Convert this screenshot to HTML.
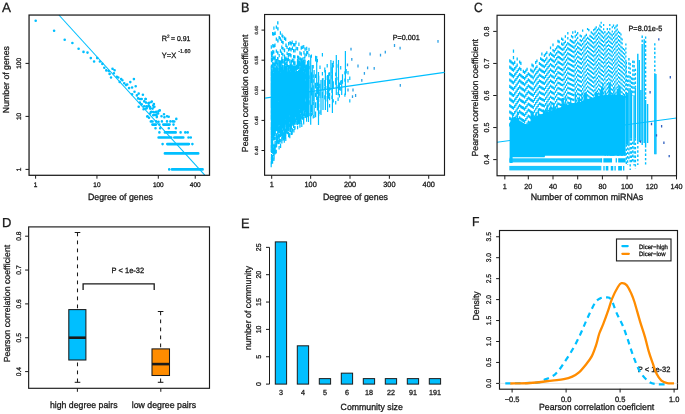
<!DOCTYPE html>
<html><head><meta charset="utf-8"><style>
html,body{margin:0;padding:0;background:#fff;width:685px;height:414px;overflow:hidden}
svg{display:block;will-change:transform}
</style></head><body>
<svg width="685" height="414" viewBox="0 0 685 414" font-family='"Liberation Sans", sans-serif'><line x1="497" y1="142.2" x2="676.5" y2="118" stroke="#00bfff" stroke-width="1.1"/><style>text{stroke:#111;stroke-width:0.28px;paint-order:stroke;text-rendering:geometricPrecision}</style><path d="M308.5 60.0V122.0M310.7 55.2V124.8M312.3 65.0V115.0M314.1 70.0V118.0M316.7 56.0V100.0M318.5 72.0V125.0M321.0 80.0V115.0M323.0 78.0V110.0M325.4 70.0V110.0M327.6 75.0V112.0M328.8 72.6V98.7M330.9 60.0V90.0M332.4 63.0V113.0M336.3 55.0V95.0M338.5 60.0V95.0M341.7 80.0V95.0M345.4 51.0V95.0" stroke="#00bfff" stroke-width="1.2" fill="none"/>
<path d="M271.4 79.1v3.4M271.4 100.9v3.4M271.3 96.7v3.4M271.5 87.9v3.4M271.4 57.3v3.4M271.2 115.9v3.4M271.3 111.8v3.4M271.4 100.4v3.4M271.5 113.6v3.4M271.5 80.9v3.4M271.6 85.7v3.4M271.3 89.6v3.4M271.5 113.6v3.4M271.6 110.5v3.4M271.2 83.3v3.4M271.6 122.6v3.4M271.2 85.8v3.4M271.2 97.4v3.4M271.6 83.7v3.4M271.2 110.2v3.4M271.5 108.8v3.4M271.3 80.9v3.4M271.3 88.3v3.4M271.3 117.2v3.4M271.6 114.7v3.4M271.3 84.7v3.4M271.5 153.9v3.4M271.3 148.1v3.4M271.2 88.2v3.4M271.4 115.9v3.4M271.4 83.7v3.4M271.4 86.1v3.4M271.3 106.2v3.4M271.5 87.4v3.4M271.6 111.8v3.4M271.6 140.3v3.4M271.2 83.0v3.4M271.6 85.4v3.4M271.5 90.4v3.4M271.3 84.1v3.4M271.3 92.2v3.4M271.5 88.6v3.4M271.3 88.0v3.4M271.3 161.1v3.4M271.3 111.0v3.4M271.3 100.2v3.4M271.5 160.5v3.4M271.4 71.7v3.4M271.6 98.8v3.4M271.6 94.3v3.4M271.5 84.0v3.4M271.6 82.6v3.4M271.6 74.2v3.4M271.5 87.4v3.4M271.5 117.9v3.4M271.5 87.3v3.4M271.4 108.6v3.4M271.4 69.8v3.4M271.5 89.2v3.4M271.5 69.3v3.4M271.5 89.9v3.4M271.2 71.7v3.4M271.2 114.7v3.4M271.5 84.4v3.4M271.4 95.7v3.4M271.3 93.0v3.4M271.3 97.7v3.4M271.4 130.9v3.4M271.3 83.2v3.4M271.5 103.5v3.4M271.6 124.3v3.4M271.3 84.0v3.4M271.5 87.8v3.4M271.3 85.9v3.4M271.4 64.5v3.4M271.5 100.2v3.4M271.3 124.3v3.4M271.2 126.9v3.4M271.5 91.5v3.4M271.3 89.0v3.4M271.2 77.9v3.4M271.5 90.4v3.4M271.3 95.0v3.4M271.5 84.0v3.4M271.5 83.6v3.4M271.4 89.8v3.4M271.2 85.7v3.4M271.3 91.3v3.4M271.5 85.7v3.4M271.4 77.9v3.4M271.6 79.7v3.4M271.3 138.3v3.4M271.5 85.1v3.4M271.6 81.9v3.4M271.6 121.2v3.4M271.5 88.3v3.4M271.5 86.4v3.4M271.6 108.2v3.4M271.5 51.3v3.4M271.6 157.9v3.4M271.4 90.1v3.4M271.5 103.5v3.4M271.2 148.6v3.4M271.3 103.1v3.4M271.3 97.1v3.4M271.5 86.6v3.4M271.4 82.3v3.4M271.2 66.1v3.4M271.5 83.2v3.4M271.4 91.4v3.4M271.4 83.4v3.4M271.6 89.2v3.4M271.4 141.3v3.4M271.3 67.6v3.4M271.2 76.7v3.4M271.4 51.3v3.4M271.4 92.7v3.4M271.4 91.4v3.4M271.6 88.9v3.4M271.3 91.4v3.4M271.5 127.9v3.4M271.3 82.7v3.4M271.6 97.0v3.4M271.3 94.2v3.4M271.5 90.5v3.4M271.2 82.8v3.4M271.2 127.1v3.4M271.4 93.0v3.4M271.4 113.6v3.4M271.3 86.1v3.4M271.5 91.7v3.4M271.5 118.4v3.4M271.5 79.7v3.4M271.3 115.2v3.4M271.3 87.0v3.4M271.3 69.3v3.4M271.2 91.7v3.4M271.4 83.8v3.4M271.5 115.2v3.4M271.3 115.5v3.4M271.2 162.3v3.4M271.5 76.4v3.4M271.2 90.0v3.4M271.2 85.9v3.4M271.3 77.5v3.4M271.3 91.6v3.4M271.2 163.9v3.4M271.6 91.4v3.4M271.4 95.6v3.4M271.4 82.4v3.4M271.5 141.1v3.4M271.4 97.0v3.4M271.3 86.5v3.4M271.2 104.5v3.4M271.5 108.5v3.4M271.4 75.3v3.4M271.5 58.9v3.4M271.6 92.1v3.4M271.4 103.0v3.4M271.6 71.3v3.4M271.4 98.7v3.4M271.2 72.7v3.4M271.3 91.3v3.4M271.4 93.9v3.4M271.3 136.3v3.4M271.4 87.0v3.4M271.5 53.7v3.4M271.4 99.6v3.4M271.3 92.7v3.4M271.4 112.5v3.4M271.3 99.4v3.4M271.6 79.4v3.4M271.6 88.6v3.4M271.4 97.5v3.4M271.2 88.6v3.4M271.3 111.8v3.4M271.4 122.6v3.4M271.4 123.6v3.4M271.3 88.8v3.4M271.3 84.4v3.4M271.3 80.3v3.4M271.3 93.3v3.4M271.4 102.2v3.4M271.6 93.0v3.4M271.2 89.2v3.4M271.6 80.7v3.4M271.4 108.2v3.4M271.6 90.7v3.4M271.4 79.7v3.4M271.3 83.6v3.4M271.4 83.7v3.4M271.4 76.3v3.4M271.4 109.2v3.4M271.6 99.7v3.4M271.5 78.5v3.4M271.5 142.5v3.4M271.3 136.0v3.4M271.4 86.9v3.4M271.5 78.8v3.4M271.6 93.6v3.4M271.4 115.9v3.4M271.2 102.2v3.4M271.5 104.9v3.4M271.5 98.8v3.4M271.3 84.8v3.4M271.5 95.9v3.4M271.4 134.3v3.4M271.3 131.6v3.4M271.3 91.9v3.4M271.6 149.5v3.4M271.6 74.1v3.4M271.3 87.0v3.4M271.2 101.9v3.4M271.4 89.6v3.4M271.2 86.8v3.4M271.5 144.2v3.4M271.5 86.6v3.4M271.3 140.1v3.4M271.2 91.3v3.4M271.4 81.7v3.4M271.4 156.9v3.4M271.3 83.2v3.4M271.6 70.4v3.4M271.3 135.8v3.4M271.4 85.2v3.4M271.4 116.6v3.4M271.4 70.9v3.4M271.5 87.3v3.4M271.4 92.5v3.4M271.4 99.5v3.4M271.5 57.3v3.4M271.2 72.8v3.4M271.5 86.9v3.4M271.3 131.0v3.4M271.5 115.4v3.4M271.4 102.8v3.4M271.4 145.0v3.4M271.4 138.5v3.4M271.5 89.5v3.4M271.5 120.5v3.4M271.5 86.7v3.4M271.6 125.7v3.4M271.4 71.3v3.4M271.4 103.5v3.4M271.5 81.1v3.4M271.3 45.3v3.4M271.6 84.1v3.4M271.3 104.7v3.4M271.3 80.6v3.4M271.4 76.4v3.4M271.2 100.1v3.4M271.3 91.3v3.4M271.3 89.7v3.4M271.3 77.2v3.4M271.4 94.3v3.4M271.4 82.7v3.4M271.3 145.3v3.4M271.6 75.7v3.4M271.6 94.8v3.4M271.4 102.8v3.4M271.6 83.5v3.4M271.3 92.1v3.4M271.5 81.6v3.4M271.4 98.1v3.4M271.3 108.1v3.4M271.4 115.8v3.4M271.4 117.4v3.4M271.5 92.6v3.4M271.5 119.1v3.4M271.3 72.1v3.4M271.4 122.1v3.4M271.4 113.4v3.4M271.4 86.0v3.4M271.2 144.7v3.4M271.4 103.1v3.4M271.5 130.6v3.4M271.3 91.2v3.4M271.5 104.5v3.4M271.4 90.8v3.4M271.6 87.8v3.4M271.4 92.0v3.4M271.3 91.5v3.4M271.6 91.3v3.4M271.3 94.2v3.4M271.4 90.1v3.4M271.3 122.2v3.4M271.3 88.4v3.4M271.3 85.0v3.4M272.6 98.8v3.4M272.8 88.2v3.4M272.8 105.4v3.4M272.5 119.5v3.4M272.7 101.1v3.4M272.9 105.3v3.4M272.8 75.6v3.4M272.7 91.6v3.4M272.7 91.0v3.4M272.9 95.5v3.4M272.5 84.1v3.4M272.6 79.0v3.4M272.7 115.0v3.4M272.8 110.3v3.4M272.9 119.8v3.4M272.6 134.3v3.4M272.9 121.7v3.4M272.8 128.5v3.4M272.8 115.6v3.4M272.5 158.9v3.4M272.6 76.4v3.4M272.6 84.3v3.4M272.6 148.5v3.4M272.7 147.8v3.4M272.9 84.1v3.4M272.7 62.0v3.4M272.8 89.4v3.4M272.7 110.0v3.4M272.6 87.5v3.4M272.6 99.4v3.4M272.8 68.0v3.4M272.8 96.3v3.4M272.8 81.0v3.4M272.6 119.1v3.4M272.7 110.7v3.4M272.7 115.3v3.4M272.8 83.0v3.4M272.8 88.4v3.4M272.7 130.8v3.4M272.7 88.7v3.4M272.7 95.3v3.4M272.8 68.0v3.4M272.7 72.8v3.4M272.7 122.2v3.4M272.9 84.6v3.4M272.9 136.8v3.4M272.7 108.6v3.4M272.5 87.4v3.4M272.7 129.5v3.4M272.8 89.7v3.4M272.6 98.6v3.4M272.5 85.9v3.4M272.9 105.8v3.4M272.8 113.1v3.4M272.8 83.5v3.4M272.8 103.7v3.4M272.7 89.7v3.4M272.6 114.5v3.4M272.5 92.9v3.4M272.6 104.5v3.4M272.5 81.8v3.4M272.7 112.8v3.4M272.9 86.7v3.4M272.9 99.4v3.4M272.6 116.2v3.4M272.6 84.6v3.4M272.9 118.9v3.4M272.9 87.6v3.4M272.5 87.1v3.4M272.8 82.9v3.4M272.6 150.3v3.4M272.5 122.0v3.4M272.6 87.9v3.4M272.6 98.9v3.4M272.8 110.1v3.4M272.7 79.8v3.4M272.6 71.6v3.4M272.8 88.0v3.4M272.9 84.5v3.4M272.5 78.3v3.4M272.6 90.2v3.4M272.6 96.9v3.4M272.6 88.0v3.4M272.9 85.5v3.4M272.7 32.0v3.4M272.7 90.5v3.4M272.7 85.3v3.4M272.6 92.9v3.4M272.7 100.0v3.4M272.8 78.7v3.4M272.8 110.0v3.4M272.7 90.6v3.4M272.8 73.6v3.4M272.6 111.1v3.4M272.7 99.7v3.4M272.7 130.4v3.4M272.6 71.0v3.4M272.5 82.1v3.4M272.6 81.0v3.4M272.5 105.3v3.4M272.8 79.2v3.4M272.6 86.5v3.4M272.7 117.2v3.4M272.6 99.5v3.4M272.6 138.5v3.4M272.6 121.2v3.4M272.5 117.7v3.4M272.6 74.4v3.4M272.7 101.2v3.4M272.9 92.2v3.4M272.5 73.8v3.4M272.9 106.1v3.4M272.7 84.9v3.4M272.5 108.1v3.4M272.8 62.0v3.4M272.6 92.5v3.4M272.9 129.6v3.4M272.7 75.2v3.4M272.6 90.4v3.4M272.8 89.5v3.4M272.7 117.3v3.4M272.7 84.1v3.4M272.6 98.6v3.4M272.6 119.0v3.4M272.6 100.1v3.4M272.9 124.6v3.4M272.7 105.6v3.4M272.8 86.7v3.4M272.6 92.5v3.4M272.7 98.4v3.4M272.6 90.8v3.4M272.9 83.6v3.4M272.9 97.4v3.4M272.6 73.7v3.4M272.6 144.9v3.4M272.7 122.8v3.4M272.5 85.9v3.4M272.7 106.1v3.4M272.7 88.0v3.4M272.8 121.0v3.4M272.6 90.1v3.4M272.6 75.3v3.4M272.8 83.0v3.4M272.6 108.9v3.4M272.5 94.6v3.4M272.7 101.0v3.4M272.8 117.0v3.4M272.6 91.3v3.4M272.8 77.9v3.4M272.8 67.0v3.4M272.5 82.1v3.4M272.6 105.5v3.4M272.7 91.5v3.4M272.6 109.6v3.4M272.6 93.7v3.4M272.6 105.6v3.4M272.8 88.3v3.4M272.7 78.3v3.4M272.5 120.1v3.4M272.7 104.2v3.4M272.5 88.7v3.4M272.9 112.6v3.4M272.6 91.5v3.4M272.7 135.8v3.4M272.9 82.6v3.4M272.8 121.7v3.4M272.6 82.3v3.4M272.9 108.8v3.4M272.6 99.7v3.4M272.6 91.0v3.4M272.6 109.2v3.4M272.8 91.9v3.4M272.7 129.2v3.4M272.7 93.1v3.4M272.7 76.8v3.4M272.9 87.8v3.4M272.6 78.6v3.4M272.8 142.5v3.4M272.6 145.6v3.4M272.7 87.8v3.4M272.8 86.1v3.4M272.6 110.2v3.4M272.7 89.4v3.4M272.5 109.0v3.4M272.5 129.1v3.4M272.8 120.0v3.4M272.8 123.2v3.4M272.6 142.5v3.4M272.8 101.2v3.4M272.8 81.4v3.4M272.8 82.7v3.4M272.7 135.2v3.4M272.8 88.4v3.4M272.6 76.7v3.4M272.6 88.6v3.4M272.7 85.2v3.4M272.8 108.1v3.4M272.8 91.7v3.4M272.8 78.2v3.4M272.8 115.8v3.4M272.6 32.0v3.4M272.7 99.1v3.4M272.8 85.6v3.4M272.6 110.7v3.4M272.9 77.8v3.4M272.8 79.1v3.4M272.6 97.9v3.4M272.9 86.4v3.4M272.6 86.8v3.4M272.7 93.9v3.4M272.6 86.1v3.4M272.6 86.0v3.4M272.9 102.9v3.4M272.5 96.2v3.4M272.6 52.0v3.4M272.7 103.2v3.4M272.5 103.1v3.4M272.8 81.6v3.4M272.8 88.0v3.4M272.8 50.0v3.4M272.6 160.4v3.4M272.5 100.0v3.4M272.8 105.6v3.4M272.6 91.1v3.4M272.5 92.7v3.4M272.8 111.8v3.4M272.8 73.1v3.4M272.5 102.2v3.4M272.7 58.0v3.4M272.5 92.8v3.4M272.6 156.5v3.4M272.8 80.9v3.4M272.8 123.9v3.4M272.6 88.1v3.4M272.6 154.7v3.4M272.7 104.3v3.4M272.6 139.3v3.4M272.7 109.6v3.4M272.7 113.9v3.4M272.9 86.4v3.4M272.9 125.3v3.4M272.9 93.2v3.4M272.9 87.1v3.4M272.6 77.1v3.4M272.8 117.6v3.4M272.6 89.5v3.4M272.8 32.0v3.4M272.8 109.4v3.4M272.8 74.2v3.4M272.7 76.1v3.4M272.8 134.5v3.4M272.8 129.2v3.4M272.7 86.3v3.4M272.7 106.7v3.4M272.7 83.7v3.4M272.9 83.5v3.4M272.8 55.8v3.4M272.8 110.7v3.4M272.8 44.0v3.4M272.6 126.5v3.4M272.8 92.0v3.4M272.7 117.6v3.4M272.8 32.0v3.4M272.6 74.0v3.4M272.8 78.6v3.4M272.6 103.1v3.4M272.8 125.9v3.4M272.6 109.3v3.4M272.7 123.4v3.4M272.8 76.6v3.4M272.5 89.2v3.4M272.8 102.8v3.4M272.7 106.4v3.4M272.7 105.2v3.4M272.8 130.5v3.4M272.8 91.7v3.4M272.5 85.0v3.4M272.6 86.1v3.4M272.8 130.3v3.4M272.7 123.8v3.4M272.5 125.0v3.4M272.6 84.1v3.4M272.8 56.0v3.4M272.6 85.6v3.4M272.7 117.7v3.4M272.7 125.4v3.4M272.6 64.3v3.4M272.6 91.7v3.4M272.6 87.5v3.4M272.8 150.3v3.4M272.8 119.1v3.4M272.7 88.0v3.4M272.7 84.3v3.4M272.6 104.3v3.4M272.7 88.6v3.4M272.9 84.9v3.4M272.8 83.2v3.4M272.7 105.5v3.4M272.5 143.0v3.4M272.6 129.0v3.4M272.9 87.5v3.4M273.8 83.0v3.4M273.7 75.4v3.4M273.7 97.7v3.4M273.9 84.7v3.4M273.7 100.7v3.4M274.0 56.4v3.4M273.9 76.9v3.4M273.9 90.9v3.4M274.1 93.3v3.4M274.0 91.7v3.4M273.9 76.2v3.4M273.9 65.5v3.4M274.0 84.8v3.4M273.7 111.6v3.4M274.0 62.5v3.4M274.1 80.5v3.4M274.0 111.0v3.4M273.8 101.0v3.4M273.9 93.6v3.4M273.8 50.4v3.4M273.8 129.1v3.4M273.8 104.5v3.4M273.8 79.5v3.4M273.7 134.6v3.4M273.8 88.4v3.4M273.9 127.1v3.4M273.9 121.0v3.4M273.9 66.2v3.4M274.0 95.2v3.4M273.9 90.1v3.4M273.9 110.7v3.4M273.9 117.4v3.4M273.7 68.4v3.4M273.8 90.9v3.4M274.0 129.4v3.4M273.7 86.2v3.4M273.9 84.0v3.4M274.0 84.9v3.4M274.0 108.9v3.4M273.9 73.9v3.4M274.0 144.4v3.4M274.0 88.0v3.4M273.8 89.5v3.4M274.0 56.4v3.4M273.8 93.4v3.4M274.0 88.6v3.4M273.9 104.3v3.4M274.1 86.1v3.4M273.9 89.0v3.4M273.9 101.1v3.4M273.8 92.7v3.4M273.8 99.7v3.4M273.9 124.3v3.4M273.8 92.6v3.4M274.0 89.3v3.4M273.9 76.4v3.4M274.0 81.9v3.4M274.0 95.9v3.4M273.8 128.6v3.4M274.0 113.4v3.4M274.0 68.6v3.4M274.1 112.4v3.4M274.0 113.8v3.4M274.0 76.2v3.4M273.7 134.1v3.4M273.8 128.7v3.4M273.9 104.9v3.4M274.1 110.7v3.4M273.9 88.6v3.4M273.9 79.3v3.4M274.0 70.2v3.4M273.7 85.5v3.4M274.0 85.9v3.4M273.9 83.2v3.4M273.8 72.6v3.4M273.9 103.7v3.4M273.8 75.7v3.4M273.7 95.2v3.4M273.8 99.5v3.4M274.1 84.0v3.4M273.9 104.7v3.4M273.7 118.2v3.4M273.9 79.5v3.4M274.1 80.3v3.4M273.9 109.7v3.4M274.1 119.4v3.4M273.8 89.8v3.4M274.0 68.4v3.4M273.8 112.1v3.4M273.8 137.2v3.4M273.9 104.2v3.4M274.1 71.5v3.4M274.1 88.0v3.4M273.8 105.7v3.4M273.7 92.3v3.4M274.1 103.5v3.4M273.9 75.5v3.4M273.7 125.1v3.4M274.0 116.4v3.4M274.0 131.5v3.4M274.0 73.9v3.4M273.9 113.7v3.4M274.0 87.9v3.4M274.0 108.4v3.4M273.9 123.4v3.4M274.0 108.4v3.4M274.1 156.2v3.4M273.8 93.7v3.4M274.0 134.9v3.4M273.9 144.2v3.4M274.1 152.9v3.4M273.9 73.9v3.4M274.0 90.5v3.4M274.1 88.1v3.4M273.8 104.7v3.4M273.7 101.6v3.4M274.1 102.1v3.4M273.8 89.6v3.4M274.0 112.5v3.4M273.9 120.4v3.4M274.1 76.1v3.4M274.1 79.2v3.4M273.8 115.3v3.4M273.7 133.5v3.4M273.9 81.5v3.4M274.0 74.3v3.4M273.7 78.5v3.4M273.9 111.1v3.4M273.8 90.5v3.4M273.8 72.7v3.4M273.8 129.3v3.4M274.0 81.6v3.4M273.9 91.2v3.4M273.8 99.8v3.4M273.8 121.7v3.4M273.9 80.2v3.4M273.7 82.4v3.4M274.0 122.5v3.4M273.7 105.8v3.4M273.9 127.3v3.4M273.7 115.5v3.4M273.7 118.9v3.4M274.0 123.6v3.4M274.0 44.4v3.4M274.1 111.2v3.4M274.1 92.3v3.4M273.7 152.0v3.4M274.1 88.4v3.4M273.8 98.2v3.4M273.8 101.2v3.4M274.0 102.2v3.4M273.7 104.0v3.4M274.0 90.0v3.4M274.0 84.3v3.4M273.8 88.7v3.4M274.1 65.7v3.4M273.8 89.9v3.4M273.8 87.2v3.4M274.0 104.6v3.4M273.7 80.8v3.4M274.1 153.9v3.4M274.0 99.1v3.4M273.7 130.6v3.4M274.1 89.0v3.4M273.9 68.3v3.4M273.9 74.9v3.4M273.9 100.6v3.4M274.0 119.2v3.4M273.9 26.4v3.4M273.7 56.4v3.4M273.8 100.5v3.4M274.0 117.0v3.4M274.0 90.8v3.4M273.8 92.3v3.4M273.9 85.4v3.4M274.1 84.8v3.4M274.0 87.9v3.4M273.9 123.6v3.4M274.1 81.6v3.4M273.9 114.3v3.4M274.0 88.5v3.4M273.7 81.7v3.4M273.7 79.6v3.4M274.0 105.0v3.4M273.9 76.1v3.4M273.7 112.9v3.4M274.0 79.9v3.4M273.9 96.7v3.4M273.8 97.7v3.4M273.7 82.2v3.4M274.0 86.6v3.4M273.7 90.2v3.4M273.8 100.2v3.4M274.1 85.5v3.4M274.0 80.4v3.4M273.8 87.3v3.4M274.0 131.3v3.4M273.7 85.4v3.4M274.0 146.5v3.4M274.0 117.3v3.4M274.0 64.7v3.4M274.0 69.7v3.4M273.8 32.4v3.4M273.9 130.7v3.4M273.8 76.7v3.4M274.0 79.4v3.4M273.9 86.4v3.4M274.0 81.5v3.4M274.1 91.4v3.4M274.0 124.4v3.4M274.1 116.6v3.4M273.9 83.2v3.4M273.9 109.2v3.4M273.7 116.5v3.4M273.8 94.4v3.4M273.7 87.1v3.4M273.9 83.8v3.4M273.7 87.7v3.4M273.7 102.7v3.4M273.7 92.4v3.4M274.1 82.9v3.4M273.9 91.1v3.4M273.8 76.5v3.4M274.0 150.9v3.4M274.0 105.9v3.4M273.7 152.6v3.4M274.0 80.4v3.4M274.1 96.9v3.4M273.9 127.0v3.4M273.7 87.5v3.4M273.8 130.3v3.4M273.9 62.4v3.4M273.8 91.3v3.4M273.7 101.8v3.4M273.8 68.4v3.4M274.1 95.1v3.4M273.9 123.2v3.4M274.1 93.1v3.4M274.0 97.1v3.4M274.0 83.9v3.4M273.8 122.7v3.4M273.9 110.9v3.4M273.9 91.8v3.4M273.8 73.3v3.4M274.1 148.0v3.4M273.8 90.6v3.4M273.9 114.9v3.4M274.0 76.2v3.4M273.8 104.4v3.4M274.0 95.2v3.4M273.7 85.1v3.4M273.9 100.1v3.4M273.9 91.1v3.4M274.0 75.9v3.4M274.1 112.3v3.4M273.8 66.4v3.4M274.1 79.8v3.4M273.8 82.8v3.4M273.9 88.6v3.4M273.9 89.7v3.4M273.9 106.1v3.4M273.9 83.4v3.4M274.0 83.5v3.4M273.9 157.5v3.4M273.7 101.2v3.4M273.8 56.4v3.4M273.9 131.4v3.4M273.8 87.5v3.4M274.0 81.5v3.4M273.7 104.6v3.4M273.8 79.4v3.4M274.0 80.0v3.4M273.9 147.3v3.4M273.7 132.8v3.4M273.9 89.0v3.4M273.8 90.3v3.4M273.7 94.8v3.4M273.8 85.7v3.4M274.0 90.6v3.4M273.9 80.0v3.4M273.9 85.9v3.4M273.9 76.7v3.4M273.7 76.4v3.4M273.8 90.9v3.4M273.7 90.6v3.4M273.8 87.6v3.4M273.8 84.1v3.4M274.0 115.0v3.4M273.7 68.6v3.4M273.9 97.9v3.4M273.9 83.2v3.4M274.1 85.3v3.4M274.1 128.4v3.4M274.0 107.8v3.4M273.9 126.0v3.4M274.0 95.6v3.4M273.7 82.2v3.4M274.0 81.3v3.4M274.0 72.3v3.4M273.9 116.5v3.4M273.9 96.4v3.4M273.9 76.6v3.4M273.9 124.3v3.4M274.0 107.8v3.4M274.0 96.9v3.4M273.7 113.2v3.4M273.8 95.3v3.4M273.8 84.5v3.4M273.8 114.0v3.4M275.1 125.1v3.4M275.2 79.4v3.4M275.1 82.3v3.4M275.1 105.8v3.4M275.0 105.5v3.4M275.0 67.9v3.4M275.0 102.8v3.4M275.2 76.5v3.4M275.2 85.1v3.4M275.1 75.7v3.4M275.3 150.4v3.4M274.9 67.3v3.4M275.1 124.1v3.4M275.2 89.8v3.4M275.3 102.7v3.4M275.0 92.2v3.4M275.1 88.8v3.4M275.1 88.0v3.4M275.0 79.2v3.4M275.3 83.9v3.4M275.1 98.3v3.4M275.1 119.8v3.4M275.2 110.5v3.4M274.9 94.5v3.4M275.1 77.3v3.4M275.2 148.4v3.4M275.2 108.7v3.4M274.9 74.8v3.4M274.9 103.5v3.4M275.1 105.8v3.4M275.2 88.5v3.4M275.2 110.4v3.4M275.1 99.6v3.4M275.2 91.1v3.4M275.1 90.8v3.4M275.0 31.5v3.4M275.2 85.0v3.4M275.0 99.8v3.4M275.2 109.9v3.4M275.2 55.5v3.4M274.9 89.7v3.4M275.1 78.8v3.4M275.3 98.3v3.4M275.0 94.3v3.4M275.0 70.3v3.4M275.1 77.9v3.4M275.0 84.4v3.4M274.9 89.0v3.4M275.1 108.8v3.4M275.1 96.0v3.4M274.9 95.4v3.4M275.0 73.3v3.4M275.3 98.5v3.4M274.9 93.9v3.4M275.3 112.3v3.4M274.9 79.1v3.4M275.0 97.0v3.4M275.0 104.2v3.4M275.0 81.2v3.4M275.1 89.9v3.4M275.1 89.1v3.4M275.0 93.7v3.4M275.1 118.5v3.4M275.3 82.1v3.4M275.0 78.5v3.4M275.3 119.5v3.4M275.2 90.4v3.4M275.2 113.4v3.4M275.2 102.6v3.4M274.9 116.1v3.4M275.2 61.5v3.4M275.3 68.6v3.4M275.3 73.9v3.4M275.2 61.5v3.4M275.1 31.5v3.4M274.9 122.8v3.4M275.0 125.4v3.4M275.1 86.4v3.4M275.3 87.6v3.4M275.0 80.2v3.4M275.0 122.0v3.4M274.9 92.2v3.4M275.0 93.5v3.4M274.9 129.0v3.4M275.0 91.6v3.4M275.3 88.5v3.4M275.0 69.2v3.4M275.1 84.9v3.4M275.0 131.5v3.4M275.1 109.4v3.4M274.9 90.8v3.4M275.1 109.4v3.4M275.3 130.5v3.4M275.1 98.2v3.4M275.2 96.5v3.4M274.9 107.8v3.4M274.9 83.4v3.4M274.9 107.5v3.4M275.0 95.3v3.4M274.9 103.1v3.4M275.2 82.7v3.4M275.2 77.6v3.4M275.3 87.2v3.4M275.1 98.1v3.4M275.1 75.7v3.4M275.1 81.0v3.4M275.0 84.0v3.4M275.2 77.3v3.4M275.1 59.2v3.4M275.3 101.1v3.4M275.1 81.2v3.4M274.9 62.7v3.4M275.0 89.5v3.4M275.1 86.3v3.4M275.0 83.1v3.4M275.0 99.8v3.4M275.0 114.7v3.4M275.3 83.4v3.4M275.0 127.9v3.4M275.1 107.7v3.4M275.0 113.8v3.4M274.9 88.2v3.4M275.3 84.7v3.4M275.0 81.5v3.4M275.0 81.7v3.4M275.0 84.3v3.4M275.3 144.6v3.4M275.0 118.5v3.4M274.9 130.1v3.4M275.0 80.3v3.4M275.0 141.4v3.4M275.0 85.1v3.4M275.0 91.7v3.4M275.2 72.3v3.4M274.9 86.6v3.4M275.2 95.4v3.4M275.0 85.5v3.4M275.3 83.5v3.4M275.1 120.1v3.4M275.2 121.4v3.4M275.1 141.0v3.4M275.0 70.3v3.4M275.0 81.0v3.4M275.2 120.1v3.4M275.1 82.2v3.4M275.0 71.8v3.4M275.3 129.6v3.4M275.1 119.7v3.4M275.3 115.5v3.4M275.0 121.0v3.4M275.0 100.5v3.4M275.0 144.5v3.4M275.2 83.9v3.4M275.2 102.0v3.4M274.9 88.9v3.4M275.2 107.4v3.4M275.1 120.6v3.4M274.9 95.2v3.4M275.0 73.0v3.4M275.2 147.2v3.4M274.9 125.3v3.4M274.9 125.7v3.4M275.3 86.6v3.4M275.3 100.5v3.4M275.1 94.3v3.4M275.2 75.2v3.4M275.1 80.3v3.4M275.2 90.2v3.4M274.9 104.1v3.4M274.9 70.8v3.4M275.1 113.9v3.4M275.1 89.9v3.4M275.2 96.6v3.4M274.9 81.9v3.4M274.9 136.9v3.4M275.2 121.9v3.4M275.1 86.3v3.4M275.1 81.8v3.4M275.0 89.9v3.4M275.1 87.4v3.4M275.1 93.9v3.4M275.0 124.9v3.4M275.2 63.2v3.4M275.0 95.9v3.4M275.3 105.1v3.4M275.0 86.3v3.4M275.2 94.7v3.4M275.1 97.0v3.4M275.0 79.8v3.4M275.0 85.0v3.4M275.0 75.1v3.4M274.9 83.9v3.4M275.1 108.3v3.4M275.0 95.8v3.4M275.0 90.0v3.4M275.1 73.2v3.4M274.9 80.2v3.4M275.2 94.3v3.4M274.9 83.9v3.4M275.2 84.3v3.4M275.1 132.8v3.4M275.0 71.5v3.4M275.3 100.6v3.4M275.0 151.1v3.4M275.2 31.5v3.4M275.0 85.3v3.4M275.0 113.1v3.4M275.2 77.1v3.4M275.0 112.5v3.4M275.3 99.1v3.4M275.0 96.7v3.4M275.0 88.3v3.4M275.1 100.2v3.4M275.1 95.7v3.4M275.2 91.9v3.4M275.1 97.1v3.4M275.0 92.0v3.4M274.9 100.8v3.4M275.3 90.1v3.4M275.1 93.1v3.4M275.2 104.2v3.4M275.1 94.3v3.4M275.2 92.7v3.4M275.3 78.3v3.4M275.1 86.4v3.4M275.1 80.6v3.4M275.2 97.8v3.4M275.1 89.5v3.4M275.1 120.3v3.4M275.0 101.4v3.4M275.1 119.0v3.4M275.0 126.4v3.4M275.2 110.8v3.4M275.2 93.3v3.4M275.2 127.8v3.4M275.3 112.2v3.4M275.0 121.2v3.4M275.3 98.6v3.4M275.0 112.3v3.4M274.9 112.1v3.4M275.1 81.0v3.4M275.3 108.0v3.4M275.0 132.8v3.4M275.1 80.1v3.4M275.3 83.8v3.4M274.9 85.6v3.4M275.2 103.0v3.4M275.0 132.8v3.4M275.0 105.0v3.4M275.3 67.6v3.4M275.1 55.5v3.4M275.0 95.8v3.4M275.2 78.3v3.4M275.3 88.2v3.4M275.0 87.3v3.4M275.3 67.5v3.4M275.1 120.2v3.4M275.2 74.4v3.4M274.9 96.5v3.4M275.1 89.5v3.4M275.2 120.4v3.4M275.2 91.7v3.4M275.3 89.6v3.4M275.2 89.0v3.4M275.2 100.3v3.4M274.9 119.5v3.4M275.0 85.3v3.4M275.1 104.0v3.4M274.9 125.5v3.4M275.1 83.1v3.4M275.0 84.0v3.4M275.2 85.2v3.4M275.2 81.4v3.4M275.2 68.5v3.4M275.1 122.4v3.4M275.1 58.9v3.4M275.0 115.6v3.4M275.2 80.0v3.4M275.2 126.8v3.4M275.3 91.0v3.4M274.9 113.1v3.4M275.0 85.2v3.4M275.0 43.5v3.4M275.1 110.5v3.4M275.1 105.1v3.4M276.3 86.0v3.4M276.4 77.9v3.4M276.5 88.2v3.4M276.5 82.2v3.4M276.6 71.0v3.4M276.5 121.0v3.4M276.3 25.4v3.4M276.2 87.2v3.4M276.4 107.7v3.4M276.4 97.8v3.4M276.4 87.2v3.4M276.4 100.8v3.4M276.5 91.4v3.4M276.4 104.9v3.4M276.5 100.9v3.4M276.3 49.4v3.4M276.3 86.9v3.4M276.5 67.0v3.4M276.3 74.1v3.4M276.4 90.9v3.4M276.5 124.9v3.4M276.5 127.6v3.4M276.5 83.3v3.4M276.4 98.6v3.4M276.3 37.4v3.4M276.3 87.9v3.4M276.5 69.7v3.4M276.2 88.5v3.4M276.3 83.1v3.4M276.6 101.1v3.4M276.4 98.7v3.4M276.3 124.7v3.4M276.6 81.9v3.4M276.5 96.4v3.4M276.4 94.7v3.4M276.3 68.7v3.4M276.4 85.0v3.4M276.4 82.1v3.4M276.3 119.5v3.4M276.3 119.0v3.4M276.4 74.8v3.4M276.4 105.9v3.4M276.5 103.1v3.4M276.2 110.3v3.4M276.5 125.4v3.4M276.3 150.2v3.4M276.3 109.7v3.4M276.2 90.5v3.4M276.4 104.6v3.4M276.3 72.5v3.4M276.4 82.0v3.4M276.4 86.0v3.4M276.5 25.4v3.4M276.6 96.7v3.4M276.4 79.1v3.4M276.5 133.3v3.4M276.3 86.0v3.4M276.4 59.0v3.4M276.4 110.8v3.4M276.5 92.1v3.4M276.2 66.3v3.4M276.2 123.6v3.4M276.4 65.2v3.4M276.5 80.5v3.4M276.6 110.1v3.4M276.4 104.4v3.4M276.5 87.3v3.4M276.4 100.4v3.4M276.3 118.1v3.4M276.3 100.0v3.4M276.5 61.3v3.4M276.6 87.4v3.4M276.4 122.1v3.4M276.3 78.4v3.4M276.4 61.4v3.4M276.2 87.3v3.4M276.6 70.9v3.4M276.4 91.7v3.4M276.3 84.1v3.4M276.5 75.0v3.4M276.2 100.2v3.4M276.5 98.5v3.4M276.6 122.0v3.4M276.4 84.0v3.4M276.5 89.2v3.4M276.2 101.5v3.4M276.5 97.0v3.4M276.4 114.7v3.4M276.5 87.8v3.4M276.5 98.1v3.4M276.3 88.1v3.4M276.5 49.4v3.4M276.3 105.6v3.4M276.3 91.4v3.4M276.3 70.5v3.4M276.2 136.1v3.4M276.5 99.6v3.4M276.3 92.5v3.4M276.6 101.6v3.4M276.2 111.6v3.4M276.5 140.3v3.4M276.3 84.5v3.4M276.2 88.0v3.4M276.4 84.6v3.4M276.2 87.8v3.4M276.5 84.6v3.4M276.2 127.9v3.4M276.5 78.2v3.4M276.3 88.1v3.4M276.6 123.7v3.4M276.4 70.5v3.4M276.4 126.7v3.4M276.2 83.1v3.4M276.3 71.9v3.4M276.5 76.6v3.4M276.4 83.0v3.4M276.4 77.7v3.4M276.2 91.7v3.4M276.5 89.4v3.4M276.3 111.1v3.4M276.4 67.1v3.4M276.3 94.7v3.4M276.3 81.5v3.4M276.2 91.0v3.4M276.3 93.1v3.4M276.6 68.9v3.4M276.3 111.8v3.4M276.3 77.1v3.4M276.4 88.7v3.4M276.5 91.2v3.4M276.2 85.0v3.4M276.5 85.4v3.4M276.3 84.6v3.4M276.4 88.9v3.4M276.2 109.1v3.4M276.6 143.9v3.4M276.5 85.6v3.4M276.6 107.2v3.4M276.4 124.4v3.4M276.6 93.0v3.4M276.4 84.5v3.4M276.3 117.4v3.4M276.3 79.3v3.4M276.3 93.4v3.4M276.5 75.6v3.4M276.3 99.8v3.4M276.3 84.5v3.4M276.6 75.2v3.4M276.4 126.3v3.4M276.6 91.6v3.4M276.6 86.4v3.4M276.3 98.8v3.4M276.2 100.3v3.4M276.5 114.2v3.4M276.6 135.3v3.4M276.4 88.3v3.4M276.5 37.4v3.4M276.4 70.4v3.4M276.3 99.9v3.4M276.4 125.1v3.4M276.5 99.5v3.4M276.3 84.6v3.4M276.4 100.1v3.4M276.2 124.3v3.4M276.4 104.6v3.4M276.3 149.7v3.4M276.2 96.3v3.4M276.5 84.4v3.4M276.5 94.2v3.4M276.2 67.4v3.4M276.5 144.0v3.4M276.3 102.0v3.4M276.3 112.9v3.4M276.3 80.8v3.4M276.2 79.0v3.4M276.5 105.3v3.4M276.3 98.2v3.4M276.3 126.6v3.4M276.3 90.4v3.4M276.6 74.3v3.4M276.3 75.2v3.4M276.2 116.3v3.4M276.3 102.2v3.4M276.3 85.4v3.4M276.6 77.0v3.4M276.3 100.9v3.4M276.4 89.0v3.4M276.5 77.7v3.4M276.4 76.4v3.4M276.2 80.0v3.4M276.4 69.1v3.4M276.5 80.8v3.4M276.5 82.8v3.4M276.4 88.7v3.4M276.4 79.4v3.4M276.4 88.3v3.4M276.4 90.1v3.4M276.4 93.3v3.4M276.5 94.8v3.4M276.4 82.5v3.4M276.4 80.3v3.4M276.3 85.8v3.4M276.6 135.3v3.4M276.4 117.1v3.4M276.5 110.9v3.4M276.4 101.0v3.4M276.6 104.7v3.4M276.3 88.0v3.4M276.4 87.9v3.4M276.2 92.1v3.4M276.4 117.7v3.4M276.4 82.2v3.4M276.3 97.4v3.4M276.4 111.3v3.4M276.4 105.6v3.4M276.2 76.1v3.4M276.5 25.4v3.4M276.6 88.4v3.4M276.5 86.6v3.4M276.6 70.7v3.4M276.5 72.1v3.4M276.5 82.5v3.4M276.4 127.6v3.4M276.5 125.9v3.4M276.4 90.7v3.4M276.6 121.7v3.4M276.5 105.8v3.4M276.4 108.4v3.4M276.3 37.4v3.4M276.4 83.8v3.4M276.4 84.6v3.4M276.2 86.8v3.4M276.3 74.9v3.4M276.5 112.5v3.4M276.3 85.8v3.4M276.3 71.0v3.4M276.5 133.3v3.4M276.4 91.1v3.4M276.3 102.5v3.4M276.3 98.7v3.4M276.5 93.0v3.4M276.5 106.9v3.4M276.3 117.4v3.4M276.4 142.7v3.4M276.3 82.5v3.4M276.2 110.5v3.4M276.6 83.2v3.4M276.5 106.1v3.4M276.2 91.7v3.4M276.3 88.4v3.4M276.5 110.6v3.4M276.4 119.3v3.4M276.2 87.1v3.4M276.5 111.4v3.4M276.5 108.1v3.4M276.5 77.1v3.4M276.4 80.2v3.4M276.4 80.6v3.4M276.5 79.8v3.4M276.5 119.2v3.4M276.5 77.6v3.4M276.4 95.3v3.4M276.3 88.4v3.4M276.2 82.8v3.4M276.4 127.6v3.4M276.5 88.2v3.4M276.4 103.4v3.4M276.3 84.6v3.4M276.4 138.9v3.4M277.9 126.6v3.4M277.7 88.2v3.4M277.7 108.1v3.4M277.8 79.7v3.4M277.7 120.0v3.4M277.9 21.2v3.4M277.9 73.3v3.4M278.0 82.1v3.4M277.8 82.0v3.4M277.9 72.2v3.4M278.0 91.2v3.4M277.7 63.2v3.4M277.8 75.4v3.4M277.8 77.4v3.4M277.7 119.5v3.4M277.6 90.0v3.4M277.8 85.6v3.4M277.9 134.0v3.4M277.6 104.4v3.4M277.8 81.4v3.4M277.9 140.5v3.4M277.8 70.2v3.4M277.9 128.4v3.4M277.8 98.6v3.4M277.7 117.8v3.4M277.9 107.5v3.4M278.0 98.2v3.4M278.0 114.1v3.4M277.9 112.6v3.4M277.9 91.1v3.4M277.7 102.0v3.4M277.7 127.6v3.4M278.0 99.9v3.4M277.8 76.6v3.4M277.9 85.4v3.4M277.9 91.1v3.4M277.9 133.1v3.4M278.0 69.6v3.4M277.9 63.2v3.4M277.7 97.6v3.4M277.6 106.5v3.4M277.6 114.4v3.4M277.8 74.3v3.4M277.8 83.1v3.4M277.7 116.8v3.4M277.8 39.2v3.4M277.8 93.1v3.4M277.7 120.5v3.4M278.0 77.2v3.4M277.7 119.5v3.4M278.0 57.2v3.4M278.0 87.0v3.4M278.0 90.9v3.4M277.9 101.8v3.4M277.9 121.3v3.4M277.6 127.6v3.4M277.7 113.8v3.4M277.7 79.1v3.4M278.0 80.8v3.4M277.8 82.3v3.4M277.8 113.2v3.4M277.8 114.2v3.4M277.7 69.2v3.4M278.0 68.3v3.4M277.8 140.0v3.4M277.7 76.6v3.4M277.6 78.9v3.4M278.0 133.5v3.4M278.0 140.9v3.4M277.8 69.3v3.4M278.0 87.6v3.4M277.8 84.4v3.4M277.7 106.6v3.4M278.0 103.2v3.4M277.6 137.2v3.4M277.8 81.0v3.4M277.7 90.9v3.4M277.9 78.8v3.4M277.6 90.5v3.4M277.8 104.0v3.4M277.8 79.1v3.4M277.9 83.0v3.4M277.6 87.3v3.4M277.8 99.1v3.4M277.7 84.7v3.4M277.8 88.3v3.4M277.9 119.4v3.4M277.9 94.2v3.4M277.8 81.1v3.4M277.9 85.3v3.4M277.9 87.3v3.4M277.8 114.2v3.4M277.8 71.6v3.4M277.7 124.9v3.4M277.9 98.5v3.4M277.9 91.3v3.4M277.8 87.2v3.4M278.0 86.4v3.4M277.6 81.4v3.4M277.8 80.7v3.4M277.9 105.8v3.4M277.9 63.2v3.4M277.8 107.2v3.4M277.8 114.8v3.4M277.7 87.9v3.4M277.7 88.0v3.4M277.8 86.8v3.4M277.7 80.9v3.4M277.9 103.8v3.4M277.7 125.0v3.4M277.8 93.2v3.4M278.0 118.5v3.4M277.6 91.9v3.4M277.9 122.1v3.4M277.7 123.6v3.4M277.6 70.9v3.4M277.6 98.1v3.4M277.8 90.4v3.4M277.9 92.8v3.4M277.8 81.1v3.4M277.6 98.3v3.4M277.8 96.2v3.4M277.7 114.6v3.4M277.7 73.0v3.4M277.8 92.6v3.4M277.9 79.6v3.4M277.9 88.8v3.4M277.7 82.3v3.4M277.8 66.6v3.4M277.8 75.3v3.4M278.0 97.8v3.4M277.7 76.3v3.4M277.6 82.8v3.4M277.7 78.1v3.4M277.7 78.0v3.4M277.7 94.5v3.4M277.7 103.4v3.4M277.9 83.6v3.4M277.9 110.9v3.4M277.7 89.3v3.4M277.7 82.0v3.4M277.6 109.6v3.4M277.6 122.7v3.4M277.8 109.5v3.4M278.0 101.9v3.4M277.8 87.4v3.4M277.8 135.6v3.4M277.7 21.2v3.4M277.8 83.1v3.4M277.9 110.6v3.4M277.6 102.3v3.4M277.8 120.2v3.4M277.6 85.1v3.4M277.8 60.0v3.4M277.7 67.6v3.4M277.7 120.0v3.4M277.7 73.7v3.4M277.9 90.7v3.4M277.6 78.4v3.4M277.8 107.3v3.4M278.0 80.8v3.4M277.6 57.0v3.4M277.8 140.4v3.4M277.9 109.7v3.4M277.7 93.8v3.4M277.6 78.0v3.4M277.9 84.1v3.4M277.7 114.4v3.4M277.8 120.7v3.4M277.9 74.7v3.4M277.6 96.5v3.4M277.8 95.7v3.4M277.9 114.3v3.4M278.0 77.9v3.4M277.8 94.9v3.4M277.7 92.8v3.4M278.0 99.4v3.4M277.7 95.9v3.4M277.8 90.6v3.4M277.6 90.8v3.4M277.7 86.9v3.4M277.6 109.5v3.4M277.6 83.7v3.4M277.9 51.2v3.4M277.8 129.5v3.4M277.9 90.8v3.4M277.6 106.9v3.4M277.9 134.6v3.4M277.7 57.2v3.4M278.0 119.5v3.4M277.8 84.2v3.4M278.0 128.6v3.4M277.7 125.1v3.4M277.9 92.6v3.4M277.9 99.9v3.4M277.9 75.6v3.4M277.9 132.4v3.4M277.8 88.7v3.4M277.8 51.2v3.4M277.8 80.9v3.4M277.9 128.7v3.4M278.0 97.4v3.4M277.8 83.2v3.4M278.0 74.4v3.4M277.8 95.9v3.4M277.7 76.0v3.4M277.7 83.5v3.4M277.7 105.1v3.4M277.6 91.6v3.4M277.8 90.4v3.4M277.9 133.2v3.4M277.9 81.3v3.4M277.6 101.2v3.4M277.9 97.2v3.4M277.8 98.1v3.4M277.7 106.3v3.4M277.6 57.2v3.4M277.6 103.5v3.4M277.6 88.7v3.4M277.7 89.2v3.4M277.8 99.7v3.4M277.7 81.1v3.4M277.7 129.0v3.4M277.9 88.9v3.4M277.6 79.3v3.4M277.7 67.9v3.4M278.0 91.3v3.4M277.8 93.1v3.4M277.7 130.5v3.4M277.8 91.9v3.4M277.9 69.2v3.4M278.0 74.8v3.4M278.0 27.2v3.4M277.8 82.3v3.4M277.9 96.1v3.4M277.8 112.7v3.4M277.9 104.2v3.4M277.8 100.5v3.4M277.7 91.0v3.4M277.8 89.4v3.4M277.7 88.1v3.4M278.0 81.5v3.4M277.9 77.4v3.4M277.6 71.2v3.4M277.6 139.3v3.4M277.9 121.2v3.4M277.6 87.3v3.4M277.9 85.7v3.4M277.9 105.2v3.4M277.8 67.1v3.4M277.7 51.2v3.4M277.9 94.4v3.4M277.9 105.0v3.4M277.6 71.4v3.4M277.6 118.4v3.4M277.7 106.1v3.4M277.6 93.9v3.4M277.9 76.9v3.4M277.8 75.7v3.4M277.8 27.2v3.4M277.6 117.9v3.4M277.6 77.8v3.4M278.0 82.2v3.4M277.9 108.7v3.4M277.7 96.1v3.4M277.9 70.2v3.4M278.0 116.3v3.4M277.6 101.2v3.4M277.9 97.5v3.4M277.9 87.9v3.4M277.9 87.6v3.4M277.9 111.9v3.4M277.6 80.6v3.4M277.9 70.8v3.4M277.6 98.5v3.4M278.0 39.2v3.4M277.7 91.9v3.4M277.7 83.1v3.4M278.0 115.3v3.4M278.0 91.7v3.4M277.8 90.7v3.4M277.8 90.2v3.4M278.0 78.9v3.4M277.8 75.1v3.4M279.1 87.1v3.4M279.2 63.0v3.4M279.3 106.2v3.4M279.1 80.1v3.4M279.0 94.0v3.4M279.2 89.5v3.4M279.3 102.7v3.4M279.3 85.0v3.4M279.2 115.3v3.4M279.2 103.0v3.4M279.3 80.1v3.4M279.1 108.0v3.4M279.2 87.9v3.4M279.1 59.9v3.4M279.2 62.3v3.4M279.3 91.6v3.4M279.2 104.9v3.4M279.3 118.7v3.4M279.4 85.6v3.4M279.2 104.8v3.4M279.3 59.9v3.4M279.0 107.4v3.4M279.2 107.8v3.4M279.1 120.0v3.4M279.3 89.9v3.4M279.2 80.1v3.4M279.2 106.4v3.4M279.2 82.8v3.4M279.3 92.4v3.4M279.2 59.9v3.4M279.1 120.1v3.4M279.2 116.2v3.4M279.4 110.8v3.4M279.2 80.5v3.4M279.2 76.5v3.4M279.2 84.1v3.4M279.1 91.9v3.4M279.1 76.7v3.4M279.3 66.3v3.4M279.2 85.7v3.4M279.2 90.1v3.4M279.2 105.3v3.4M279.2 59.9v3.4M279.3 69.2v3.4M279.4 116.7v3.4M279.2 79.3v3.4M279.2 121.2v3.4M279.2 134.4v3.4M279.3 79.9v3.4M279.1 114.6v3.4M279.1 107.4v3.4M279.2 91.8v3.4M279.3 110.6v3.4M279.2 93.6v3.4M279.1 80.0v3.4M279.0 133.6v3.4M279.1 80.1v3.4M279.1 83.7v3.4M279.2 84.5v3.4M279.3 75.4v3.4M279.3 90.7v3.4M279.0 75.1v3.4M279.2 98.0v3.4M279.1 97.5v3.4M279.1 105.0v3.4M279.1 90.7v3.4M279.2 126.7v3.4M279.1 129.7v3.4M279.0 119.9v3.4M279.1 113.9v3.4M279.0 70.7v3.4M279.4 108.4v3.4M279.1 109.2v3.4M279.2 96.2v3.4M279.1 78.6v3.4M279.2 96.1v3.4M279.1 91.1v3.4M279.0 78.8v3.4M279.1 81.2v3.4M279.1 103.8v3.4M279.2 87.0v3.4M279.2 87.9v3.4M279.0 125.1v3.4M279.3 69.4v3.4M279.3 117.2v3.4M279.2 87.1v3.4M279.3 106.0v3.4M279.2 80.0v3.4M279.4 86.1v3.4M279.4 91.3v3.4M279.2 93.0v3.4M279.2 88.6v3.4M279.3 79.8v3.4M279.1 88.0v3.4M279.2 93.5v3.4M279.3 112.3v3.4M279.1 35.9v3.4M279.0 124.5v3.4M279.2 93.3v3.4M279.0 111.8v3.4M279.1 91.3v3.4M279.4 91.2v3.4M279.1 80.7v3.4M279.1 71.2v3.4M279.3 87.6v3.4M279.2 84.5v3.4M279.0 88.2v3.4M279.3 88.6v3.4M279.1 108.4v3.4M279.0 98.0v3.4M279.4 88.9v3.4M279.2 79.7v3.4M279.2 91.5v3.4M279.3 67.6v3.4M279.1 102.1v3.4M279.0 124.5v3.4M279.2 89.7v3.4M279.2 86.5v3.4M279.1 140.7v3.4M279.2 77.5v3.4M279.2 87.6v3.4M279.1 83.3v3.4M279.1 111.2v3.4M279.3 90.1v3.4M279.4 96.0v3.4M279.1 89.9v3.4M279.1 120.7v3.4M279.4 99.5v3.4M279.1 94.0v3.4M279.1 82.8v3.4M279.3 113.0v3.4M279.2 91.3v3.4M279.2 121.8v3.4M279.2 112.9v3.4M279.2 53.9v3.4M279.2 86.3v3.4M279.2 86.8v3.4M279.3 84.1v3.4M279.3 89.1v3.4M279.1 60.0v3.4M279.3 128.7v3.4M279.1 121.4v3.4M279.2 90.2v3.4M279.3 89.5v3.4M279.0 114.9v3.4M279.4 93.8v3.4M279.1 146.1v3.4M279.3 92.7v3.4M279.3 104.8v3.4M279.2 103.4v3.4M279.3 86.1v3.4M279.3 99.1v3.4M279.1 112.4v3.4M279.2 72.2v3.4M279.2 109.9v3.4M279.4 86.2v3.4M279.1 59.9v3.4M279.1 78.6v3.4M279.3 97.0v3.4M279.2 91.5v3.4M279.1 72.3v3.4M279.1 72.9v3.4M279.0 108.9v3.4M279.2 92.9v3.4M279.4 96.1v3.4M279.3 102.2v3.4M279.1 91.4v3.4M279.1 90.6v3.4M279.3 95.2v3.4M279.3 35.9v3.4M279.2 82.3v3.4M279.1 91.0v3.4M279.3 113.1v3.4M279.1 84.8v3.4M279.4 85.2v3.4M279.3 82.3v3.4M279.3 88.5v3.4M279.3 78.8v3.4M279.3 75.4v3.4M279.3 112.5v3.4M279.3 112.3v3.4M279.2 111.1v3.4M279.1 137.6v3.4M279.3 95.7v3.4M279.2 90.3v3.4M279.4 104.9v3.4M279.4 85.9v3.4M279.1 74.7v3.4M279.2 119.7v3.4M279.2 95.4v3.4M279.2 115.8v3.4M279.2 102.2v3.4M279.1 77.6v3.4M279.1 125.4v3.4M279.1 107.9v3.4M279.4 83.0v3.4M279.3 135.2v3.4M279.4 85.0v3.4M279.0 91.2v3.4M279.1 80.7v3.4M279.2 106.3v3.4M279.1 122.9v3.4M279.4 98.1v3.4M279.1 71.6v3.4M279.3 88.4v3.4M279.2 106.1v3.4M279.2 88.1v3.4M279.3 109.5v3.4M279.1 109.5v3.4M279.3 91.3v3.4M279.1 72.7v3.4M279.3 91.1v3.4M279.2 65.9v3.4M279.2 85.3v3.4M279.2 86.0v3.4M279.3 117.2v3.4M279.2 106.9v3.4M279.0 124.6v3.4M279.2 128.7v3.4M279.1 90.6v3.4M279.1 111.0v3.4M279.0 103.5v3.4M279.1 119.8v3.4M279.1 87.3v3.4M279.4 108.7v3.4M279.4 126.0v3.4M279.3 77.7v3.4M280.3 88.4v3.4M280.5 112.4v3.4M280.5 119.0v3.4M280.4 112.9v3.4M280.4 91.7v3.4M280.4 31.3v3.4M280.4 85.5v3.4M280.4 124.5v3.4M280.5 109.0v3.4M280.7 117.1v3.4M280.4 81.0v3.4M280.6 109.2v3.4M280.6 83.0v3.4M280.5 83.4v3.4M280.4 96.0v3.4M280.5 104.4v3.4M280.6 88.5v3.4M280.3 106.2v3.4M280.4 82.1v3.4M280.5 86.9v3.4M280.4 97.9v3.4M280.5 111.8v3.4M280.6 112.1v3.4M280.4 87.0v3.4M280.5 75.3v3.4M280.5 94.7v3.4M280.4 97.9v3.4M280.6 92.7v3.4M280.5 108.8v3.4M280.6 67.3v3.4M280.4 84.4v3.4M280.5 104.5v3.4M280.4 82.5v3.4M280.3 139.1v3.4M280.6 128.2v3.4M280.7 119.3v3.4M280.3 98.8v3.4M280.5 128.9v3.4M280.3 72.8v3.4M280.6 82.7v3.4M280.4 90.3v3.4M280.4 119.4v3.4M280.6 84.8v3.4M280.4 88.7v3.4M280.6 95.5v3.4M280.3 133.2v3.4M280.6 120.4v3.4M280.4 128.3v3.4M280.5 89.8v3.4M280.6 67.3v3.4M280.3 77.2v3.4M280.6 97.1v3.4M280.6 124.1v3.4M280.5 82.1v3.4M280.3 83.6v3.4M280.7 131.7v3.4M280.7 84.5v3.4M280.5 108.8v3.4M280.4 89.0v3.4M280.3 93.9v3.4M280.6 125.7v3.4M280.6 95.3v3.4M280.6 67.3v3.4M280.4 37.3v3.4M280.7 111.9v3.4M280.4 91.6v3.4M280.5 99.0v3.4M280.4 105.1v3.4M280.7 88.2v3.4M280.7 108.4v3.4M280.7 91.1v3.4M280.3 96.0v3.4M280.4 37.3v3.4M280.5 127.3v3.4M280.6 79.2v3.4M280.5 95.5v3.4M280.6 91.2v3.4M280.6 100.5v3.4M280.5 106.0v3.4M280.7 92.2v3.4M280.5 77.9v3.4M280.5 80.2v3.4M280.6 88.4v3.4M280.7 114.6v3.4M280.6 86.3v3.4M280.5 83.5v3.4M280.6 82.7v3.4M280.4 61.3v3.4M280.4 49.3v3.4M280.3 75.9v3.4M280.5 93.0v3.4M280.6 73.0v3.4M280.4 87.7v3.4M280.3 73.3v3.4M280.3 105.1v3.4M280.6 89.9v3.4M280.3 95.6v3.4M280.4 95.0v3.4M280.5 81.9v3.4M280.3 69.7v3.4M280.4 95.0v3.4M280.5 80.7v3.4M280.7 67.6v3.4M280.4 102.8v3.4M280.6 68.7v3.4M280.4 113.8v3.4M280.5 108.3v3.4M280.6 76.0v3.4M280.5 90.1v3.4M280.6 118.3v3.4M280.3 94.7v3.4M280.4 121.8v3.4M280.6 107.8v3.4M280.3 91.7v3.4M280.6 88.6v3.4M280.6 115.2v3.4M280.4 102.2v3.4M280.6 114.2v3.4M280.5 112.2v3.4M280.7 73.6v3.4M280.6 117.4v3.4M280.5 93.2v3.4M280.4 133.5v3.4M280.4 84.1v3.4M280.5 121.0v3.4M280.3 80.7v3.4M280.4 107.0v3.4M280.3 79.6v3.4M280.6 109.4v3.4M280.4 107.2v3.4M280.3 82.9v3.4M280.4 103.6v3.4M280.6 105.4v3.4M280.7 91.4v3.4M280.6 112.1v3.4M280.6 81.7v3.4M280.4 90.0v3.4M280.5 77.8v3.4M280.6 75.1v3.4M280.4 101.6v3.4M280.3 92.2v3.4M280.5 103.5v3.4M280.3 91.8v3.4M280.3 87.2v3.4M280.4 127.3v3.4M280.5 81.4v3.4M280.7 107.4v3.4M280.3 128.6v3.4M280.3 108.6v3.4M280.7 124.1v3.4M280.4 94.6v3.4M280.4 75.6v3.4M280.5 89.7v3.4M280.3 87.3v3.4M280.7 83.8v3.4M280.6 80.7v3.4M280.5 79.9v3.4M280.5 124.9v3.4M280.4 107.7v3.4M280.4 89.6v3.4M280.5 88.2v3.4M280.4 109.6v3.4M280.5 92.7v3.4M280.7 81.9v3.4M280.3 97.6v3.4M280.6 89.2v3.4M280.3 131.9v3.4M280.4 112.8v3.4M280.5 108.6v3.4M280.4 108.9v3.4M280.6 81.0v3.4M280.4 85.6v3.4M280.6 88.4v3.4M280.4 105.2v3.4M280.4 118.7v3.4M280.4 92.3v3.4M280.6 95.2v3.4M280.7 82.3v3.4M280.4 96.7v3.4M280.4 76.7v3.4M280.5 103.7v3.4M280.5 97.9v3.4M280.5 86.6v3.4M280.4 109.9v3.4M280.4 108.3v3.4M280.5 82.5v3.4M280.4 103.5v3.4M280.4 75.0v3.4M280.4 84.0v3.4M280.5 93.8v3.4M280.7 109.5v3.4M280.5 37.3v3.4M280.7 99.1v3.4M280.3 114.3v3.4M280.7 90.7v3.4M280.5 143.4v3.4M280.3 67.3v3.4M280.5 105.8v3.4M280.6 110.0v3.4M280.4 64.5v3.4M280.6 82.4v3.4M280.6 102.0v3.4M280.3 115.8v3.4M280.4 65.9v3.4M280.6 72.9v3.4M280.7 86.9v3.4M280.4 63.8v3.4M280.4 113.4v3.4M280.4 100.5v3.4M280.4 114.6v3.4M280.6 118.2v3.4M280.3 94.4v3.4M280.7 100.1v3.4M280.4 107.0v3.4M280.5 75.0v3.4M280.5 117.1v3.4M280.7 108.7v3.4M280.4 87.4v3.4M280.7 68.2v3.4M280.5 95.5v3.4M280.7 90.4v3.4M280.6 84.6v3.4M280.6 111.8v3.4M280.4 99.8v3.4M280.3 83.2v3.4M280.6 80.9v3.4M280.4 116.8v3.4M280.4 100.6v3.4M280.6 87.8v3.4M280.3 84.5v3.4M280.4 106.4v3.4M280.5 82.5v3.4M280.6 90.9v3.4M280.4 118.5v3.4M280.6 122.1v3.4M280.6 99.5v3.4M280.4 90.4v3.4M280.3 109.2v3.4M280.5 108.3v3.4M280.4 90.2v3.4M280.3 107.7v3.4M280.6 98.8v3.4M280.7 94.2v3.4M280.5 105.2v3.4M280.5 84.4v3.4M280.4 78.3v3.4M280.4 101.6v3.4M280.6 49.3v3.4M280.3 85.6v3.4M280.6 78.2v3.4M280.6 91.4v3.4M280.4 100.1v3.4M280.7 60.2v3.4M280.3 130.1v3.4M280.5 99.8v3.4M280.6 84.1v3.4M280.6 75.0v3.4M280.5 85.7v3.4M280.4 81.9v3.4M280.4 80.1v3.4M280.4 104.4v3.4M280.3 78.0v3.4M280.6 98.6v3.4M280.7 92.9v3.4M280.6 144.6v3.4M280.6 78.9v3.4M280.6 120.5v3.4M280.5 98.1v3.4M280.4 88.7v3.4M280.7 118.6v3.4M280.4 67.3v3.4M280.5 86.8v3.4M280.7 67.7v3.4M280.4 99.2v3.4M280.6 80.4v3.4M280.5 81.3v3.4M280.6 69.0v3.4M280.4 78.6v3.4M280.6 120.1v3.4M280.6 90.6v3.4M281.8 104.1v3.4M281.9 92.2v3.4M281.9 88.3v3.4M281.8 88.3v3.4M281.9 129.7v3.4M281.9 89.6v3.4M281.8 75.4v3.4M281.9 92.5v3.4M281.9 140.1v3.4M281.8 87.3v3.4M281.7 103.3v3.4M281.9 66.1v3.4M281.8 45.6v3.4M281.9 78.8v3.4M281.7 111.9v3.4M281.8 58.2v3.4M282.0 110.7v3.4M281.8 93.0v3.4M281.6 85.8v3.4M281.8 87.6v3.4M281.7 81.2v3.4M281.8 120.1v3.4M281.9 85.4v3.4M281.7 79.4v3.4M282.0 107.2v3.4M281.7 75.3v3.4M281.6 121.8v3.4M281.9 75.4v3.4M281.9 101.5v3.4M281.8 98.2v3.4M281.6 91.4v3.4M282.0 90.3v3.4M281.7 120.1v3.4M281.9 97.6v3.4M281.7 90.8v3.4M281.6 93.4v3.4M282.0 87.4v3.4M281.7 96.5v3.4M281.6 96.9v3.4M282.0 84.4v3.4M281.6 76.1v3.4M281.9 97.5v3.4M281.8 98.4v3.4M281.8 85.6v3.4M281.6 82.7v3.4M281.9 89.1v3.4M281.7 74.0v3.4M281.8 90.2v3.4M281.8 90.1v3.4M282.0 78.3v3.4M281.8 98.4v3.4M281.8 80.7v3.4M281.7 88.7v3.4M281.7 128.8v3.4M281.7 95.6v3.4M281.9 89.6v3.4M281.8 84.1v3.4M281.8 73.9v3.4M282.0 117.1v3.4M281.9 92.5v3.4M282.0 117.9v3.4M281.7 97.9v3.4M281.9 78.0v3.4M281.8 67.2v3.4M281.7 81.6v3.4M281.8 45.6v3.4M281.7 129.7v3.4M281.6 132.4v3.4M281.9 106.2v3.4M281.8 91.6v3.4M281.9 83.9v3.4M281.6 97.3v3.4M281.9 114.1v3.4M281.7 72.8v3.4M281.7 75.5v3.4M281.7 122.8v3.4M281.8 109.7v3.4M281.7 99.3v3.4M281.7 81.8v3.4M281.6 75.7v3.4M282.0 92.3v3.4M281.8 87.3v3.4M281.7 66.5v3.4M282.0 56.6v3.4M281.9 88.7v3.4M282.0 85.4v3.4M281.8 105.1v3.4M281.9 96.8v3.4M281.7 87.4v3.4M281.7 73.4v3.4M281.9 134.2v3.4M281.9 94.1v3.4M281.9 60.3v3.4M281.6 99.3v3.4M281.8 76.4v3.4M281.8 93.0v3.4M282.0 84.0v3.4M281.7 69.6v3.4M281.6 78.4v3.4M282.0 89.5v3.4M281.8 124.4v3.4M282.0 74.2v3.4M281.7 66.5v3.4M281.7 75.5v3.4M281.8 76.8v3.4M281.8 85.3v3.4M282.0 81.3v3.4M281.8 97.9v3.4M281.8 89.3v3.4M281.8 88.8v3.4M281.6 95.2v3.4M281.9 114.3v3.4M281.7 104.2v3.4M281.8 81.4v3.4M282.0 105.0v3.4M281.8 91.7v3.4M281.9 102.0v3.4M281.7 98.1v3.4M281.9 88.2v3.4M281.7 114.1v3.4M281.7 39.6v3.4M281.8 77.7v3.4M281.7 85.9v3.4M281.7 80.2v3.4M281.8 69.0v3.4M281.7 63.2v3.4M282.0 89.4v3.4M281.8 88.0v3.4M281.8 100.2v3.4M281.8 97.5v3.4M281.8 85.4v3.4M281.9 82.7v3.4M281.9 85.3v3.4M281.9 103.7v3.4M282.0 103.5v3.4M281.6 99.4v3.4M281.7 94.7v3.4M281.7 98.2v3.4M281.9 89.2v3.4M281.9 114.3v3.4M281.9 88.5v3.4M281.8 117.5v3.4M281.7 51.6v3.4M281.8 101.6v3.4M281.7 73.6v3.4M281.9 135.3v3.4M281.9 107.6v3.4M282.0 85.7v3.4M281.8 98.7v3.4M281.8 111.0v3.4M281.9 110.0v3.4M281.7 116.6v3.4M281.7 86.8v3.4M281.9 87.8v3.4M281.7 85.0v3.4M282.0 89.7v3.4M281.7 100.0v3.4M281.8 83.9v3.4M281.7 81.5v3.4M281.9 88.2v3.4M281.7 132.5v3.4M281.9 90.4v3.4M281.8 84.7v3.4M281.6 79.2v3.4M281.7 94.8v3.4M281.7 88.8v3.4M282.0 113.5v3.4M281.7 57.3v3.4M282.0 105.7v3.4M281.7 104.5v3.4M281.6 84.9v3.4M281.7 89.4v3.4M281.8 86.4v3.4M282.0 102.7v3.4M281.7 80.9v3.4M282.0 109.2v3.4M281.9 88.8v3.4M281.7 77.7v3.4M281.8 45.6v3.4M281.7 110.8v3.4M281.7 89.3v3.4M281.8 70.9v3.4M281.9 76.3v3.4M281.7 96.3v3.4M282.0 83.5v3.4M281.8 90.6v3.4M281.7 90.6v3.4M281.7 100.1v3.4M281.8 101.8v3.4M281.7 106.7v3.4M281.7 71.6v3.4M281.7 57.6v3.4M281.7 90.9v3.4M281.9 77.0v3.4M281.6 96.2v3.4M282.0 79.2v3.4M281.7 118.1v3.4M281.6 87.0v3.4M281.8 115.6v3.4M282.0 108.8v3.4M281.7 137.5v3.4M282.0 84.9v3.4M281.7 109.0v3.4M281.9 83.3v3.4M281.7 84.6v3.4M282.0 100.5v3.4M281.9 123.9v3.4M281.7 76.3v3.4M282.0 130.9v3.4M281.9 107.0v3.4M281.9 83.0v3.4M281.7 87.6v3.4M281.9 71.7v3.4M281.6 103.4v3.4M281.7 57.6v3.4M281.7 116.0v3.4M282.0 101.3v3.4M281.8 68.5v3.4M282.0 94.8v3.4M281.7 63.6v3.4M281.7 96.1v3.4M281.6 104.2v3.4M281.9 64.7v3.4M281.9 103.5v3.4M281.7 107.5v3.4M281.7 99.6v3.4M281.6 106.3v3.4M281.7 88.1v3.4M281.6 101.6v3.4M281.6 125.4v3.4M281.7 101.3v3.4M281.6 124.6v3.4M281.7 88.5v3.4M281.9 123.1v3.4M281.8 109.8v3.4M281.8 81.2v3.4M281.8 116.6v3.4M281.8 83.8v3.4M282.0 86.0v3.4M281.8 81.2v3.4M281.9 104.8v3.4M281.6 89.8v3.4M282.0 33.6v3.4M282.0 109.9v3.4M281.8 79.1v3.4M281.7 87.7v3.4M282.0 107.6v3.4M281.7 59.8v3.4M281.9 113.8v3.4M281.7 127.8v3.4M281.9 87.1v3.4M281.6 94.9v3.4M281.8 95.1v3.4M281.7 105.1v3.4M281.8 117.5v3.4M282.0 84.7v3.4M281.9 129.9v3.4M281.9 97.7v3.4M281.9 104.8v3.4M281.8 139.4v3.4M281.7 94.3v3.4M281.8 121.6v3.4M281.7 95.8v3.4M282.0 90.0v3.4M281.9 105.5v3.4M281.8 111.4v3.4M281.7 93.5v3.4M281.7 99.0v3.4M281.9 91.1v3.4M281.9 94.9v3.4M282.0 119.4v3.4M281.7 82.4v3.4M281.8 99.8v3.4M281.7 120.8v3.4M281.7 75.3v3.4M281.8 81.2v3.4M282.0 70.1v3.4M281.8 84.8v3.4M281.7 78.2v3.4M281.7 85.9v3.4M281.6 90.4v3.4M281.8 105.1v3.4M282.0 87.2v3.4M281.9 64.3v3.4M281.6 101.7v3.4M282.0 97.4v3.4M281.6 92.8v3.4M281.7 93.2v3.4M281.9 83.6v3.4M281.6 108.9v3.4M281.9 86.8v3.4M281.6 71.0v3.4M281.8 67.9v3.4M281.8 82.2v3.4M281.9 115.5v3.4M281.7 89.0v3.4M282.0 111.6v3.4M281.8 101.7v3.4M281.9 77.7v3.4M282.0 117.2v3.4M282.0 88.0v3.4M281.9 120.8v3.4M281.7 121.9v3.4M281.9 95.8v3.4M281.7 99.1v3.4M281.9 110.9v3.4M281.8 72.9v3.4M282.0 85.7v3.4M281.7 76.1v3.4M281.6 92.4v3.4M281.7 98.0v3.4M281.7 82.9v3.4M281.8 91.9v3.4M281.9 108.2v3.4M281.9 96.0v3.4M281.7 96.9v3.4M283.2 70.9v3.4M283.2 107.5v3.4M283.2 109.4v3.4M283.1 99.6v3.4M282.9 89.0v3.4M283.0 80.1v3.4M283.0 82.0v3.4M283.0 79.5v3.4M283.1 125.8v3.4M283.2 106.9v3.4M283.0 86.1v3.4M283.2 89.2v3.4M283.1 78.1v3.4M283.3 88.3v3.4M282.9 88.8v3.4M283.0 73.3v3.4M283.0 92.9v3.4M283.0 72.5v3.4M283.0 91.8v3.4M282.9 82.6v3.4M283.0 81.9v3.4M282.9 76.8v3.4M283.1 99.5v3.4M283.2 80.2v3.4M283.1 98.5v3.4M283.1 103.2v3.4M283.3 71.4v3.4M283.1 106.6v3.4M283.2 105.7v3.4M283.0 110.3v3.4M283.1 106.2v3.4M283.2 107.8v3.4M283.0 80.9v3.4M283.1 112.1v3.4M282.9 115.1v3.4M283.3 86.4v3.4M283.3 81.2v3.4M283.2 91.5v3.4M283.2 79.4v3.4M283.1 78.2v3.4M283.3 98.6v3.4M283.0 106.3v3.4M283.1 83.2v3.4M283.3 113.3v3.4M283.2 78.2v3.4M283.2 94.1v3.4M283.1 126.1v3.4M282.9 112.8v3.4M283.2 112.1v3.4M283.2 77.8v3.4M283.0 82.2v3.4M283.1 119.2v3.4M282.9 117.6v3.4M283.0 94.1v3.4M283.3 99.6v3.4M283.0 83.7v3.4M282.9 124.4v3.4M283.3 97.3v3.4M283.2 85.0v3.4M283.0 106.1v3.4M283.3 104.7v3.4M283.2 71.6v3.4M283.1 84.4v3.4M283.1 85.8v3.4M283.0 58.9v3.4M283.1 137.2v3.4M282.9 84.4v3.4M283.1 69.5v3.4M283.3 102.7v3.4M283.3 102.4v3.4M283.3 74.6v3.4M282.9 97.1v3.4M283.0 100.2v3.4M283.3 82.6v3.4M283.2 87.4v3.4M283.0 134.4v3.4M283.2 73.3v3.4M283.2 89.0v3.4M283.1 102.9v3.4M283.2 86.9v3.4M283.2 111.8v3.4M283.0 71.9v3.4M283.0 70.7v3.4M283.2 96.9v3.4M283.1 127.7v3.4M283.3 84.0v3.4M283.1 103.4v3.4M282.9 52.9v3.4M283.2 125.2v3.4M283.2 112.0v3.4M283.1 89.9v3.4M283.1 111.4v3.4M283.1 64.9v3.4M283.1 108.9v3.4M283.1 99.7v3.4M282.9 100.8v3.4M283.0 100.9v3.4M282.9 78.6v3.4M282.9 123.1v3.4M283.1 90.7v3.4M283.1 94.6v3.4M283.1 123.9v3.4M283.0 124.2v3.4M283.1 75.0v3.4M283.3 100.6v3.4M282.9 84.5v3.4M283.1 96.2v3.4M282.9 111.5v3.4M283.2 87.0v3.4M283.0 115.5v3.4M283.3 103.0v3.4M283.2 106.1v3.4M283.1 85.4v3.4M283.0 112.2v3.4M283.2 91.0v3.4M283.0 134.6v3.4M283.1 88.6v3.4M283.1 74.3v3.4M283.1 103.0v3.4M283.3 97.0v3.4M283.2 132.4v3.4M283.1 85.5v3.4M283.0 105.6v3.4M283.1 89.4v3.4M282.9 118.9v3.4M282.9 81.0v3.4M283.2 86.9v3.4M283.1 115.9v3.4M283.0 94.3v3.4M283.0 67.5v3.4M282.9 83.9v3.4M283.2 100.5v3.4M283.1 40.9v3.4M282.9 77.1v3.4M282.9 76.7v3.4M283.1 104.9v3.4M283.2 125.1v3.4M283.0 114.2v3.4M283.3 109.4v3.4M282.9 111.0v3.4M283.0 101.1v3.4M283.0 109.0v3.4M282.9 72.5v3.4M283.1 104.1v3.4M283.0 100.2v3.4M283.1 111.9v3.4M283.2 119.5v3.4M283.1 80.5v3.4M283.2 89.7v3.4M283.1 106.1v3.4M283.0 72.9v3.4M283.0 125.7v3.4M283.2 134.9v3.4M282.9 104.1v3.4M283.3 132.2v3.4M283.3 92.2v3.4M283.0 77.5v3.4M283.1 103.2v3.4M283.2 110.2v3.4M283.0 90.6v3.4M283.1 88.5v3.4M283.0 103.7v3.4M283.2 85.3v3.4M283.1 110.3v3.4M283.2 76.5v3.4M283.2 84.5v3.4M283.1 84.2v3.4M283.0 105.3v3.4M283.1 85.8v3.4M283.2 126.8v3.4M282.9 88.2v3.4M283.3 117.2v3.4M283.1 83.2v3.4M283.2 73.1v3.4M283.1 82.2v3.4M282.9 110.7v3.4M283.0 88.7v3.4M283.3 87.2v3.4M283.1 84.8v3.4M283.2 107.8v3.4M283.0 46.9v3.4M283.3 86.6v3.4M283.1 80.9v3.4M283.1 103.8v3.4M283.2 85.2v3.4M283.0 84.7v3.4M283.3 107.9v3.4M283.3 80.8v3.4M283.0 100.4v3.4M283.1 87.1v3.4M282.9 114.9v3.4M283.0 130.2v3.4M283.0 91.2v3.4M283.1 89.3v3.4M283.1 67.9v3.4M283.0 96.4v3.4M283.0 113.9v3.4M283.0 116.9v3.4M283.2 100.5v3.4M282.9 40.9v3.4M283.2 103.4v3.4M283.2 100.4v3.4M283.3 78.4v3.4M283.0 77.9v3.4M283.2 114.6v3.4M283.1 80.8v3.4M283.2 90.3v3.4M283.3 85.2v3.4M283.3 88.0v3.4M283.2 99.1v3.4M283.1 73.2v3.4M283.1 81.6v3.4M283.0 87.6v3.4M283.1 76.0v3.4M283.1 120.9v3.4M283.1 96.3v3.4M283.1 98.0v3.4M282.9 79.3v3.4M282.9 58.9v3.4M283.1 105.6v3.4M283.0 92.6v3.4M283.1 92.6v3.4M283.0 92.0v3.4M283.1 95.1v3.4M283.0 90.9v3.4M283.1 107.9v3.4M283.3 108.1v3.4M283.1 85.5v3.4M283.0 109.0v3.4M283.0 121.6v3.4M283.1 80.1v3.4M283.1 93.8v3.4M282.9 67.6v3.4M282.9 87.8v3.4M283.0 85.9v3.4M283.1 108.4v3.4M283.2 92.0v3.4M283.3 108.1v3.4M283.3 86.1v3.4M283.2 106.2v3.4M283.3 69.7v3.4M282.9 84.0v3.4M282.9 92.4v3.4M283.1 83.2v3.4M283.2 127.9v3.4M282.9 97.6v3.4M283.2 83.8v3.4M282.9 34.9v3.4M283.2 99.3v3.4M283.0 130.0v3.4M283.0 88.3v3.4M283.2 98.5v3.4M283.0 72.2v3.4M283.3 134.0v3.4M283.0 122.6v3.4M283.0 99.8v3.4M283.0 87.4v3.4M283.0 83.7v3.4M283.2 92.0v3.4M283.1 75.8v3.4M283.0 60.2v3.4M283.0 93.9v3.4M283.1 107.3v3.4M283.3 86.9v3.4M283.2 86.1v3.4M283.0 80.7v3.4M283.2 95.5v3.4M283.1 80.8v3.4M283.2 106.0v3.4M282.9 69.8v3.4M284.5 82.2v3.4M284.4 48.5v3.4M284.7 91.0v3.4M284.7 91.9v3.4M284.6 88.2v3.4M284.6 93.3v3.4M284.6 84.6v3.4M284.4 97.3v3.4M284.7 79.5v3.4M284.7 68.2v3.4M284.5 88.7v3.4M284.6 80.0v3.4M284.4 103.5v3.4M284.5 88.3v3.4M284.6 90.1v3.4M284.7 87.6v3.4M284.6 85.6v3.4M284.5 82.8v3.4M284.4 113.8v3.4M284.6 94.3v3.4M284.3 108.5v3.4M284.6 95.5v3.4M284.7 101.3v3.4M284.6 87.7v3.4M284.5 65.6v3.4M284.4 118.5v3.4M284.4 124.4v3.4M284.5 89.3v3.4M284.5 82.9v3.4M284.5 72.5v3.4M284.4 80.2v3.4M284.5 75.1v3.4M284.3 60.5v3.4M284.4 115.9v3.4M284.5 89.9v3.4M284.6 79.0v3.4M284.6 89.2v3.4M284.3 98.9v3.4M284.5 90.7v3.4M284.6 84.4v3.4M284.4 89.8v3.4M284.3 110.3v3.4M284.4 83.4v3.4M284.6 72.5v3.4M284.4 85.7v3.4M284.7 90.8v3.4M284.6 89.8v3.4M284.6 88.2v3.4M284.5 84.7v3.4M284.5 48.8v3.4M284.7 89.4v3.4M284.6 58.7v3.4M284.5 97.4v3.4M284.6 87.2v3.4M284.5 82.8v3.4M284.4 109.5v3.4M284.7 100.8v3.4M284.6 75.9v3.4M284.6 133.7v3.4M284.4 98.5v3.4M284.7 81.9v3.4M284.7 66.5v3.4M284.4 96.0v3.4M284.5 88.5v3.4M284.3 95.2v3.4M284.5 95.0v3.4M284.6 129.1v3.4M284.4 126.8v3.4M284.6 74.2v3.4M284.6 81.7v3.4M284.6 122.8v3.4M284.4 60.9v3.4M284.6 91.1v3.4M284.4 118.3v3.4M284.5 97.1v3.4M284.5 87.6v3.4M284.5 87.7v3.4M284.6 93.8v3.4M284.6 87.6v3.4M284.5 136.2v3.4M284.6 82.9v3.4M284.6 92.5v3.4M284.5 76.3v3.4M284.5 91.6v3.4M284.7 95.3v3.4M284.3 105.0v3.4M284.7 90.8v3.4M284.6 74.0v3.4M284.6 93.4v3.4M284.5 90.6v3.4M284.6 101.1v3.4M284.3 94.8v3.4M284.4 81.4v3.4M284.5 54.5v3.4M284.5 86.4v3.4M284.4 111.9v3.4M284.6 100.7v3.4M284.6 89.5v3.4M284.5 124.6v3.4M284.4 97.2v3.4M284.5 83.1v3.4M284.4 85.0v3.4M284.5 93.0v3.4M284.5 80.5v3.4M284.6 95.9v3.4M284.6 81.7v3.4M284.6 90.4v3.4M284.7 99.9v3.4M284.5 101.7v3.4M284.3 87.2v3.4M284.3 115.8v3.4M284.7 75.1v3.4M284.7 86.4v3.4M284.5 83.4v3.4M284.4 95.0v3.4M284.6 88.1v3.4M284.4 92.1v3.4M284.5 80.6v3.4M284.5 109.9v3.4M284.5 56.4v3.4M284.6 105.4v3.4M284.6 77.4v3.4M284.7 79.6v3.4M284.6 115.8v3.4M284.5 103.2v3.4M284.4 103.7v3.4M284.5 81.8v3.4M284.4 98.0v3.4M284.5 112.5v3.4M284.6 95.3v3.4M284.5 84.4v3.4M284.5 95.2v3.4M284.3 85.9v3.4M284.4 99.5v3.4M284.6 88.0v3.4M284.5 76.7v3.4M284.7 91.3v3.4M284.4 85.8v3.4M284.3 91.0v3.4M284.6 106.8v3.4M284.6 48.5v3.4M284.5 97.5v3.4M284.3 85.3v3.4M284.5 88.2v3.4M284.5 99.1v3.4M284.6 96.7v3.4M284.5 82.7v3.4M284.7 131.0v3.4M284.4 91.1v3.4M284.4 89.0v3.4M284.6 108.8v3.4M284.5 81.8v3.4M284.7 88.2v3.4M284.5 101.5v3.4M284.5 81.5v3.4M284.3 87.1v3.4M284.3 107.7v3.4M284.3 139.4v3.4M284.6 71.1v3.4M284.6 119.5v3.4M284.6 89.8v3.4M284.6 102.3v3.4M284.4 86.3v3.4M284.4 72.6v3.4M284.4 105.0v3.4M284.5 105.0v3.4M284.6 108.7v3.4M284.6 111.6v3.4M284.3 111.8v3.4M284.5 74.4v3.4M284.6 113.0v3.4M284.7 79.2v3.4M284.5 119.6v3.4M284.4 92.3v3.4M284.7 85.2v3.4M284.4 87.8v3.4M284.5 105.6v3.4M284.4 96.4v3.4M284.4 103.7v3.4M284.5 86.7v3.4M284.5 80.4v3.4M284.4 99.7v3.4M284.4 77.8v3.4M284.4 97.4v3.4M284.5 129.9v3.4M284.5 111.8v3.4M284.6 81.7v3.4M284.3 107.0v3.4M284.3 137.0v3.4M284.3 121.9v3.4M284.6 83.7v3.4M284.6 104.1v3.4M284.5 120.9v3.4M284.5 90.4v3.4M284.4 77.7v3.4M284.5 132.3v3.4M284.4 104.8v3.4M284.5 98.9v3.4M284.6 89.0v3.4M284.4 102.6v3.4M284.4 97.1v3.4M284.5 48.5v3.4M284.5 102.6v3.4M284.6 83.2v3.4M284.5 113.2v3.4M284.4 95.6v3.4M284.7 95.8v3.4M284.5 77.5v3.4M284.7 83.3v3.4M284.3 97.2v3.4M284.5 117.4v3.4M284.5 120.1v3.4M284.4 106.1v3.4M284.5 110.9v3.4M284.5 93.2v3.4M284.5 96.6v3.4M284.4 106.9v3.4M284.4 108.9v3.4M284.4 77.5v3.4M284.3 117.5v3.4M284.5 79.9v3.4M284.7 97.1v3.4M284.5 118.4v3.4M284.7 112.8v3.4M284.5 128.5v3.4M284.5 134.7v3.4M284.5 86.3v3.4M284.7 87.3v3.4M284.3 87.3v3.4M284.5 101.3v3.4M284.3 93.4v3.4M284.3 72.6v3.4M284.6 62.9v3.4M284.4 89.3v3.4M284.6 89.2v3.4M284.4 118.5v3.4M284.3 99.6v3.4M284.6 84.3v3.4M284.4 86.7v3.4M284.6 107.1v3.4M284.4 83.5v3.4M284.3 94.7v3.4M284.5 97.4v3.4M284.7 115.5v3.4M284.6 75.8v3.4M284.4 90.5v3.4M284.4 67.7v3.4M284.4 87.1v3.4M284.6 108.4v3.4M284.6 100.0v3.4M284.6 112.3v3.4M284.6 83.2v3.4M284.4 91.1v3.4M284.5 80.4v3.4M284.5 102.4v3.4M284.4 116.6v3.4M284.4 66.7v3.4M284.6 83.7v3.4M284.4 88.0v3.4M284.5 90.4v3.4M284.4 96.6v3.4M284.4 93.2v3.4M284.5 101.3v3.4M284.6 123.7v3.4M284.7 85.2v3.4M284.4 76.7v3.4M284.6 84.8v3.4M284.4 79.1v3.4M284.6 93.9v3.4M284.6 70.7v3.4M284.3 92.8v3.4M284.4 83.2v3.4M284.6 112.0v3.4M284.3 83.5v3.4M284.6 70.6v3.4M284.7 72.9v3.4M284.6 87.7v3.4M284.5 93.5v3.4M284.5 108.3v3.4M284.7 108.9v3.4M284.4 70.6v3.4M284.5 108.0v3.4M284.3 87.6v3.4M284.6 108.1v3.4M284.4 126.5v3.4M284.6 81.2v3.4M284.5 83.7v3.4M284.5 36.5v3.4M284.6 93.4v3.4M284.4 134.5v3.4M284.4 72.5v3.4M284.5 79.4v3.4M285.8 93.6v3.4M285.8 107.1v3.4M286.1 95.6v3.4M286.0 85.3v3.4M286.1 43.5v3.4M285.9 78.1v3.4M286.0 88.1v3.4M285.9 82.6v3.4M285.9 68.0v3.4M285.8 83.7v3.4M285.8 85.1v3.4M286.0 82.1v3.4M285.8 77.3v3.4M286.0 103.7v3.4M285.8 106.7v3.4M285.8 99.4v3.4M286.0 111.5v3.4M285.7 66.0v3.4M286.0 92.5v3.4M285.8 79.0v3.4M285.8 97.9v3.4M285.8 82.8v3.4M286.1 113.2v3.4M285.7 102.4v3.4M285.8 79.4v3.4M285.9 90.9v3.4M285.7 85.7v3.4M286.0 114.6v3.4M285.9 111.5v3.4M285.8 65.2v3.4M285.7 72.7v3.4M285.8 111.0v3.4M285.8 98.3v3.4M286.1 69.3v3.4M285.8 87.2v3.4M286.0 121.2v3.4M286.1 118.7v3.4M286.0 76.9v3.4M285.8 81.6v3.4M285.8 77.9v3.4M286.0 76.9v3.4M286.1 67.5v3.4M285.7 86.3v3.4M285.7 97.6v3.4M285.8 84.8v3.4M285.8 84.1v3.4M285.9 105.7v3.4M286.1 113.5v3.4M285.7 96.0v3.4M286.0 95.0v3.4M286.1 101.9v3.4M285.8 109.2v3.4M286.1 92.9v3.4M285.9 97.1v3.4M286.1 90.7v3.4M286.1 105.0v3.4M285.9 103.5v3.4M285.7 68.2v3.4M286.1 98.1v3.4M285.9 86.4v3.4M285.9 110.5v3.4M286.0 103.4v3.4M285.7 88.8v3.4M285.7 72.2v3.4M285.7 114.0v3.4M285.9 96.9v3.4M286.0 101.4v3.4M286.0 85.6v3.4M286.0 103.8v3.4M285.7 95.2v3.4M286.0 116.0v3.4M285.8 106.9v3.4M285.9 102.5v3.4M285.8 98.4v3.4M285.9 94.0v3.4M285.9 107.2v3.4M286.0 112.1v3.4M285.9 101.6v3.4M285.9 129.7v3.4M285.9 82.1v3.4M285.7 130.3v3.4M285.9 121.7v3.4M285.7 67.5v3.4M285.8 72.0v3.4M285.8 82.6v3.4M285.9 67.5v3.4M286.0 93.1v3.4M285.8 106.6v3.4M285.8 69.9v3.4M285.8 118.7v3.4M285.8 77.3v3.4M285.8 132.6v3.4M286.1 75.3v3.4M285.7 99.0v3.4M285.8 72.0v3.4M285.7 86.3v3.4M285.9 104.1v3.4M285.8 137.6v3.4M285.9 91.6v3.4M286.1 104.9v3.4M286.0 97.8v3.4M285.9 92.9v3.4M285.9 88.8v3.4M286.1 103.1v3.4M285.9 90.6v3.4M285.9 80.7v3.4M285.8 68.9v3.4M286.0 82.3v3.4M285.9 81.3v3.4M285.8 87.8v3.4M286.1 61.5v3.4M286.1 70.4v3.4M286.1 89.5v3.4M285.7 83.2v3.4M285.9 104.9v3.4M285.7 102.6v3.4M285.8 128.0v3.4M285.7 90.6v3.4M285.7 98.1v3.4M286.1 85.1v3.4M286.0 114.7v3.4M285.9 98.9v3.4M285.9 83.5v3.4M285.9 124.5v3.4M286.0 88.9v3.4M285.7 135.7v3.4M285.7 86.1v3.4M285.9 88.0v3.4M285.9 104.9v3.4M285.7 57.6v3.4M285.8 85.4v3.4M285.9 127.0v3.4M285.7 37.5v3.4M286.0 85.8v3.4M285.9 77.3v3.4M286.0 127.2v3.4M285.8 81.0v3.4M286.1 86.8v3.4M286.0 67.5v3.4M285.9 56.5v3.4M285.9 96.0v3.4M285.9 83.0v3.4M285.9 79.5v3.4M285.8 107.0v3.4M285.7 88.1v3.4M286.1 88.3v3.4M286.0 91.4v3.4M285.9 43.5v3.4M286.0 67.5v3.4M285.7 94.2v3.4M285.7 89.6v3.4M285.8 109.4v3.4M285.8 89.4v3.4M286.0 84.2v3.4M286.1 101.9v3.4M286.1 101.4v3.4M285.8 95.1v3.4M285.9 117.8v3.4M286.0 95.6v3.4M285.8 68.2v3.4M285.9 73.1v3.4M286.1 106.8v3.4M285.8 121.3v3.4M285.9 97.3v3.4M285.9 85.3v3.4M286.1 66.0v3.4M286.1 77.4v3.4M286.0 85.2v3.4M286.1 110.3v3.4M286.0 78.1v3.4M285.9 92.7v3.4M285.9 81.1v3.4M285.8 96.2v3.4M286.0 76.0v3.4M286.0 110.9v3.4M286.1 84.4v3.4M285.7 81.7v3.4M285.9 100.4v3.4M285.9 92.9v3.4M285.9 94.5v3.4M285.9 94.6v3.4M285.8 106.0v3.4M285.9 81.0v3.4M285.8 97.9v3.4M285.8 88.8v3.4M286.1 78.1v3.4M286.0 116.3v3.4M286.1 116.2v3.4M285.9 100.6v3.4M286.0 98.9v3.4M285.7 70.1v3.4M285.7 101.5v3.4M286.1 82.6v3.4M286.0 81.6v3.4M286.0 87.3v3.4M285.8 100.0v3.4M286.0 116.9v3.4M286.0 126.7v3.4M285.8 74.5v3.4M286.0 115.0v3.4M286.1 92.4v3.4M285.8 108.2v3.4M285.9 89.3v3.4M286.0 76.3v3.4M286.0 79.9v3.4M286.0 85.8v3.4M285.7 81.2v3.4M286.0 96.6v3.4M285.8 83.5v3.4M285.8 61.5v3.4M285.9 88.0v3.4M286.0 81.6v3.4M286.0 67.6v3.4M286.1 116.4v3.4M285.7 87.2v3.4M285.9 90.5v3.4M285.9 97.2v3.4M286.0 101.4v3.4M285.7 94.9v3.4M286.0 110.1v3.4M286.1 85.1v3.4M286.0 84.8v3.4M285.7 100.9v3.4M285.9 94.8v3.4M285.7 81.9v3.4M285.9 80.1v3.4M285.7 70.3v3.4M285.9 75.1v3.4M285.9 90.8v3.4M285.8 101.1v3.4M285.9 93.1v3.4M285.9 89.0v3.4M285.8 88.5v3.4M285.8 79.2v3.4M285.8 94.7v3.4M285.7 79.6v3.4M286.0 103.4v3.4M285.9 92.1v3.4M285.8 102.5v3.4M285.9 101.7v3.4M285.7 89.1v3.4M286.1 97.0v3.4M285.9 79.6v3.4M285.8 83.1v3.4M285.8 93.9v3.4M285.8 109.6v3.4M285.8 80.2v3.4M285.8 112.8v3.4M285.8 89.6v3.4M285.8 107.9v3.4M285.9 78.3v3.4M285.8 108.0v3.4M286.0 100.7v3.4M287.2 114.0v3.4M287.2 85.2v3.4M287.3 75.3v3.4M287.2 63.3v3.4M286.9 73.4v3.4M287.1 90.4v3.4M287.0 78.2v3.4M287.2 103.8v3.4M287.0 113.9v3.4M287.1 79.3v3.4M287.0 103.9v3.4M287.1 99.3v3.4M287.2 97.1v3.4M287.2 109.2v3.4M286.9 110.8v3.4M287.3 106.4v3.4M287.0 81.2v3.4M287.1 69.7v3.4M286.9 126.0v3.4M287.3 97.6v3.4M287.1 75.4v3.4M287.1 82.2v3.4M286.9 71.9v3.4M287.0 79.9v3.4M287.0 92.2v3.4M287.0 84.2v3.4M287.2 87.4v3.4M287.1 77.2v3.4M287.1 84.2v3.4M287.2 82.5v3.4M287.0 94.9v3.4M287.3 72.0v3.4M287.2 83.6v3.4M287.0 117.4v3.4M287.1 102.6v3.4M287.0 105.3v3.4M287.0 70.7v3.4M287.3 79.9v3.4M287.0 75.8v3.4M287.1 91.4v3.4M287.0 86.6v3.4M287.2 101.2v3.4M287.2 84.4v3.4M287.1 72.3v3.4M287.2 83.1v3.4M287.1 98.3v3.4M286.9 95.7v3.4M287.1 95.7v3.4M287.3 111.4v3.4M287.1 78.0v3.4M287.2 89.5v3.4M287.2 71.3v3.4M287.0 63.7v3.4M286.9 73.7v3.4M287.2 89.8v3.4M286.9 106.2v3.4M287.1 105.9v3.4M287.2 106.3v3.4M286.9 87.9v3.4M287.1 71.1v3.4M287.3 76.2v3.4M287.1 85.4v3.4M287.2 120.2v3.4M287.1 90.4v3.4M287.0 94.4v3.4M287.3 63.7v3.4M287.2 111.4v3.4M287.0 106.8v3.4M287.0 106.7v3.4M287.0 110.7v3.4M287.1 112.0v3.4M287.1 51.7v3.4M286.9 65.6v3.4M287.0 80.6v3.4M287.2 121.7v3.4M287.0 108.9v3.4M287.1 95.8v3.4M287.1 92.6v3.4M287.0 124.0v3.4M287.2 79.7v3.4M287.0 79.2v3.4M287.2 84.6v3.4M286.9 94.5v3.4M287.0 121.2v3.4M287.3 119.8v3.4M287.3 83.3v3.4M287.1 85.0v3.4M287.1 99.8v3.4M287.1 127.0v3.4M287.2 100.5v3.4M286.9 82.5v3.4M287.0 92.1v3.4M287.2 126.7v3.4M287.2 84.6v3.4M287.2 90.6v3.4M287.0 93.3v3.4M287.0 74.8v3.4M287.3 81.0v3.4M287.3 114.8v3.4M287.0 45.7v3.4M287.0 93.7v3.4M287.3 102.2v3.4M287.0 113.3v3.4M287.1 57.7v3.4M287.3 99.1v3.4M287.2 87.4v3.4M287.3 125.8v3.4M287.0 121.4v3.4M287.1 111.0v3.4M287.2 94.7v3.4M286.9 112.8v3.4M287.0 112.8v3.4M287.2 86.6v3.4M287.0 92.3v3.4M287.2 89.2v3.4M286.9 82.6v3.4M287.1 78.6v3.4M287.0 99.4v3.4M287.0 117.3v3.4M287.1 74.3v3.4M287.3 115.3v3.4M287.1 81.2v3.4M286.9 79.6v3.4M287.1 90.1v3.4M286.9 64.9v3.4M287.0 96.7v3.4M287.0 101.2v3.4M287.0 95.5v3.4M287.0 92.6v3.4M287.2 78.9v3.4M287.0 64.6v3.4M287.3 96.0v3.4M287.1 99.7v3.4M286.9 92.1v3.4M287.0 109.8v3.4M286.9 89.3v3.4M286.9 70.1v3.4M287.2 85.6v3.4M287.3 104.9v3.4M287.2 81.4v3.4M287.2 70.1v3.4M287.2 87.9v3.4M287.3 79.0v3.4M287.0 85.8v3.4M286.9 77.8v3.4M287.0 121.6v3.4M287.1 92.2v3.4M287.1 91.9v3.4M287.0 108.1v3.4M286.9 90.3v3.4M287.0 113.5v3.4M287.3 75.7v3.4M286.9 85.6v3.4M287.2 75.5v3.4M287.1 97.6v3.4M287.1 109.0v3.4M287.2 80.8v3.4M287.2 70.9v3.4M287.0 84.9v3.4M287.0 73.6v3.4M287.1 125.4v3.4M287.3 72.6v3.4M287.2 98.8v3.4M287.2 124.6v3.4M286.9 63.6v3.4M287.1 76.3v3.4M287.2 86.3v3.4M287.3 107.4v3.4M287.1 79.4v3.4M286.9 105.2v3.4M287.3 110.5v3.4M287.1 103.5v3.4M287.3 84.9v3.4M287.2 118.3v3.4M287.3 117.2v3.4M287.0 113.3v3.4M287.0 87.4v3.4M287.2 59.3v3.4M287.1 104.4v3.4M287.2 79.2v3.4M287.1 59.5v3.4M286.9 89.3v3.4M287.1 81.0v3.4M287.3 83.2v3.4M287.1 97.7v3.4M287.1 89.1v3.4M287.2 130.5v3.4M287.3 110.7v3.4M287.1 91.7v3.4M287.1 129.8v3.4M287.0 78.8v3.4M287.2 75.1v3.4M287.0 111.2v3.4M287.0 119.1v3.4M287.3 109.8v3.4M287.0 95.5v3.4M287.2 89.8v3.4M286.9 78.1v3.4M287.2 89.0v3.4M287.0 89.3v3.4M287.1 100.5v3.4M287.1 90.8v3.4M287.2 97.8v3.4M286.9 63.7v3.4M287.0 82.8v3.4M287.0 57.7v3.4M287.2 100.7v3.4M287.0 93.7v3.4M286.9 93.2v3.4M287.1 67.4v3.4M287.2 88.0v3.4M287.3 85.8v3.4M287.1 45.7v3.4M286.9 90.3v3.4M287.2 105.5v3.4M287.0 79.1v3.4M287.0 80.4v3.4M287.2 103.1v3.4M287.1 95.2v3.4M287.0 92.2v3.4M287.0 87.0v3.4M287.0 118.3v3.4M287.2 94.6v3.4M287.0 82.3v3.4M287.0 85.8v3.4M286.9 72.1v3.4M287.1 102.8v3.4M287.2 86.8v3.4M287.3 78.5v3.4M286.9 110.8v3.4M287.1 116.8v3.4M288.5 84.7v3.4M288.7 84.1v3.4M288.5 85.1v3.4M288.6 88.7v3.4M288.7 101.5v3.4M288.7 97.7v3.4M288.6 90.9v3.4M288.7 115.2v3.4M288.4 71.6v3.4M288.6 115.4v3.4M288.7 92.4v3.4M288.4 74.2v3.4M288.4 87.6v3.4M288.3 90.6v3.4M288.6 73.0v3.4M288.6 85.9v3.4M288.4 77.3v3.4M288.4 131.5v3.4M288.7 84.3v3.4M288.6 86.4v3.4M288.7 92.3v3.4M288.6 42.0v3.4M288.3 76.5v3.4M288.4 97.4v3.4M288.4 96.8v3.4M288.5 73.9v3.4M288.3 100.5v3.4M288.3 105.1v3.4M288.5 89.3v3.4M288.6 105.7v3.4M288.4 127.7v3.4M288.4 87.1v3.4M288.6 66.2v3.4M288.4 94.8v3.4M288.7 118.4v3.4M288.3 87.6v3.4M288.5 84.0v3.4M288.4 81.0v3.4M288.6 133.9v3.4M288.6 100.8v3.4M288.6 112.4v3.4M288.3 87.3v3.4M288.4 100.8v3.4M288.5 77.3v3.4M288.4 112.0v3.4M288.4 97.9v3.4M288.7 111.2v3.4M288.5 88.6v3.4M288.4 87.0v3.4M288.3 108.3v3.4M288.6 79.3v3.4M288.3 75.7v3.4M288.7 66.0v3.4M288.7 90.3v3.4M288.5 80.6v3.4M288.4 57.8v3.4M288.6 99.7v3.4M288.4 125.2v3.4M288.7 101.8v3.4M288.6 86.4v3.4M288.6 99.9v3.4M288.6 87.0v3.4M288.4 97.1v3.4M288.6 75.8v3.4M288.6 88.7v3.4M288.6 102.5v3.4M288.6 101.5v3.4M288.5 96.8v3.4M288.4 74.0v3.4M288.7 42.0v3.4M288.5 88.3v3.4M288.5 123.4v3.4M288.5 83.3v3.4M288.3 104.3v3.4M288.4 108.8v3.4M288.3 86.2v3.4M288.4 112.1v3.4M288.4 64.9v3.4M288.6 79.3v3.4M288.3 100.8v3.4M288.6 120.2v3.4M288.7 82.7v3.4M288.6 83.5v3.4M288.7 86.0v3.4M288.7 80.0v3.4M288.4 74.5v3.4M288.4 98.3v3.4M288.6 66.0v3.4M288.4 125.9v3.4M288.6 112.5v3.4M288.6 72.2v3.4M288.6 108.7v3.4M288.4 87.7v3.4M288.4 113.5v3.4M288.5 80.4v3.4M288.6 65.7v3.4M288.6 100.6v3.4M288.6 107.0v3.4M288.4 96.5v3.4M288.4 97.9v3.4M288.5 96.3v3.4M288.6 92.2v3.4M288.5 48.0v3.4M288.4 71.6v3.4M288.4 84.0v3.4M288.6 48.0v3.4M288.4 97.6v3.4M288.5 93.2v3.4M288.5 90.0v3.4M288.4 74.6v3.4M288.4 88.3v3.4M288.6 98.5v3.4M288.4 89.8v3.4M288.4 100.8v3.4M288.4 74.5v3.4M288.4 109.2v3.4M288.4 87.4v3.4M288.3 89.5v3.4M288.5 95.6v3.4M288.7 98.7v3.4M288.6 42.0v3.4M288.5 120.3v3.4M288.4 116.7v3.4M288.4 113.3v3.4M288.4 110.8v3.4M288.5 106.7v3.4M288.4 99.1v3.4M288.5 105.8v3.4M288.7 89.5v3.4M288.4 85.0v3.4M288.5 76.7v3.4M288.5 90.0v3.4M288.6 70.2v3.4M288.5 94.7v3.4M288.6 79.6v3.4M288.3 118.2v3.4M288.6 75.7v3.4M288.5 70.8v3.4M288.7 96.3v3.4M288.5 68.3v3.4M288.6 78.1v3.4M288.5 48.0v3.4M288.5 111.6v3.4M288.6 86.5v3.4M288.3 79.0v3.4M288.4 122.9v3.4M288.6 74.5v3.4M288.6 122.0v3.4M288.5 120.5v3.4M288.4 66.7v3.4M288.7 74.5v3.4M288.6 87.5v3.4M288.3 80.4v3.4M288.6 87.3v3.4M288.4 89.3v3.4M288.7 112.5v3.4M288.3 123.2v3.4M288.6 104.9v3.4M288.4 101.2v3.4M288.5 67.5v3.4M288.4 79.2v3.4M288.5 75.5v3.4M288.6 85.1v3.4M288.5 79.0v3.4M288.5 105.3v3.4M288.4 53.1v3.4M288.6 92.9v3.4M288.6 114.6v3.4M288.6 92.3v3.4M288.5 122.7v3.4M288.5 68.2v3.4M288.5 96.6v3.4M288.6 127.2v3.4M288.5 105.2v3.4M288.4 80.7v3.4M288.3 74.1v3.4M288.3 54.0v3.4M288.5 79.2v3.4M288.7 78.9v3.4M288.4 94.5v3.4M288.6 94.9v3.4M288.3 93.8v3.4M288.5 110.8v3.4M288.6 104.8v3.4M288.5 100.6v3.4M288.6 98.4v3.4M288.5 95.9v3.4M288.4 93.3v3.4M288.5 66.0v3.4M288.6 107.1v3.4M288.5 114.1v3.4M288.4 78.6v3.4M288.7 77.5v3.4M288.5 74.6v3.4M288.4 95.0v3.4M288.6 70.9v3.4M288.6 88.1v3.4M288.6 89.1v3.4M288.4 88.8v3.4M288.7 80.9v3.4M288.6 97.2v3.4M288.5 90.9v3.4M288.4 81.8v3.4M288.6 91.6v3.4M288.7 81.8v3.4M288.7 97.2v3.4M288.4 92.7v3.4M288.5 81.8v3.4M288.7 84.6v3.4M288.6 77.9v3.4M288.6 96.3v3.4M288.7 88.1v3.4M288.6 104.6v3.4M288.7 91.5v3.4M288.5 104.9v3.4M288.6 42.0v3.4M289.8 80.9v3.4M289.8 134.9v3.4M289.8 84.6v3.4M289.8 102.1v3.4M289.8 83.8v3.4M290.0 120.0v3.4M289.8 77.0v3.4M289.8 83.9v3.4M289.7 133.3v3.4M289.7 70.9v3.4M290.1 97.6v3.4M289.8 83.8v3.4M289.7 78.9v3.4M290.1 71.8v3.4M289.8 80.2v3.4M289.7 123.7v3.4M289.7 116.5v3.4M289.7 80.3v3.4M289.7 87.7v3.4M289.9 94.9v3.4M289.8 93.9v3.4M290.0 88.5v3.4M290.0 113.6v3.4M290.0 80.0v3.4M290.0 97.9v3.4M289.8 69.8v3.4M290.1 124.3v3.4M289.7 65.0v3.4M290.0 105.8v3.4M290.0 98.8v3.4M290.1 85.1v3.4M289.8 82.1v3.4M290.0 114.3v3.4M289.8 70.8v3.4M289.9 53.0v3.4M289.9 128.5v3.4M289.8 71.1v3.4M289.7 110.1v3.4M290.0 116.2v3.4M289.9 84.8v3.4M289.8 78.3v3.4M290.0 100.8v3.4M289.7 53.0v3.4M289.9 97.1v3.4M289.8 84.6v3.4M290.0 85.7v3.4M289.8 82.0v3.4M289.9 94.8v3.4M289.9 106.5v3.4M289.7 96.8v3.4M289.8 87.3v3.4M289.8 88.2v3.4M289.9 89.5v3.4M290.0 95.8v3.4M290.0 91.8v3.4M290.0 74.1v3.4M289.8 105.5v3.4M289.9 117.0v3.4M289.7 105.0v3.4M289.8 85.8v3.4M290.0 108.8v3.4M289.8 95.9v3.4M290.0 87.1v3.4M289.9 81.9v3.4M289.9 74.7v3.4M289.8 89.5v3.4M289.8 100.1v3.4M290.0 80.9v3.4M290.1 94.6v3.4M290.1 53.0v3.4M289.9 79.0v3.4M290.0 90.0v3.4M289.8 85.7v3.4M289.8 109.9v3.4M289.9 76.8v3.4M290.0 86.3v3.4M289.9 86.4v3.4M289.8 93.3v3.4M289.7 102.8v3.4M290.0 99.3v3.4M289.9 95.9v3.4M289.8 59.9v3.4M289.8 81.8v3.4M289.9 90.0v3.4M289.8 80.2v3.4M290.1 77.1v3.4M290.0 65.0v3.4M289.7 76.0v3.4M290.0 107.8v3.4M290.0 100.8v3.4M290.1 41.0v3.4M290.0 109.7v3.4M290.0 125.1v3.4M290.0 87.3v3.4M289.7 93.3v3.4M290.0 91.7v3.4M289.8 85.4v3.4M289.7 97.3v3.4M290.1 124.7v3.4M289.8 90.5v3.4M290.0 78.6v3.4M290.0 73.7v3.4M290.0 91.9v3.4M289.9 79.2v3.4M289.9 93.7v3.4M290.1 41.0v3.4M289.9 87.4v3.4M290.0 97.9v3.4M289.9 92.9v3.4M290.0 125.2v3.4M289.8 104.0v3.4M290.1 71.4v3.4M290.0 83.2v3.4M290.1 97.2v3.4M290.0 118.5v3.4M289.7 47.0v3.4M289.7 65.0v3.4M290.0 81.8v3.4M289.7 112.1v3.4M289.8 88.5v3.4M290.0 95.4v3.4M290.1 109.8v3.4M289.8 72.2v3.4M289.9 120.4v3.4M289.8 101.6v3.4M289.9 125.9v3.4M289.8 117.0v3.4M289.8 83.1v3.4M289.9 104.8v3.4M289.8 92.1v3.4M289.9 100.8v3.4M290.0 74.4v3.4M289.8 103.1v3.4M289.8 94.8v3.4M289.8 106.0v3.4M289.8 78.6v3.4M290.1 63.4v3.4M290.1 117.3v3.4M290.0 117.5v3.4M289.8 79.0v3.4M290.0 89.1v3.4M289.8 97.0v3.4M290.0 95.0v3.4M290.0 86.5v3.4M289.8 132.7v3.4M289.9 96.0v3.4M289.8 108.6v3.4M290.0 87.7v3.4M290.0 93.1v3.4M289.9 81.8v3.4M290.1 94.9v3.4M290.1 85.8v3.4M289.8 59.0v3.4M289.7 96.0v3.4M289.9 93.3v3.4M290.1 87.9v3.4M289.7 82.1v3.4M289.9 74.1v3.4M290.1 83.5v3.4M289.8 83.1v3.4M289.7 88.3v3.4M290.1 83.0v3.4M290.1 81.6v3.4M290.0 78.2v3.4M290.0 87.9v3.4M289.9 78.8v3.4M289.8 85.9v3.4M290.0 107.7v3.4M290.1 91.4v3.4M290.0 94.1v3.4M289.9 76.9v3.4M289.9 86.6v3.4M289.8 99.1v3.4M290.0 95.8v3.4M289.9 92.8v3.4M290.1 81.5v3.4M290.0 67.6v3.4M289.9 93.7v3.4M290.0 90.3v3.4M290.1 79.4v3.4M289.9 82.5v3.4M289.9 82.2v3.4M289.8 96.2v3.4M289.9 84.3v3.4M289.9 107.9v3.4M289.9 88.7v3.4M290.0 94.9v3.4M290.1 86.4v3.4M290.1 85.3v3.4M289.8 92.3v3.4M289.8 83.7v3.4M290.0 102.6v3.4M291.1 84.5v3.4M291.1 85.5v3.4M291.3 94.6v3.4M291.0 66.0v3.4M291.1 82.2v3.4M291.0 87.0v3.4M291.2 102.0v3.4M291.3 85.5v3.4M291.0 122.5v3.4M291.1 80.6v3.4M291.3 97.6v3.4M291.2 67.9v3.4M291.3 100.6v3.4M291.0 82.2v3.4M291.3 82.1v3.4M291.1 84.6v3.4M291.1 110.7v3.4M291.3 93.4v3.4M291.1 120.2v3.4M291.2 89.1v3.4M291.0 83.1v3.4M291.1 110.6v3.4M291.2 81.0v3.4M291.3 87.4v3.4M291.2 74.8v3.4M291.2 124.2v3.4M291.2 87.6v3.4M291.0 118.6v3.4M291.2 94.6v3.4M291.0 97.0v3.4M291.2 85.9v3.4M291.4 131.6v3.4M291.3 110.9v3.4M291.2 105.0v3.4M291.4 113.4v3.4M291.0 79.7v3.4M291.1 96.3v3.4M291.3 97.0v3.4M291.2 96.9v3.4M291.0 117.6v3.4M291.3 118.5v3.4M291.1 97.6v3.4M291.3 99.5v3.4M291.1 81.1v3.4M291.1 66.1v3.4M291.1 48.0v3.4M291.4 73.1v3.4M291.3 75.9v3.4M291.1 119.3v3.4M291.1 89.0v3.4M291.0 73.3v3.4M291.4 91.5v3.4M291.0 92.5v3.4M291.2 97.5v3.4M291.2 60.9v3.4M291.3 79.0v3.4M291.2 89.1v3.4M291.4 101.6v3.4M291.4 82.0v3.4M291.3 109.3v3.4M291.3 118.7v3.4M291.2 82.7v3.4M291.1 120.6v3.4M291.1 80.9v3.4M291.1 97.2v3.4M291.3 64.7v3.4M291.1 90.1v3.4M291.2 90.2v3.4M291.2 110.1v3.4M291.1 101.2v3.4M291.1 80.4v3.4M291.4 104.8v3.4M291.3 80.3v3.4M291.2 125.8v3.4M291.3 109.6v3.4M291.2 103.0v3.4M291.2 82.1v3.4M291.3 92.5v3.4M291.1 66.8v3.4M291.4 125.8v3.4M291.3 104.3v3.4M291.4 86.5v3.4M291.2 90.3v3.4M291.2 102.3v3.4M291.2 89.0v3.4M291.3 88.2v3.4M291.2 42.0v3.4M291.2 116.3v3.4M291.2 63.7v3.4M291.0 109.8v3.4M291.3 105.3v3.4M291.2 123.5v3.4M291.3 69.4v3.4M291.2 63.5v3.4M291.0 54.0v3.4M291.0 42.0v3.4M291.2 116.4v3.4M291.3 114.2v3.4M291.3 87.0v3.4M291.2 77.5v3.4M291.2 124.0v3.4M291.1 105.5v3.4M291.2 72.6v3.4M291.1 109.1v3.4M291.0 83.5v3.4M291.3 116.4v3.4M291.4 100.2v3.4M291.3 113.8v3.4M291.3 91.7v3.4M291.2 78.2v3.4M291.2 73.1v3.4M291.1 83.2v3.4M291.3 83.1v3.4M291.4 79.0v3.4M291.3 84.4v3.4M291.2 75.7v3.4M291.3 78.9v3.4M291.0 109.1v3.4M291.1 70.2v3.4M291.0 75.8v3.4M291.1 99.3v3.4M291.4 70.1v3.4M291.3 64.6v3.4M291.2 87.4v3.4M291.2 71.8v3.4M291.0 42.0v3.4M291.3 60.0v3.4M291.1 64.0v3.4M291.0 108.9v3.4M291.3 78.6v3.4M291.2 117.2v3.4M291.4 82.1v3.4M291.1 96.3v3.4M291.1 84.1v3.4M291.4 68.7v3.4M291.2 95.2v3.4M291.2 111.1v3.4M291.0 87.4v3.4M291.0 100.6v3.4M291.1 83.4v3.4M291.4 84.6v3.4M291.0 112.9v3.4M291.1 87.7v3.4M291.1 91.2v3.4M291.2 93.8v3.4M291.1 88.1v3.4M291.2 78.9v3.4M291.3 85.6v3.4M291.3 86.8v3.4M291.1 86.1v3.4M291.2 87.7v3.4M291.3 119.3v3.4M291.2 88.1v3.4M291.0 103.3v3.4M291.1 87.7v3.4M291.3 89.4v3.4M291.1 84.5v3.4M291.1 99.4v3.4M291.1 74.8v3.4M291.0 103.1v3.4M291.0 102.9v3.4M291.3 95.7v3.4M291.2 93.9v3.4M291.0 83.5v3.4M291.3 90.8v3.4M291.4 78.9v3.4M291.4 74.4v3.4M291.0 48.0v3.4M291.1 109.1v3.4M291.3 106.2v3.4M291.2 81.4v3.4M291.1 87.2v3.4M291.2 99.7v3.4M291.4 117.8v3.4M291.3 72.7v3.4M291.3 79.9v3.4M291.3 80.7v3.4M291.2 100.1v3.4M291.1 86.9v3.4M291.3 105.0v3.4M291.2 81.9v3.4M291.3 70.9v3.4M291.3 82.3v3.4M291.3 91.5v3.4M291.1 93.7v3.4M291.3 89.8v3.4M291.2 84.6v3.4M291.3 85.1v3.4M291.1 103.7v3.4M291.1 100.8v3.4M291.1 100.7v3.4M291.0 93.9v3.4M291.3 120.6v3.4M291.2 84.5v3.4M291.3 105.9v3.4M291.2 95.5v3.4M291.1 101.4v3.4M291.2 109.3v3.4M291.1 124.4v3.4M291.3 89.5v3.4M291.1 79.0v3.4M291.1 93.7v3.4M291.2 86.1v3.4M291.1 97.1v3.4M291.1 103.8v3.4M291.1 89.0v3.4M291.1 117.2v3.4M291.3 83.2v3.4M291.2 98.8v3.4M291.2 110.1v3.4M291.3 81.2v3.4M291.3 86.6v3.4M291.2 89.6v3.4M291.2 81.3v3.4M291.3 83.0v3.4M291.1 128.8v3.4M292.3 68.9v3.4M292.3 80.0v3.4M292.3 101.9v3.4M292.5 110.4v3.4M292.4 79.0v3.4M292.4 85.3v3.4M292.4 83.1v3.4M292.4 107.2v3.4M292.4 58.6v3.4M292.5 75.5v3.4M292.5 80.5v3.4M292.3 112.3v3.4M292.3 69.5v3.4M292.6 109.7v3.4M292.3 67.0v3.4M292.5 89.5v3.4M292.5 105.4v3.4M292.4 76.0v3.4M292.4 88.6v3.4M292.5 70.8v3.4M292.5 83.2v3.4M292.2 104.0v3.4M292.3 85.2v3.4M292.5 99.3v3.4M292.2 40.6v3.4M292.3 96.0v3.4M292.3 89.5v3.4M292.4 90.0v3.4M292.3 91.5v3.4M292.4 59.2v3.4M292.5 95.3v3.4M292.3 110.6v3.4M292.4 84.9v3.4M292.3 89.8v3.4M292.4 85.0v3.4M292.4 87.4v3.4M292.2 76.7v3.4M292.3 87.8v3.4M292.4 93.1v3.4M292.3 91.7v3.4M292.3 95.2v3.4M292.5 86.5v3.4M292.2 89.6v3.4M292.3 104.7v3.4M292.3 104.8v3.4M292.3 65.6v3.4M292.4 108.5v3.4M292.5 93.5v3.4M292.5 88.2v3.4M292.5 94.5v3.4M292.4 96.5v3.4M292.3 92.3v3.4M292.3 80.1v3.4M292.3 69.7v3.4M292.5 88.8v3.4M292.2 103.1v3.4M292.4 92.6v3.4M292.5 83.7v3.4M292.2 80.0v3.4M292.6 116.9v3.4M292.6 80.3v3.4M292.3 88.4v3.4M292.5 71.4v3.4M292.3 72.7v3.4M292.6 69.7v3.4M292.4 100.8v3.4M292.4 120.9v3.4M292.2 107.8v3.4M292.5 128.2v3.4M292.4 81.0v3.4M292.3 92.3v3.4M292.5 87.4v3.4M292.4 75.6v3.4M292.3 107.6v3.4M292.5 102.4v3.4M292.5 70.6v3.4M292.5 95.6v3.4M292.5 81.8v3.4M292.2 103.9v3.4M292.5 77.4v3.4M292.3 81.2v3.4M292.3 71.8v3.4M292.2 93.8v3.4M292.4 88.0v3.4M292.3 75.4v3.4M292.5 87.9v3.4M292.4 94.0v3.4M292.3 97.8v3.4M292.3 64.6v3.4M292.3 75.5v3.4M292.6 93.7v3.4M292.4 121.0v3.4M292.6 103.6v3.4M292.4 46.6v3.4M292.3 83.2v3.4M292.4 111.9v3.4M292.4 81.2v3.4M292.4 97.5v3.4M292.3 70.1v3.4M292.2 76.2v3.4M292.5 114.3v3.4M292.3 100.4v3.4M292.3 79.2v3.4M292.5 108.4v3.4M292.6 74.3v3.4M292.6 86.5v3.4M292.4 119.8v3.4M292.5 95.4v3.4M292.6 75.5v3.4M292.3 90.2v3.4M292.2 90.1v3.4M292.5 90.4v3.4M292.6 76.4v3.4M292.5 100.6v3.4M292.4 94.7v3.4M292.2 107.3v3.4M292.4 87.1v3.4M292.2 58.6v3.4M292.3 88.3v3.4M292.2 79.1v3.4M292.2 90.1v3.4M292.6 104.4v3.4M292.3 83.3v3.4M292.2 108.4v3.4M292.6 101.1v3.4M292.4 84.5v3.4M292.5 71.8v3.4M292.5 96.8v3.4M292.3 113.6v3.4M292.4 74.2v3.4M292.3 78.9v3.4M292.5 103.4v3.4M292.5 104.1v3.4M292.3 107.5v3.4M292.4 90.6v3.4M292.5 85.1v3.4M292.5 86.3v3.4M292.6 114.0v3.4M292.5 69.5v3.4M292.3 83.1v3.4M292.2 114.9v3.4M292.2 94.2v3.4M292.4 107.5v3.4M292.3 104.3v3.4M292.2 131.3v3.4M292.5 110.8v3.4M292.6 91.9v3.4M292.4 87.1v3.4M292.2 122.3v3.4M292.4 89.1v3.4M292.2 88.1v3.4M292.3 89.3v3.4M292.6 81.0v3.4M292.5 90.6v3.4M292.6 86.7v3.4M292.5 87.9v3.4M292.3 106.5v3.4M292.4 78.9v3.4M292.5 91.2v3.4M292.5 83.1v3.4M292.2 103.3v3.4M292.2 83.6v3.4M292.2 115.2v3.4M292.2 85.3v3.4M292.4 89.3v3.4M292.6 72.8v3.4M292.2 74.6v3.4M292.6 82.8v3.4M292.4 97.5v3.4M293.7 122.4v3.4M293.9 92.2v3.4M293.8 114.7v3.4M293.7 88.7v3.4M293.6 99.0v3.4M293.6 61.0v3.4M293.8 96.2v3.4M293.8 84.9v3.4M293.9 91.9v3.4M293.7 107.3v3.4M293.5 89.0v3.4M293.9 102.0v3.4M293.7 80.1v3.4M293.9 87.2v3.4M293.6 117.8v3.4M293.9 81.3v3.4M293.7 82.4v3.4M293.6 89.1v3.4M293.7 68.2v3.4M293.8 84.6v3.4M293.9 84.0v3.4M293.8 109.1v3.4M293.6 106.3v3.4M293.9 76.6v3.4M293.6 88.4v3.4M293.7 87.9v3.4M293.8 77.7v3.4M293.6 55.0v3.4M293.7 80.0v3.4M293.8 106.3v3.4M293.5 96.2v3.4M293.7 67.6v3.4M293.5 108.0v3.4M293.7 72.0v3.4M293.6 78.5v3.4M293.7 84.5v3.4M293.9 104.9v3.4M293.8 110.6v3.4M293.8 103.4v3.4M293.7 97.8v3.4M293.5 90.5v3.4M293.5 89.4v3.4M293.8 78.2v3.4M293.6 106.6v3.4M293.8 94.2v3.4M293.9 84.2v3.4M293.7 111.3v3.4M293.6 85.1v3.4M293.9 85.7v3.4M293.9 108.3v3.4M293.5 90.9v3.4M293.6 80.4v3.4M293.8 87.7v3.4M293.6 94.6v3.4M293.8 93.8v3.4M293.8 83.1v3.4M293.7 82.0v3.4M293.7 120.3v3.4M293.8 67.0v3.4M293.8 104.6v3.4M293.6 93.8v3.4M293.5 111.8v3.4M293.5 66.1v3.4M293.8 85.7v3.4M293.9 65.9v3.4M293.8 93.8v3.4M293.8 55.0v3.4M293.6 104.5v3.4M293.6 121.5v3.4M293.7 89.2v3.4M293.8 88.4v3.4M293.7 86.7v3.4M293.9 86.5v3.4M293.6 97.7v3.4M293.7 82.1v3.4M293.5 101.0v3.4M293.8 120.7v3.4M293.8 93.0v3.4M293.6 95.7v3.4M293.8 82.3v3.4M293.8 91.5v3.4M293.8 122.2v3.4M293.7 94.6v3.4M293.7 96.6v3.4M293.8 91.3v3.4M293.8 78.8v3.4M293.9 106.5v3.4M293.6 82.5v3.4M293.9 83.7v3.4M293.7 93.7v3.4M293.9 76.4v3.4M293.6 69.4v3.4M293.6 78.8v3.4M293.7 92.2v3.4M293.6 80.4v3.4M293.6 106.4v3.4M293.8 108.1v3.4M293.7 92.3v3.4M293.6 105.9v3.4M293.8 109.3v3.4M293.6 103.8v3.4M293.8 107.2v3.4M293.8 86.2v3.4M293.7 87.6v3.4M293.7 77.8v3.4M293.8 67.0v3.4M293.5 108.7v3.4M293.7 94.7v3.4M293.6 85.0v3.4M293.7 78.8v3.4M293.6 79.4v3.4M293.7 84.3v3.4M293.5 71.8v3.4M293.7 74.9v3.4M293.6 67.4v3.4M293.9 110.3v3.4M293.7 78.3v3.4M293.9 82.8v3.4M293.6 93.3v3.4M293.6 55.0v3.4M293.6 107.3v3.4M293.9 89.3v3.4M293.6 79.7v3.4M293.5 115.2v3.4M293.6 91.4v3.4M293.7 100.9v3.4M293.7 106.6v3.4M293.7 61.0v3.4M293.5 74.0v3.4M293.5 90.0v3.4M293.7 94.7v3.4M293.6 87.1v3.4M293.9 106.4v3.4M293.6 82.4v3.4M293.8 83.0v3.4M293.6 79.8v3.4M293.8 88.4v3.4M293.6 75.9v3.4M293.7 82.7v3.4M293.6 124.5v3.4M293.8 84.3v3.4M293.5 123.7v3.4M293.6 104.9v3.4M293.7 94.2v3.4M293.5 93.9v3.4M293.9 97.7v3.4M293.7 88.0v3.4M293.8 70.4v3.4M293.6 84.7v3.4M293.7 90.2v3.4M293.6 98.7v3.4M293.6 87.1v3.4M293.7 103.2v3.4M293.7 78.7v3.4M293.9 129.0v3.4M293.8 87.8v3.4M293.6 90.3v3.4M293.7 99.8v3.4M293.5 91.6v3.4M293.8 86.3v3.4M293.8 58.9v3.4M293.6 100.1v3.4M293.7 98.0v3.4M293.9 74.2v3.4M293.7 104.0v3.4M293.6 92.2v3.4M293.6 61.0v3.4M293.6 80.8v3.4M293.9 63.9v3.4M293.9 78.2v3.4M293.8 117.6v3.4M293.8 78.9v3.4M293.5 91.1v3.4M293.5 97.6v3.4M293.6 61.0v3.4M293.5 79.8v3.4M293.8 117.4v3.4M293.6 88.7v3.4M293.9 75.5v3.4M293.9 92.1v3.4M293.8 89.3v3.4M293.6 96.3v3.4M293.6 101.6v3.4M293.7 70.3v3.4M293.7 98.1v3.4M293.7 94.9v3.4M293.9 84.4v3.4M293.8 103.3v3.4M293.8 98.0v3.4M293.6 83.1v3.4M293.5 101.7v3.4M293.8 113.7v3.4M293.8 95.0v3.4M293.8 85.8v3.4M293.6 85.4v3.4M293.7 104.6v3.4M293.8 87.6v3.4M293.6 72.4v3.4M293.8 101.4v3.4M293.8 100.1v3.4M293.7 79.7v3.4M293.9 72.7v3.4M293.5 43.0v3.4M293.6 49.0v3.4M293.6 77.7v3.4M293.7 90.3v3.4M293.5 89.6v3.4M293.8 83.3v3.4M293.7 105.1v3.4M293.6 43.0v3.4M293.7 113.6v3.4M293.5 97.9v3.4M293.6 54.9v3.4M293.6 43.0v3.4M293.7 80.4v3.4M293.5 68.1v3.4M293.9 78.7v3.4M293.8 43.0v3.4M293.8 106.1v3.4M293.8 82.9v3.4M293.7 103.6v3.4M293.8 84.1v3.4M294.7 95.7v3.4M294.8 96.2v3.4M294.9 76.1v3.4M295.0 94.6v3.4M294.8 73.0v3.4M294.8 81.4v3.4M294.8 75.1v3.4M295.0 97.9v3.4M294.9 96.3v3.4M294.7 82.8v3.4M294.9 88.6v3.4M295.0 82.8v3.4M294.7 97.3v3.4M294.9 84.0v3.4M295.0 65.5v3.4M294.8 91.7v3.4M295.1 103.7v3.4M294.9 66.3v3.4M294.9 88.5v3.4M294.7 87.0v3.4M294.7 112.7v3.4M294.7 82.0v3.4M295.1 91.5v3.4M294.9 82.4v3.4M295.0 95.2v3.4M294.9 84.5v3.4M295.0 91.9v3.4M295.0 85.3v3.4M294.9 89.5v3.4M294.9 106.5v3.4M295.0 88.1v3.4M295.1 89.4v3.4M294.8 76.7v3.4M295.0 95.4v3.4M294.8 67.0v3.4M294.7 117.9v3.4M294.9 75.6v3.4M294.7 69.5v3.4M295.0 89.7v3.4M294.8 78.6v3.4M294.8 90.0v3.4M295.1 100.4v3.4M294.8 91.8v3.4M295.0 87.9v3.4M294.9 110.6v3.4M294.9 101.3v3.4M294.8 89.7v3.4M294.8 55.2v3.4M294.7 84.4v3.4M295.0 98.8v3.4M294.8 107.9v3.4M294.8 108.5v3.4M294.7 95.6v3.4M295.1 99.7v3.4M295.1 81.2v3.4M295.1 81.0v3.4M295.0 79.3v3.4M294.7 84.3v3.4M295.0 102.4v3.4M295.0 93.6v3.4M295.0 103.3v3.4M294.7 88.7v3.4M294.9 61.5v3.4M295.1 84.1v3.4M295.0 43.2v3.4M294.8 77.0v3.4M294.8 87.9v3.4M294.8 101.8v3.4M294.8 94.6v3.4M294.9 87.6v3.4M294.8 98.9v3.4M294.8 85.9v3.4M294.8 106.7v3.4M295.0 90.9v3.4M294.9 77.8v3.4M294.8 104.1v3.4M295.0 106.5v3.4M295.1 67.2v3.4M295.0 74.9v3.4M294.7 106.6v3.4M294.9 72.7v3.4M294.7 99.6v3.4M295.0 85.6v3.4M294.8 89.7v3.4M294.8 98.5v3.4M294.8 88.5v3.4M294.9 82.3v3.4M294.9 72.8v3.4M294.9 83.4v3.4M294.8 115.4v3.4M294.8 55.2v3.4M294.9 67.2v3.4M295.1 99.9v3.4M295.1 76.3v3.4M294.8 97.1v3.4M295.1 89.9v3.4M294.8 81.9v3.4M294.8 55.2v3.4M294.8 72.6v3.4M294.8 95.6v3.4M294.8 102.1v3.4M294.8 119.2v3.4M294.9 83.1v3.4M294.9 71.7v3.4M294.8 90.8v3.4M294.7 93.6v3.4M294.8 107.3v3.4M294.7 89.0v3.4M294.8 72.5v3.4M294.8 86.1v3.4M294.8 70.9v3.4M295.0 98.4v3.4M294.7 121.3v3.4M295.0 125.9v3.4M294.7 89.2v3.4M295.0 113.6v3.4M294.9 67.1v3.4M295.1 97.3v3.4M294.9 77.4v3.4M295.1 91.8v3.4M295.0 103.7v3.4M295.0 61.2v3.4M295.0 119.1v3.4M294.9 103.8v3.4M295.1 90.4v3.4M294.9 55.2v3.4M294.8 92.1v3.4M294.8 95.7v3.4M295.1 75.0v3.4M295.1 88.7v3.4M294.7 102.7v3.4M294.9 101.4v3.4M294.8 126.4v3.4M294.9 79.8v3.4M294.8 95.8v3.4M294.8 90.9v3.4M294.7 85.9v3.4M294.9 81.6v3.4M295.0 88.7v3.4M294.8 104.4v3.4M294.9 66.9v3.4M294.7 84.5v3.4M295.1 94.4v3.4M294.8 87.3v3.4M294.9 103.4v3.4M294.8 106.6v3.4M294.9 92.9v3.4M294.8 75.9v3.4M294.9 91.8v3.4M294.8 66.6v3.4M295.0 104.8v3.4M295.1 77.7v3.4M294.7 115.7v3.4M295.0 81.7v3.4M294.9 94.7v3.4M294.9 97.9v3.4M294.8 79.4v3.4M295.0 97.3v3.4M294.8 98.3v3.4M294.8 93.1v3.4M294.9 66.9v3.4M294.7 96.5v3.4M295.0 111.9v3.4M294.9 82.2v3.4M295.1 110.3v3.4M295.1 82.1v3.4M295.0 83.2v3.4M294.7 95.3v3.4M295.0 110.1v3.4M295.1 74.7v3.4M294.9 81.9v3.4M294.8 98.5v3.4M295.0 110.1v3.4M294.7 91.5v3.4M295.1 83.8v3.4M294.8 78.6v3.4M294.8 72.3v3.4M295.1 97.3v3.4M294.7 100.4v3.4M295.0 99.2v3.4M295.0 98.8v3.4M294.9 92.3v3.4M295.1 82.4v3.4M294.7 110.0v3.4M295.1 101.1v3.4M294.7 97.9v3.4M295.0 81.5v3.4M294.8 103.7v3.4M294.7 84.7v3.4M295.0 81.1v3.4M294.7 78.4v3.4M294.9 83.7v3.4M295.0 88.4v3.4M294.9 97.1v3.4M295.0 87.4v3.4M294.7 105.0v3.4M295.0 49.2v3.4M295.1 81.9v3.4M295.0 118.6v3.4M294.7 95.3v3.4M294.8 85.4v3.4M294.7 77.6v3.4M294.8 86.8v3.4M295.0 61.2v3.4M295.1 101.6v3.4M295.0 88.2v3.4M295.0 79.6v3.4M294.7 76.3v3.4M296.2 94.0v3.4M296.3 121.0v3.4M296.1 100.4v3.4M296.1 95.3v3.4M296.3 77.2v3.4M296.4 82.7v3.4M296.1 74.9v3.4M296.3 90.4v3.4M296.3 84.3v3.4M296.1 87.3v3.4M296.4 102.5v3.4M296.3 73.9v3.4M296.4 86.2v3.4M296.1 82.4v3.4M296.3 87.6v3.4M296.0 100.6v3.4M296.4 87.5v3.4M296.1 120.9v3.4M296.1 118.3v3.4M296.0 102.6v3.4M296.2 75.3v3.4M296.2 78.6v3.4M296.0 67.4v3.4M296.0 82.0v3.4M296.2 91.3v3.4M296.0 86.7v3.4M296.1 85.9v3.4M296.2 86.9v3.4M296.0 75.6v3.4M296.1 73.1v3.4M296.3 104.9v3.4M296.2 98.7v3.4M296.3 108.7v3.4M296.2 87.8v3.4M296.1 78.9v3.4M296.4 86.0v3.4M296.3 107.4v3.4M296.0 76.3v3.4M296.1 100.0v3.4M296.2 78.7v3.4M296.3 74.9v3.4M296.2 107.6v3.4M296.2 105.0v3.4M296.1 92.2v3.4M296.0 40.8v3.4M296.2 90.4v3.4M296.1 121.3v3.4M296.1 119.4v3.4M296.2 68.7v3.4M296.4 104.3v3.4M296.2 46.8v3.4M296.3 88.6v3.4M296.0 84.1v3.4M296.4 87.7v3.4M296.4 104.0v3.4M296.4 75.3v3.4M296.3 70.7v3.4M296.3 76.6v3.4M296.0 94.7v3.4M296.3 69.2v3.4M296.3 104.6v3.4M296.1 92.7v3.4M296.3 79.1v3.4M296.1 92.6v3.4M296.1 87.6v3.4M296.0 108.0v3.4M296.1 78.6v3.4M296.2 94.6v3.4M296.2 81.8v3.4M296.0 92.4v3.4M296.1 112.5v3.4M296.3 107.9v3.4M296.2 93.2v3.4M296.2 96.6v3.4M296.2 84.5v3.4M296.4 93.8v3.4M296.2 85.5v3.4M296.4 109.2v3.4M296.1 84.9v3.4M296.1 90.8v3.4M296.1 94.0v3.4M296.3 72.8v3.4M296.4 81.2v3.4M296.1 82.7v3.4M296.3 90.4v3.4M296.3 111.2v3.4M296.0 92.3v3.4M296.1 89.0v3.4M296.4 102.7v3.4M296.3 115.9v3.4M296.0 78.9v3.4M296.4 85.5v3.4M296.0 71.8v3.4M296.2 107.0v3.4M296.3 84.8v3.4M296.2 76.4v3.4M296.3 91.6v3.4M296.3 109.2v3.4M296.1 86.2v3.4M296.3 79.5v3.4M296.1 89.5v3.4M296.3 69.4v3.4M296.4 91.3v3.4M296.4 110.0v3.4M296.2 89.3v3.4M296.3 109.4v3.4M296.0 98.5v3.4M296.1 81.4v3.4M296.4 84.1v3.4M296.3 90.8v3.4M296.2 81.6v3.4M296.1 108.6v3.4M296.2 89.5v3.4M296.3 75.5v3.4M296.1 106.6v3.4M296.1 114.2v3.4M296.0 86.2v3.4M296.3 75.3v3.4M296.1 105.0v3.4M296.1 68.0v3.4M296.3 83.4v3.4M296.1 78.1v3.4M296.2 89.7v3.4M296.2 86.9v3.4M296.4 93.9v3.4M296.2 92.7v3.4M296.2 80.7v3.4M296.1 75.3v3.4M296.2 92.0v3.4M296.4 79.5v3.4M296.0 89.1v3.4M296.4 104.2v3.4M296.3 86.0v3.4M296.3 104.3v3.4M296.2 109.0v3.4M296.2 64.8v3.4M296.0 84.2v3.4M296.4 115.0v3.4M296.2 85.6v3.4M296.2 78.1v3.4M296.3 69.2v3.4M296.3 67.2v3.4M296.2 73.3v3.4M296.3 94.6v3.4M296.1 94.9v3.4M296.2 83.4v3.4M296.2 79.9v3.4M296.2 116.9v3.4M296.1 77.0v3.4M296.1 72.3v3.4M296.0 95.4v3.4M296.4 89.1v3.4M296.3 64.8v3.4M296.2 87.5v3.4M297.5 93.2v3.4M297.3 86.7v3.4M297.5 85.8v3.4M297.5 95.4v3.4M297.6 121.6v3.4M297.4 106.2v3.4M297.7 88.0v3.4M297.5 77.8v3.4M297.7 101.0v3.4M297.6 98.5v3.4M297.6 75.6v3.4M297.5 98.5v3.4M297.3 96.2v3.4M297.4 66.4v3.4M297.3 103.2v3.4M297.3 105.9v3.4M297.6 47.1v3.4M297.6 86.3v3.4M297.4 84.0v3.4M297.5 82.9v3.4M297.4 73.2v3.4M297.4 98.5v3.4M297.5 96.5v3.4M297.6 89.3v3.4M297.7 97.3v3.4M297.4 77.0v3.4M297.5 88.8v3.4M297.4 80.6v3.4M297.3 85.0v3.4M297.5 62.6v3.4M297.5 81.4v3.4M297.4 111.4v3.4M297.5 82.4v3.4M297.6 104.2v3.4M297.3 85.6v3.4M297.5 72.5v3.4M297.5 82.9v3.4M297.3 74.8v3.4M297.5 117.8v3.4M297.5 70.9v3.4M297.4 90.0v3.4M297.3 105.3v3.4M297.7 105.1v3.4M297.5 99.2v3.4M297.7 91.4v3.4M297.4 99.3v3.4M297.6 113.4v3.4M297.4 105.6v3.4M297.4 88.5v3.4M297.6 125.8v3.4M297.4 86.3v3.4M297.7 99.7v3.4M297.5 93.0v3.4M297.4 86.0v3.4M297.6 55.4v3.4M297.4 111.2v3.4M297.6 93.7v3.4M297.5 85.5v3.4M297.7 97.4v3.4M297.7 89.4v3.4M297.5 82.3v3.4M297.4 91.2v3.4M297.4 87.4v3.4M297.4 87.1v3.4M297.5 83.6v3.4M297.7 65.1v3.4M297.5 89.7v3.4M297.4 98.1v3.4M297.4 114.6v3.4M297.3 107.4v3.4M297.3 83.2v3.4M297.4 97.5v3.4M297.3 95.0v3.4M297.3 101.1v3.4M297.7 96.0v3.4M297.4 85.9v3.4M297.5 112.9v3.4M297.5 82.2v3.4M297.5 112.8v3.4M297.7 102.7v3.4M297.5 78.2v3.4M297.3 106.7v3.4M297.4 113.4v3.4M297.4 65.1v3.4M297.5 92.4v3.4M297.4 101.9v3.4M297.4 85.7v3.4M297.3 109.1v3.4M297.6 88.7v3.4M297.6 94.0v3.4M297.4 101.1v3.4M297.5 91.1v3.4M297.6 90.4v3.4M297.3 78.2v3.4M297.5 102.9v3.4M297.5 93.7v3.4M297.7 88.4v3.4M297.7 71.1v3.4M297.4 97.1v3.4M297.5 104.7v3.4M297.4 63.9v3.4M297.5 105.5v3.4M297.7 89.1v3.4M297.4 105.4v3.4M297.5 101.5v3.4M297.4 116.4v3.4M297.6 77.7v3.4M297.5 80.0v3.4M297.7 118.9v3.4M297.6 103.8v3.4M297.5 116.8v3.4M297.5 96.7v3.4M297.4 61.0v3.4M297.4 95.3v3.4M297.6 100.1v3.4M297.3 84.4v3.4M297.5 88.4v3.4M297.4 86.4v3.4M297.4 84.7v3.4M297.7 119.7v3.4M297.4 93.2v3.4M297.4 114.0v3.4M297.5 75.7v3.4M297.3 92.4v3.4M297.6 82.8v3.4M297.4 81.9v3.4M297.3 113.0v3.4M297.6 94.4v3.4M297.7 101.9v3.4M297.5 97.7v3.4M297.5 104.7v3.4M297.4 82.5v3.4M297.5 59.1v3.4M297.4 81.8v3.4M297.6 64.6v3.4M297.4 90.0v3.4M297.6 93.0v3.4M297.4 106.6v3.4M297.6 100.1v3.4M297.6 84.8v3.4M297.5 110.0v3.4M297.6 98.4v3.4M297.6 65.7v3.4M297.4 105.0v3.4M297.5 65.0v3.4M297.7 101.8v3.4M298.8 91.4v3.4M298.5 92.5v3.4M298.6 101.1v3.4M298.7 88.2v3.4M298.5 85.7v3.4M298.9 84.0v3.4M298.8 83.1v3.4M298.8 83.2v3.4M298.6 80.0v3.4M298.9 84.8v3.4M298.7 113.0v3.4M298.7 92.4v3.4M298.8 74.5v3.4M298.6 115.3v3.4M298.6 107.7v3.4M298.6 94.1v3.4M298.8 81.5v3.4M298.5 88.6v3.4M298.8 118.0v3.4M298.8 112.1v3.4M298.6 92.6v3.4M298.6 83.7v3.4M298.6 84.1v3.4M298.9 70.2v3.4M298.7 95.4v3.4M298.7 86.8v3.4M298.6 77.2v3.4M298.7 76.4v3.4M298.8 110.3v3.4M298.8 84.0v3.4M298.6 73.7v3.4M298.7 85.1v3.4M298.8 96.0v3.4M298.6 102.9v3.4M298.5 100.0v3.4M298.8 87.2v3.4M298.5 87.4v3.4M298.5 85.0v3.4M298.6 76.8v3.4M298.5 85.7v3.4M298.6 111.5v3.4M298.9 78.5v3.4M298.8 91.6v3.4M298.8 83.4v3.4M298.6 78.9v3.4M298.5 79.5v3.4M298.9 90.3v3.4M298.5 80.0v3.4M298.8 95.8v3.4M298.6 104.5v3.4M298.7 103.8v3.4M298.9 87.5v3.4M298.8 98.8v3.4M298.6 117.8v3.4M298.8 96.6v3.4M298.6 70.3v3.4M298.8 74.9v3.4M298.5 76.6v3.4M298.8 63.5v3.4M298.9 76.9v3.4M298.8 118.8v3.4M298.7 81.2v3.4M298.6 83.2v3.4M298.9 80.5v3.4M298.6 60.5v3.4M298.6 104.8v3.4M298.9 57.4v3.4M298.8 85.5v3.4M298.6 75.9v3.4M298.9 42.5v3.4M298.7 84.1v3.4M298.6 96.9v3.4M298.9 74.8v3.4M298.7 98.6v3.4M298.7 103.1v3.4M298.5 83.2v3.4M298.9 88.1v3.4M298.6 120.8v3.4M298.6 100.7v3.4M298.9 82.2v3.4M298.7 98.5v3.4M298.5 83.0v3.4M298.9 89.6v3.4M298.7 77.7v3.4M298.6 79.1v3.4M298.9 115.0v3.4M298.8 80.8v3.4M298.6 91.9v3.4M298.7 85.6v3.4M298.9 92.9v3.4M298.9 94.7v3.4M298.7 94.2v3.4M298.7 105.9v3.4M298.8 89.4v3.4M298.6 85.9v3.4M298.7 98.6v3.4M298.7 113.2v3.4M298.7 55.8v3.4M298.7 88.7v3.4M298.6 102.3v3.4M298.7 95.1v3.4M298.9 85.2v3.4M298.7 72.7v3.4M298.7 76.0v3.4M298.9 85.9v3.4M298.5 92.0v3.4M298.5 82.0v3.4M298.6 75.9v3.4M298.6 109.7v3.4M298.9 93.1v3.4M298.8 94.5v3.4M298.6 97.3v3.4M298.7 104.1v3.4M298.9 84.7v3.4M298.6 65.7v3.4M298.6 94.6v3.4M298.7 88.5v3.4M298.7 100.2v3.4M298.7 105.4v3.4M298.7 112.7v3.4M298.6 88.1v3.4M298.8 89.6v3.4M298.8 69.4v3.4M298.8 91.1v3.4M298.6 81.7v3.4M298.8 89.7v3.4M298.7 104.8v3.4M298.9 89.5v3.4M298.8 75.9v3.4M298.9 120.7v3.4M298.8 79.8v3.4M298.7 87.8v3.4M298.8 74.5v3.4M298.9 76.1v3.4M298.8 74.8v3.4M298.7 97.8v3.4M298.7 61.4v3.4M298.9 113.3v3.4M298.8 86.7v3.4M298.8 72.3v3.4M300.1 75.8v3.4M300.0 87.2v3.4M299.9 51.3v3.4M300.2 106.3v3.4M300.0 89.9v3.4M300.1 83.0v3.4M300.0 70.6v3.4M300.0 91.6v3.4M299.9 92.5v3.4M300.0 80.8v3.4M300.1 104.0v3.4M300.2 90.3v3.4M300.2 95.2v3.4M300.0 77.3v3.4M300.1 79.1v3.4M300.0 83.5v3.4M299.9 93.0v3.4M300.1 88.5v3.4M299.9 84.5v3.4M300.1 108.6v3.4M299.9 76.9v3.4M299.9 86.2v3.4M299.9 108.7v3.4M300.0 83.4v3.4M300.2 96.9v3.4M300.1 95.2v3.4M299.9 69.5v3.4M300.1 82.8v3.4M300.1 102.6v3.4M300.2 68.0v3.4M300.1 93.1v3.4M299.9 76.2v3.4M300.2 63.3v3.4M299.9 87.4v3.4M300.2 77.7v3.4M300.1 104.3v3.4M300.1 94.7v3.4M300.0 98.7v3.4M300.1 93.6v3.4M300.2 87.2v3.4M299.8 61.1v3.4M300.2 57.3v3.4M300.0 84.2v3.4M300.2 81.9v3.4M300.1 94.9v3.4M300.2 92.6v3.4M300.0 62.8v3.4M300.1 82.3v3.4M300.1 107.2v3.4M299.8 76.9v3.4M300.2 86.6v3.4M300.1 99.4v3.4M300.1 87.1v3.4M300.2 93.1v3.4M299.8 101.7v3.4M300.2 78.6v3.4M299.9 76.8v3.4M300.0 74.9v3.4M300.0 97.6v3.4M299.8 74.7v3.4M299.9 84.5v3.4M299.9 86.2v3.4M299.8 97.5v3.4M299.9 80.9v3.4M299.8 104.2v3.4M300.0 102.0v3.4M300.0 62.6v3.4M299.9 67.1v3.4M300.1 97.0v3.4M299.9 110.1v3.4M300.1 74.8v3.4M299.8 87.9v3.4M300.1 102.8v3.4M299.9 86.8v3.4M300.0 83.2v3.4M300.1 86.8v3.4M299.9 81.3v3.4M299.9 85.2v3.4M300.2 76.7v3.4M299.9 100.8v3.4M299.9 78.6v3.4M300.0 118.7v3.4M300.1 86.6v3.4M300.2 72.2v3.4M299.9 96.9v3.4M300.0 79.7v3.4M299.9 92.6v3.4M300.1 79.5v3.4M300.1 82.0v3.4M300.1 81.5v3.4M299.9 95.6v3.4M299.9 73.7v3.4M299.9 85.5v3.4M300.0 69.0v3.4M299.9 92.4v3.4M300.0 100.2v3.4M300.0 75.6v3.4M299.9 85.8v3.4M299.9 91.6v3.4M299.9 121.8v3.4M300.2 80.2v3.4M300.1 84.6v3.4M300.0 73.3v3.4M300.1 83.9v3.4M299.9 88.0v3.4M300.0 82.0v3.4M299.9 63.0v3.4M300.0 116.4v3.4M300.0 72.7v3.4M300.0 101.4v3.4M299.9 63.3v3.4M300.1 94.0v3.4M300.0 92.7v3.4M299.9 83.6v3.4M299.9 96.4v3.4M300.2 93.1v3.4M299.9 106.6v3.4M300.0 108.5v3.4M300.1 74.4v3.4M300.2 90.3v3.4M300.1 85.6v3.4M300.0 104.0v3.4M300.0 82.7v3.4M299.9 95.5v3.4M300.2 87.5v3.4M299.8 96.5v3.4M299.8 77.0v3.4M299.9 93.6v3.4M299.8 81.0v3.4M299.9 95.0v3.4M300.2 114.2v3.4M300.0 95.3v3.4M299.8 90.1v3.4M299.9 101.9v3.4M299.9 71.2v3.4M299.8 87.6v3.4M300.0 94.0v3.4M299.9 81.4v3.4M300.1 101.6v3.4M300.1 86.9v3.4M299.9 85.8v3.4M299.9 83.9v3.4M300.2 89.7v3.4M299.9 73.5v3.4M300.0 113.8v3.4M300.1 101.6v3.4M300.2 80.6v3.4M300.1 91.3v3.4M300.2 69.3v3.4M300.1 91.3v3.4M299.9 77.4v3.4M299.8 82.3v3.4M299.9 85.0v3.4M300.2 72.6v3.4M299.9 86.8v3.4M299.9 98.0v3.4M299.9 124.3v3.4M300.0 90.0v3.4M299.9 107.1v3.4M301.0 84.9v3.4M301.2 82.0v3.4M301.1 92.8v3.4M301.0 82.7v3.4M301.1 94.0v3.4M301.1 100.7v3.4M301.4 89.8v3.4M301.3 96.2v3.4M301.1 68.8v3.4M301.0 96.5v3.4M301.3 115.3v3.4M301.3 87.5v3.4M301.4 76.9v3.4M301.2 92.5v3.4M301.1 103.6v3.4M301.0 76.2v3.4M301.3 76.1v3.4M301.0 86.2v3.4M301.3 66.0v3.4M301.2 97.1v3.4M301.0 84.1v3.4M301.1 93.8v3.4M301.3 83.7v3.4M301.3 64.4v3.4M301.2 95.6v3.4M301.2 76.1v3.4M301.3 97.6v3.4M301.3 108.9v3.4M301.0 117.5v3.4M301.3 88.1v3.4M301.4 92.1v3.4M301.4 107.2v3.4M301.3 120.7v3.4M301.2 94.4v3.4M301.1 83.7v3.4M301.3 76.1v3.4M301.1 72.4v3.4M301.3 72.0v3.4M301.2 90.9v3.4M301.2 86.0v3.4M301.2 80.3v3.4M301.2 91.0v3.4M301.1 109.7v3.4M301.1 64.0v3.4M301.1 79.8v3.4M301.3 94.5v3.4M301.2 63.5v3.4M301.3 58.3v3.4M301.4 110.7v3.4M301.2 78.9v3.4M301.4 85.0v3.4M301.1 84.5v3.4M301.1 61.2v3.4M301.3 83.7v3.4M301.4 79.6v3.4M301.1 91.8v3.4M301.2 82.5v3.4M301.2 89.7v3.4M301.1 94.0v3.4M301.3 97.8v3.4M301.3 90.1v3.4M301.2 90.8v3.4M301.0 83.9v3.4M301.3 92.4v3.4M301.2 87.2v3.4M301.2 46.3v3.4M301.1 114.0v3.4M301.3 80.1v3.4M301.2 58.3v3.4M301.3 86.6v3.4M301.2 80.5v3.4M301.3 86.8v3.4M301.3 58.3v3.4M301.1 95.3v3.4M301.3 102.9v3.4M301.2 75.4v3.4M301.3 52.3v3.4M301.3 103.7v3.4M301.2 46.3v3.4M301.3 78.6v3.4M301.0 114.0v3.4M301.1 68.5v3.4M301.3 98.6v3.4M301.4 79.2v3.4M301.3 95.5v3.4M301.2 77.3v3.4M301.0 96.0v3.4M301.3 77.4v3.4M301.1 99.5v3.4M301.3 86.0v3.4M301.1 73.6v3.4M301.2 76.5v3.4M301.2 104.3v3.4M301.3 94.4v3.4M301.1 95.4v3.4M301.1 96.3v3.4M301.0 64.3v3.4M301.2 103.5v3.4M301.0 81.4v3.4M301.2 86.5v3.4M301.3 102.6v3.4M301.3 102.7v3.4M301.3 94.6v3.4M301.2 52.3v3.4M301.4 69.4v3.4M301.3 107.1v3.4M301.3 106.6v3.4M301.3 69.8v3.4M301.4 83.1v3.4M301.2 105.3v3.4M301.2 99.3v3.4M301.2 104.6v3.4M302.3 104.4v3.4M302.3 45.5v3.4M302.7 90.5v3.4M302.6 96.4v3.4M302.4 98.0v3.4M302.4 88.3v3.4M302.4 104.9v3.4M302.6 89.6v3.4M302.7 86.4v3.4M302.5 90.1v3.4M302.7 96.4v3.4M302.3 70.6v3.4M302.5 72.8v3.4M302.3 100.9v3.4M302.3 85.7v3.4M302.4 75.4v3.4M302.7 93.5v3.4M302.4 86.6v3.4M302.5 86.9v3.4M302.7 61.1v3.4M302.3 89.3v3.4M302.6 95.9v3.4M302.4 92.1v3.4M302.6 87.1v3.4M302.7 90.4v3.4M302.5 116.4v3.4M302.6 95.4v3.4M302.5 88.7v3.4M302.6 97.8v3.4M302.5 66.7v3.4M302.4 89.7v3.4M302.5 69.5v3.4M302.6 113.9v3.4M302.5 112.7v3.4M302.6 98.8v3.4M302.6 87.3v3.4M302.4 97.9v3.4M302.4 63.5v3.4M302.4 102.7v3.4M302.3 73.1v3.4M302.4 89.4v3.4M302.6 107.2v3.4M302.5 107.9v3.4M302.6 91.2v3.4M302.6 100.2v3.4M302.4 82.2v3.4M302.6 78.9v3.4M302.3 71.7v3.4M302.5 81.1v3.4M302.7 114.8v3.4M302.5 93.5v3.4M302.6 84.9v3.4M302.6 89.7v3.4M302.5 93.1v3.4M302.7 72.7v3.4M302.7 82.7v3.4M302.4 76.9v3.4M302.3 82.2v3.4M302.4 91.9v3.4M302.6 84.2v3.4M302.6 76.6v3.4M302.3 81.5v3.4M302.5 85.9v3.4M302.4 82.7v3.4M302.6 92.0v3.4M302.4 111.1v3.4M302.7 97.0v3.4M302.6 115.9v3.4M302.4 73.8v3.4M302.5 64.1v3.4M302.4 76.0v3.4M302.6 81.3v3.4M302.4 102.7v3.4M302.7 63.5v3.4M302.6 84.0v3.4M302.3 100.1v3.4M302.6 98.0v3.4M302.5 74.3v3.4M302.6 96.6v3.4M302.7 84.3v3.4M302.5 105.5v3.4M302.5 91.4v3.4M302.6 103.4v3.4M302.6 77.1v3.4M302.6 94.2v3.4M302.5 76.4v3.4M302.7 86.4v3.4M302.6 71.1v3.4M302.6 77.9v3.4M302.5 105.3v3.4M302.5 88.0v3.4M302.7 78.3v3.4M302.4 88.9v3.4M302.4 81.5v3.4M302.6 74.5v3.4M302.4 82.5v3.4M302.6 84.2v3.4M302.6 72.1v3.4M302.5 86.5v3.4M302.4 78.2v3.4M302.5 91.3v3.4M302.3 72.9v3.4M302.7 77.3v3.4M302.3 102.1v3.4M302.6 101.7v3.4M302.6 69.5v3.4M302.6 99.1v3.4M302.6 104.1v3.4M302.6 89.1v3.4M302.7 79.2v3.4M302.5 96.6v3.4M302.6 92.9v3.4M302.4 74.0v3.4M302.6 94.8v3.4M302.4 82.9v3.4M302.5 87.0v3.4M302.7 103.4v3.4M302.5 76.5v3.4M302.5 91.9v3.4M302.6 100.7v3.4M302.5 79.3v3.4M302.4 92.0v3.4M302.7 101.0v3.4M302.5 106.3v3.4M302.3 77.0v3.4M302.3 57.5v3.4M302.4 92.4v3.4M302.3 94.1v3.4M302.4 61.3v3.4M302.5 93.2v3.4M302.3 75.6v3.4M302.4 89.7v3.4M302.5 79.8v3.4M302.7 89.3v3.4M302.5 90.5v3.4M302.6 85.1v3.4M302.3 92.3v3.4M302.6 74.6v3.4M303.7 82.6v3.4M303.8 96.3v3.4M303.9 95.7v3.4M303.9 57.1v3.4M303.9 112.4v3.4M303.7 101.5v3.4M303.9 76.1v3.4M303.9 98.7v3.4M303.8 91.4v3.4M303.6 67.7v3.4M303.8 98.3v3.4M303.7 83.8v3.4M303.8 86.8v3.4M303.7 95.2v3.4M303.7 121.1v3.4M304.0 86.4v3.4M303.8 91.0v3.4M303.8 116.3v3.4M303.9 76.1v3.4M303.7 71.9v3.4M303.7 106.5v3.4M303.7 92.1v3.4M303.6 62.6v3.4M304.0 78.1v3.4M303.6 119.5v3.4M303.7 117.9v3.4M303.8 110.4v3.4M303.9 63.2v3.4M303.8 82.5v3.4M304.0 88.2v3.4M303.9 78.8v3.4M303.7 99.6v3.4M303.9 98.2v3.4M303.7 107.1v3.4M303.7 75.6v3.4M303.7 91.8v3.4M303.7 83.2v3.4M303.6 65.6v3.4M304.0 78.8v3.4M303.7 76.0v3.4M303.8 90.2v3.4M303.9 92.1v3.4M303.9 73.0v3.4M303.9 89.0v3.4M303.7 79.4v3.4M303.8 94.9v3.4M304.0 83.3v3.4M303.8 63.1v3.4M303.8 82.8v3.4M303.9 93.7v3.4M303.6 72.9v3.4M303.9 95.7v3.4M303.8 67.5v3.4M303.7 88.3v3.4M303.7 84.3v3.4M303.7 87.1v3.4M303.9 67.4v3.4M303.9 83.3v3.4M303.8 99.4v3.4M303.7 81.3v3.4M303.8 109.3v3.4M303.7 97.9v3.4M303.8 86.5v3.4M303.9 96.7v3.4M303.9 88.0v3.4M303.9 51.1v3.4M304.0 51.1v3.4M303.8 81.1v3.4M303.9 99.3v3.4M303.6 98.7v3.4M303.8 97.7v3.4M303.7 84.5v3.4M303.6 60.0v3.4M303.6 87.7v3.4M303.8 90.6v3.4M303.8 83.6v3.4M303.7 77.4v3.4M304.0 70.8v3.4M303.8 111.0v3.4M303.7 95.1v3.4M303.9 89.4v3.4M303.9 51.1v3.4M303.8 94.6v3.4M303.7 75.9v3.4M303.7 100.1v3.4M303.6 74.8v3.4M303.6 84.2v3.4M303.9 69.1v3.4M303.7 78.4v3.4M303.8 74.1v3.4M303.7 90.8v3.4M303.9 102.8v3.4M303.6 79.7v3.4M304.0 78.0v3.4M303.7 92.2v3.4M303.9 87.2v3.4M303.7 89.6v3.4M303.9 112.7v3.4M303.7 89.7v3.4M303.7 81.5v3.4M303.8 102.5v3.4M303.7 83.0v3.4M303.8 67.9v3.4M303.7 45.1v3.4M303.9 87.2v3.4M303.8 98.6v3.4M303.8 111.9v3.4M303.9 99.1v3.4M303.7 75.1v3.4M303.9 71.6v3.4M303.8 82.6v3.4M303.9 103.8v3.4M303.8 78.0v3.4M303.9 57.1v3.4M303.8 92.9v3.4M303.9 88.8v3.4M303.9 89.8v3.4M303.8 82.7v3.4M303.6 88.8v3.4M305.2 114.6v3.4M304.9 82.4v3.4M305.1 59.4v3.4M305.1 85.9v3.4M305.2 69.1v3.4M305.2 108.7v3.4M305.2 107.8v3.4M304.9 88.5v3.4M305.0 82.2v3.4M305.0 96.3v3.4M305.2 82.8v3.4M304.9 94.9v3.4M305.1 82.0v3.4M305.0 93.1v3.4M305.0 82.6v3.4M304.9 83.3v3.4M305.2 98.5v3.4M305.1 87.9v3.4M305.0 113.0v3.4M305.1 87.0v3.4M305.0 84.6v3.4M305.1 112.9v3.4M305.1 90.6v3.4M304.9 80.2v3.4M305.2 94.2v3.4M305.2 66.1v3.4M305.1 53.4v3.4M305.1 92.4v3.4M305.2 82.2v3.4M304.9 55.2v3.4M305.2 106.1v3.4M305.1 86.5v3.4M305.0 85.0v3.4M305.2 85.8v3.4M305.1 80.6v3.4M305.1 103.4v3.4M304.9 76.3v3.4M305.2 79.0v3.4M305.2 104.9v3.4M305.2 76.2v3.4M304.9 94.7v3.4M305.0 63.7v3.4M305.0 96.8v3.4M305.2 47.4v3.4M305.1 100.8v3.4M305.2 96.4v3.4M305.0 110.7v3.4M305.2 84.7v3.4M305.3 104.6v3.4M305.1 90.0v3.4M305.1 81.5v3.4M305.1 82.2v3.4M305.1 82.5v3.4M305.3 88.3v3.4M305.2 91.8v3.4M304.9 88.2v3.4M305.0 64.7v3.4M305.3 88.2v3.4M305.2 99.7v3.4M305.0 93.1v3.4M305.1 90.4v3.4M305.1 104.0v3.4M305.1 101.7v3.4M305.2 90.3v3.4M305.0 99.6v3.4M305.2 65.4v3.4M305.1 90.9v3.4M305.1 102.9v3.4M304.9 100.3v3.4M305.2 80.5v3.4M305.2 85.1v3.4M305.0 101.1v3.4M304.9 60.5v3.4M305.0 70.8v3.4M305.3 102.0v3.4M305.3 86.7v3.4M305.1 97.9v3.4M305.3 89.3v3.4M305.1 53.4v3.4M305.1 95.7v3.4M305.0 47.4v3.4M305.2 81.4v3.4M305.0 85.5v3.4M305.2 99.7v3.4M305.1 98.8v3.4M305.1 85.1v3.4M305.0 47.4v3.4M304.9 84.7v3.4M305.2 85.0v3.4M305.0 104.4v3.4M305.2 80.5v3.4M305.1 85.0v3.4M305.0 94.3v3.4M305.3 81.1v3.4M304.9 101.3v3.4M304.9 78.3v3.4M305.1 88.5v3.4M305.1 73.2v3.4M304.9 82.4v3.4M304.9 91.4v3.4M305.3 88.5v3.4M305.0 91.4v3.4M306.6 79.0v3.4M306.6 96.9v3.4M306.7 85.3v3.4M306.5 94.3v3.4M306.5 83.6v3.4M306.6 81.2v3.4M306.4 68.2v3.4M306.3 110.1v3.4M306.4 93.6v3.4M306.6 82.1v3.4M306.4 89.2v3.4M306.6 77.8v3.4M306.5 93.6v3.4M306.5 102.2v3.4M306.6 89.4v3.4M306.6 65.9v3.4M306.7 96.5v3.4M306.5 78.8v3.4M306.7 77.4v3.4M306.6 94.5v3.4M306.5 91.7v3.4M306.6 68.3v3.4M306.7 64.5v3.4M306.3 107.9v3.4M306.6 85.6v3.4M306.6 87.2v3.4M306.6 90.1v3.4M306.4 95.1v3.4M306.5 70.3v3.4M306.6 115.6v3.4M306.7 89.0v3.4M306.4 81.5v3.4M306.3 93.1v3.4M306.3 82.4v3.4M306.6 88.9v3.4M306.4 81.2v3.4M306.4 86.1v3.4M306.5 114.5v3.4M306.6 97.1v3.4M306.4 84.9v3.4M306.4 83.0v3.4M306.5 85.6v3.4M306.5 96.3v3.4M306.4 81.9v3.4M306.4 91.9v3.4M306.6 106.2v3.4M306.6 97.9v3.4M306.4 71.7v3.4M306.3 80.7v3.4M306.5 94.1v3.4M306.3 87.1v3.4M306.3 72.3v3.4M306.6 93.1v3.4M306.4 70.2v3.4M306.5 95.6v3.4M306.5 79.9v3.4M306.5 92.9v3.4M306.5 92.2v3.4M306.7 46.8v3.4M306.4 71.7v3.4M306.4 113.3v3.4M306.5 70.1v3.4M306.5 104.4v3.4M306.5 79.0v3.4M306.7 92.6v3.4M306.3 104.0v3.4M306.4 75.8v3.4M306.7 81.0v3.4M306.6 104.8v3.4M306.7 85.8v3.4M306.5 101.1v3.4M306.4 81.9v3.4M306.4 103.8v3.4M306.5 113.2v3.4M306.3 64.8v3.4M306.3 87.9v3.4M306.5 89.8v3.4M306.6 88.5v3.4M306.5 52.8v3.4M306.3 90.8v3.4M306.6 83.7v3.4M306.5 80.7v3.4M306.4 94.0v3.4M306.7 101.5v3.4M306.5 84.1v3.4M306.7 95.8v3.4M306.7 87.5v3.4M306.6 68.2v3.4M306.5 76.9v3.4M306.4 83.1v3.4M306.3 75.8v3.4M306.6 79.9v3.4M306.7 50.8v3.4M306.6 85.9v3.4M307.5 61.1v3.4M307.5 77.9v3.4M307.7 87.5v3.4M307.6 96.1v3.4M307.9 91.2v3.4M307.8 100.3v3.4M307.6 81.7v3.4M307.8 98.8v3.4M307.6 113.8v3.4M307.9 76.1v3.4M307.8 50.9v3.4M307.7 62.9v3.4M307.7 64.2v3.4M307.5 109.2v3.4M307.7 81.6v3.4M307.6 79.2v3.4M307.9 91.4v3.4M307.5 76.3v3.4M307.6 68.9v3.4M307.8 74.8v3.4M307.7 98.1v3.4M307.8 76.2v3.4M307.7 97.5v3.4M307.9 92.4v3.4M307.9 97.0v3.4M307.6 87.6v3.4M307.8 87.1v3.4M307.9 86.4v3.4M307.8 106.2v3.4M307.6 101.4v3.4M307.7 101.1v3.4M307.5 81.9v3.4M307.7 65.6v3.4M307.8 96.2v3.4M307.8 69.3v3.4M307.6 97.1v3.4M307.7 101.4v3.4M307.6 104.6v3.4M307.6 105.8v3.4M307.7 85.6v3.4M307.7 76.5v3.4M307.5 74.4v3.4M307.6 73.1v3.4M307.6 89.0v3.4M307.7 96.0v3.4M307.8 71.6v3.4M307.7 97.9v3.4M307.8 73.2v3.4M307.6 111.5v3.4M307.6 72.6v3.4M307.9 66.9v3.4M307.7 86.2v3.4M307.8 109.2v3.4M307.7 79.6v3.4M307.7 91.6v3.4M307.7 99.4v3.4M307.6 80.4v3.4M307.7 50.9v3.4M307.6 79.9v3.4M307.9 95.4v3.4M307.5 111.6v3.4M307.7 82.9v3.4M307.5 69.8v3.4M307.5 99.5v3.4M307.7 65.6v3.4M307.5 95.1v3.4M307.5 97.2v3.4M307.7 67.8v3.4M307.8 70.9v3.4M307.9 81.2v3.4M307.8 61.1v3.4M307.8 94.6v3.4M307.8 81.4v3.4M307.8 98.6v3.4M307.6 95.4v3.4M309.2 101.5v3.4M309.2 91.5v3.4M309.0 60.5v3.4M309.0 84.3v3.4M309.2 112.9v3.4M309.2 82.0v3.4M309.0 53.8v3.4M308.9 89.8v3.4M309.3 65.9v3.4M309.2 94.0v3.4M309.2 81.4v3.4M309.0 72.8v3.4M309.0 83.0v3.4M309.0 97.6v3.4M309.1 87.8v3.4M308.9 89.7v3.4M309.1 100.1v3.4M309.1 81.1v3.4M309.2 75.0v3.4M309.1 82.5v3.4M308.9 91.4v3.4M309.1 65.7v3.4M309.1 72.9v3.4M309.1 65.7v3.4M309.1 82.6v3.4M309.2 100.6v3.4M309.0 99.8v3.4M309.1 71.3v3.4M309.1 87.8v3.4M309.3 100.4v3.4M309.1 72.0v3.4M309.0 47.7v3.4M309.1 90.5v3.4M308.9 84.1v3.4M309.1 86.9v3.4M309.2 91.4v3.4M309.2 93.9v3.4M309.2 94.9v3.4M309.2 85.1v3.4M309.1 65.7v3.4M309.2 85.1v3.4M309.2 79.2v3.4M309.0 94.0v3.4M309.0 110.5v3.4M309.3 75.7v3.4M300.0 89.7v3.4M300.0 101.8v3.4M300.0 100.1v3.4M300.0 72.9v3.4M300.0 89.0v3.4M300.0 87.0v3.4M300.0 103.0v3.4M300.0 106.1v3.4M300.0 83.5v3.4M300.0 86.7v3.4M300.0 83.9v3.4M300.0 94.6v3.4M300.0 90.7v3.4M300.0 89.1v3.4M300.0 99.2v3.4M300.0 112.2v3.4M300.0 107.8v3.4M300.0 116.1v3.4M300.0 80.1v3.4M300.0 99.5v3.4M300.0 100.9v3.4M300.0 86.5v3.4M300.0 123.7v3.4M300.0 63.3v3.4M301.8 111.7v3.4M301.8 80.9v3.4M301.8 87.3v3.4M301.8 102.1v3.4M301.8 89.3v3.4M301.8 82.6v3.4M301.8 75.9v3.4M301.8 123.6v3.4M301.8 58.4v3.4M301.8 88.5v3.4M301.8 90.6v3.4M301.8 84.6v3.4M301.8 99.1v3.4M301.8 62.0v3.4M301.8 87.9v3.4M301.8 74.3v3.4M301.8 91.5v3.4M301.8 86.6v3.4M301.8 95.5v3.4M301.8 66.0v3.4M301.8 90.8v3.4M301.8 88.7v3.4M304.2 85.9v3.4M304.2 96.9v3.4M304.2 99.2v3.4M304.2 110.7v3.4M304.2 69.2v3.4M304.2 80.6v3.4M304.2 78.3v3.4M304.2 84.0v3.4M304.2 97.0v3.4M304.2 103.9v3.4M304.2 71.1v3.4M304.2 96.5v3.4M304.2 85.6v3.4M304.2 107.0v3.4M304.2 104.1v3.4M304.2 81.0v3.4M304.2 86.7v3.4M304.2 61.9v3.4M304.2 94.2v3.4M304.2 64.9v3.4M304.2 77.8v3.4M306.6 102.5v3.4M306.6 76.7v3.4M306.6 70.0v3.4M306.6 86.9v3.4M306.6 99.8v3.4M306.6 69.3v3.4M306.6 90.5v3.4M306.6 79.3v3.4M306.6 109.5v3.4M306.6 86.5v3.4M306.6 76.5v3.4M306.6 66.7v3.4M306.6 75.0v3.4M306.6 93.4v3.4M306.6 89.1v3.4M306.6 118.3v3.4M306.6 81.6v3.4M306.6 78.7v3.4M306.6 81.9v3.4M309.0 88.8v3.4M309.0 105.0v3.4M309.0 107.0v3.4M309.0 67.6v3.4M309.0 84.9v3.4M309.0 89.2v3.4M309.0 78.3v3.4M309.0 70.2v3.4M309.0 90.1v3.4M309.0 63.2v3.4M309.0 80.0v3.4M309.0 83.6v3.4M309.0 87.6v3.4M309.0 100.0v3.4M309.0 87.0v3.4M309.0 100.5v3.4M309.0 102.7v3.4M309.0 101.6v3.4M311.4 92.0v3.4M311.4 91.2v3.4M311.4 91.3v3.4M311.4 74.5v3.4M311.4 104.8v3.4M311.4 105.4v3.4M311.4 54.4v3.4M311.4 72.2v3.4M311.4 74.9v3.4M311.4 90.5v3.4M311.4 87.4v3.4M311.4 108.5v3.4M311.4 78.1v3.4M311.4 112.8v3.4M311.4 79.6v3.4M311.4 107.1v3.4M313.2 115.0v3.4M313.2 96.5v3.4M313.2 85.2v3.4M313.2 91.8v3.4M313.2 90.2v3.4M313.2 74.4v3.4M313.2 91.5v3.4M313.2 93.8v3.4M313.2 101.5v3.4M313.2 92.5v3.4M313.2 79.3v3.4M313.2 65.0v3.4M313.2 94.3v3.4M313.2 97.6v3.4M313.2 86.6v3.4M315.6 111.5v3.4M315.6 92.4v3.4M315.6 93.6v3.4M315.6 102.3v3.4M315.6 74.6v3.4M315.6 82.7v3.4M315.6 55.8v3.4M315.6 104.7v3.4M315.6 113.9v3.4M315.6 58.0v3.4M315.6 102.7v3.4M315.6 74.2v3.4M315.6 85.0v3.4M317.4 58.9v3.4M317.4 99.0v3.4M317.4 82.9v3.4M317.4 82.6v3.4M317.4 107.1v3.4M317.4 90.5v3.4M317.4 101.8v3.4M317.4 96.4v3.4M317.4 102.5v3.4M317.4 86.7v3.4M317.4 103.5v3.4M318.7 92.4v3.4M318.7 103.6v3.4M318.7 98.7v3.4M318.7 91.6v3.4M318.7 98.7v3.4M318.7 81.2v3.4M318.7 75.7v3.4M318.7 112.4v3.4M318.7 84.6v3.4M318.7 104.0v3.4M318.7 77.7v3.4M320.0 94.9v3.4M320.0 84.5v3.4M320.0 93.7v3.4M320.0 94.0v3.4M320.0 89.6v3.4M320.0 110.3v3.4M320.0 65.5v3.4M320.0 83.8v3.4M320.0 87.5v3.4M320.0 90.9v3.4M322.4 84.5v3.4M322.4 94.5v3.4M322.4 78.5v3.4M322.4 91.7v3.4M322.4 86.8v3.4M322.4 81.8v3.4M322.4 72.0v3.4M322.4 53.0v3.4M322.4 82.7v3.4M324.8 96.1v3.4M324.8 83.0v3.4M324.8 79.9v3.4M324.8 67.5v3.4M324.8 95.2v3.4M324.8 69.0v3.4M324.8 86.9v3.4M327.2 91.1v3.4M327.2 86.0v3.4M327.2 75.8v3.4M327.2 96.1v3.4M327.2 64.1v3.4M327.2 76.5v3.4M327.2 98.2v3.4M329.6 79.4v3.4M329.6 104.1v3.4M329.6 72.3v3.4M329.6 87.3v3.4M329.6 96.8v3.4M329.6 93.1v3.4M329.6 80.7v3.4M332.0 74.7v3.4M332.0 67.3v3.4M332.0 89.7v3.4M332.0 95.6v3.4M332.0 75.3v3.4M332.0 70.2v3.4M333.3 64.2v3.4M333.3 99.2v3.4M333.3 81.3v3.4M333.3 84.8v3.4M333.3 60.7v3.4M335.7 81.4v3.4M335.7 78.1v3.4M335.7 72.6v3.4M335.7 101.0v3.4M338.1 76.9v3.4M338.1 64.3v3.4M338.1 85.2v3.4M338.1 91.9v3.4M338.1 97.6v3.4M339.4 82.6v3.4M339.4 86.9v3.4M339.4 85.2v3.4M339.4 94.1v3.4M340.7 81.6v3.4M340.7 80.5v3.4M340.7 87.4v3.4M340.7 66.1v3.4M342.5 74.6v3.4M342.5 77.3v3.4M342.5 80.3v3.4M342.5 74.3v3.4M344.9 93.4v3.4M344.9 71.2v3.4M344.9 78.4v3.4M346.2 69.0v3.4M346.2 69.3v3.4M346.2 70.0v3.4M348.0 71.1v3.4M348.0 79.0v3.4M349.8 99.2v3.4M349.8 76.5v3.4" stroke="#00bfff" stroke-width="1.2" fill="none"/>
<path d="M438.0 40.0v2.8M394.5 44.1v2.8M400.1 46.8v2.8M385.3 50.8v2.8M380.5 53.7v2.8M370.1 52.6v2.8M351.0 47.8v2.8M351.8 57.9v2.8M347.5 63.4v2.8M358.0 64.6v2.8M367.6 66.4v2.8M374.2 66.9v2.8M364.4 72.0v2.8M361.8 79.0v2.8M400.3 84.0v2.8M348.0 88.6v2.8M353.0 88.6v2.8M352.5 95.3v2.8M355.6 94.1v2.8" stroke="#2fa2e6" stroke-width="1.3" fill="none"/><path d="M509.6 123.0L510.1 122.0L510.6 120.9L511.1 119.9L511.6 118.8L512.1 117.9L512.6 117.7L513.1 117.4L513.6 117.2L514.1 116.9L514.6 116.7L515.1 116.6L515.6 117.0L516.1 117.5L516.6 117.9L517.1 118.4L517.6 118.8L518.1 119.3L518.6 119.7L519.1 120.2L519.6 120.6L520.1 121.1L520.6 121.3L521.1 121.6L521.6 121.8L522.1 122.1L522.6 122.4L523.1 122.6L523.6 122.9L524.1 123.2L524.6 123.4L525.1 123.7L525.6 124.0L526.1 124.2L526.6 124.5L527.1 124.6L527.6 124.1L528.1 123.6L528.6 123.1L529.1 122.5L529.6 122.0L530.1 121.5L530.6 121.0L531.1 120.5L531.6 120.0L532.1 119.5L532.6 119.0L533.1 118.4L533.6 117.9L534.1 117.4L534.6 116.9L535.1 116.5L535.6 116.3L536.1 116.1L536.6 115.9L537.1 115.7L537.6 115.5L538.1 115.4L538.6 115.2L539.1 115.0L539.6 114.8L540.1 114.6L540.6 114.4L541.1 114.2L541.6 114.1L542.1 113.9L542.6 113.7L543.1 113.5L543.6 113.3L544.1 113.1L544.6 112.9L545.1 112.8L545.6 112.6L546.1 112.4L546.6 112.2L547.1 112.0L547.6 111.9L548.1 111.7L548.6 111.5L549.1 111.3L549.6 111.1L550.1 111.0L550.6 110.8L551.1 110.6L551.6 110.4L552.1 110.2L552.6 110.1L553.1 109.9L553.6 109.7L554.1 109.5L554.6 109.3L555.1 109.2L555.6 109.0L556.1 108.8L556.6 108.6L557.1 108.4L557.6 108.3L558.1 108.1L558.6 107.9L559.1 107.7L559.6 107.5L560.1 107.4L560.6 107.2L561.1 107.0L561.6 106.8L562.1 106.6L562.6 106.4L563.1 106.3L563.6 106.1L564.1 105.9L564.6 105.7L565.1 105.5L565.6 105.3L566.1 105.1L566.6 105.0L567.1 104.8L567.6 104.6L568.1 104.4L568.6 104.2L569.1 104.0L569.6 103.8L570.1 103.7L570.6 103.6L571.1 103.5L571.6 103.4L572.1 103.3L572.6 103.2L573.1 103.1L573.6 103.1L574.1 103.0L574.6 102.9L575.1 102.8L575.6 102.7L576.1 102.6L576.6 102.5L577.1 102.4L577.6 102.3L578.1 102.2L578.6 102.2L579.1 102.1L579.6 102.0L580.1 101.9L580.6 101.7L581.1 101.5L581.6 101.3L582.1 101.1L582.6 100.9L583.1 100.8L583.6 100.6L584.1 100.4L584.6 100.2L585.1 100.0L585.6 99.8L586.1 99.6L586.6 99.5L587.1 99.3L587.6 99.1L588.1 98.9L588.6 98.7L589.1 98.5L589.6 98.3L590.1 98.2L590.6 98.0L591.1 97.9L591.6 97.8L592.1 97.6L592.6 97.5L593.1 97.4L593.6 97.2L594.1 97.1L594.6 97.0L595.1 96.8L595.6 96.7L596.1 96.6L596.6 96.4L597.1 96.3L597.6 96.1L598.1 96.0L598.6 95.9L599.1 95.7L599.6 95.6L600.1 95.5L600.6 95.4L601.1 95.4L601.6 95.4L602.1 95.3L602.6 95.3L603.1 95.2L603.6 95.2L604.1 95.1L604.6 95.1L605.1 95.0L605.6 95.0L606.1 95.0L606.6 94.9L607.1 94.9L607.6 94.8L608.1 94.8L608.6 94.7L609.1 94.7L609.6 94.6L610.1 94.6L610.6 94.6L611.1 94.6L611.6 94.6L612.1 94.6L612.6 94.6L613.1 94.6L613.6 94.6L614.1 94.6L614.6 94.6L615.1 94.6L615.6 94.6L616.1 94.6L616.6 94.6L617.1 94.6L617.6 94.6L618.1 94.6L618.6 94.6L619.1 94.6L619.6 94.6L620.1 94.6L620.6 94.7L621.1 94.9L621.6 95.0L622.1 95.1L622.6 95.2L623.1 95.3L623.6 95.4L624.1 95.6L624.6 95.7L625.1 95.8L625.6 95.9L625.6 155.8L625.1 155.8L624.6 155.8L624.1 155.8L623.6 155.8L623.1 155.8L622.6 155.8L622.1 155.8L621.6 155.8L621.1 155.8L620.6 155.8L620.1 155.8L619.6 155.8L619.1 155.8L618.6 155.8L618.1 155.8L617.6 155.8L617.1 155.8L616.6 155.8L616.1 155.8L615.6 155.8L615.1 155.8L614.6 155.8L614.1 155.8L613.6 155.8L613.1 155.8L612.6 155.8L612.1 155.8L611.6 155.8L611.1 155.8L610.6 155.8L610.1 155.8L609.6 155.8L609.1 155.8L608.6 155.8L608.1 155.8L607.6 155.8L607.1 155.8L606.6 155.8L606.1 155.8L605.6 155.8L605.1 155.8L604.6 155.8L604.1 155.8L603.6 155.8L603.1 155.8L602.6 155.8L602.1 155.8L601.6 155.8L601.1 155.8L600.6 155.8L600.1 155.8L599.6 155.8L599.1 155.8L598.6 155.8L598.1 155.8L597.6 155.8L597.1 155.8L596.6 155.8L596.1 155.8L595.6 155.8L595.1 155.8L594.6 155.8L594.1 155.8L593.6 155.8L593.1 155.8L592.6 155.8L592.1 155.8L591.6 155.8L591.1 155.8L590.6 155.8L590.1 155.8L589.6 155.8L589.1 155.8L588.6 155.8L588.1 155.8L587.6 155.8L587.1 155.8L586.6 155.8L586.1 155.8L585.6 155.8L585.1 155.8L584.6 155.8L584.1 155.8L583.6 155.8L583.1 155.8L582.6 155.8L582.1 155.8L581.6 155.8L581.1 155.8L580.6 155.8L580.1 155.8L579.6 155.8L579.1 155.8L578.6 155.8L578.1 155.8L577.6 155.8L577.1 155.8L576.6 155.8L576.1 155.8L575.6 155.8L575.1 155.8L574.6 155.8L574.1 155.8L573.6 155.8L573.1 155.8L572.6 155.8L572.1 155.8L571.6 155.8L571.1 155.8L570.6 155.8L570.1 155.8L569.6 155.8L569.1 155.8L568.6 155.8L568.1 155.8L567.6 155.8L567.1 155.8L566.6 155.8L566.1 155.8L565.6 155.8L565.1 155.8L564.6 155.8L564.1 155.8L563.6 155.8L563.1 155.8L562.6 155.8L562.1 155.8L561.6 155.8L561.1 155.8L560.6 155.8L560.1 155.8L559.6 155.8L559.1 155.8L558.6 155.8L558.1 155.8L557.6 155.8L557.1 155.8L556.6 155.8L556.1 155.8L555.6 155.8L555.1 155.8L554.6 155.8L554.1 155.8L553.6 155.8L553.1 155.8L552.6 155.8L552.1 155.8L551.6 155.8L551.1 155.8L550.6 155.8L550.1 155.8L549.6 155.8L549.1 155.8L548.6 155.8L548.1 155.8L547.6 155.8L547.1 155.8L546.6 155.8L546.1 155.8L545.6 155.8L545.1 155.8L544.6 157.3L544.1 157.3L543.6 157.3L543.1 157.3L542.6 157.3L542.1 157.3L541.6 157.3L541.1 157.3L540.6 157.3L540.1 157.3L539.6 157.3L539.1 157.3L538.6 157.3L538.1 157.3L537.6 157.3L537.1 157.3L536.6 157.3L536.1 157.3L535.6 157.3L535.1 157.3L534.6 157.3L534.1 157.3L533.6 157.3L533.1 157.3L532.6 157.3L532.1 157.3L531.6 157.3L531.1 157.3L530.6 157.3L530.1 157.3L529.6 157.3L529.1 157.3L528.6 157.3L528.1 157.3L527.6 157.3L527.1 157.3L526.6 157.3L526.1 157.3L525.6 157.3L525.1 157.3L524.6 157.3L524.1 157.3L523.6 157.3L523.1 157.3L522.6 157.3L522.1 157.3L521.6 157.3L521.1 157.3L520.6 157.3L520.1 157.3L519.6 157.3L519.1 157.3L518.6 157.3L518.1 157.3L517.6 157.3L517.1 157.3L516.6 157.3L516.1 157.3L515.6 157.3L515.1 157.3L514.6 157.3L514.1 157.3L513.6 157.3L513.1 157.3L512.6 157.3L512.1 157.3L511.6 157.3L511.1 157.3L510.6 157.3L510.1 157.3L509.6 157.3Z" fill="#00bfff"/>
<rect x="509.3" y="158.3" width="92" height="4.1" fill="#00bfff" opacity="0.9"/>
<rect x="509.3" y="165.9" width="92" height="4.5" fill="#00bfff" opacity="0.9"/>
<rect x="509.6" y="157" width="3" height="6" fill="#00bfff"/>
<path d="M601.5 158.3V162.4M604.0 158.3V162.4M604.0 165.9V170.4M605.2 158.3V162.4M605.2 155.8V152.0M606.4 158.3V162.4M606.4 165.9V170.4M607.7 158.3V162.4M607.7 165.9V170.4M607.7 155.8V152.0M608.9 158.3V162.4M610.1 158.3V162.4M610.1 155.8V152.0M611.4 158.3V162.4M611.4 165.9V170.4M611.4 155.8V152.0M612.6 165.9V170.4M612.6 155.8V152.0M613.9 155.8V152.0M615.1 165.9V170.4M616.3 158.3V162.4M617.6 155.8V152.0M618.8 158.3V162.4M618.8 165.9V170.4M618.8 155.8V152.0M620.0 158.3V162.4M620.0 165.9V170.4M621.3 158.3V162.4M621.3 165.9V170.4M621.3 155.8V152.0M622.5 158.3V162.4M622.5 155.8V152.0M623.7 158.3V162.4M623.7 165.9V170.4M625.0 158.3V162.4M625.0 155.8V152.0" stroke="#00bfff" stroke-width="1.3" fill="none"/>
<path d="M509.78 59.2v3.2M509.78 65.6v3.2M509.78 72.0v3.2M509.78 78.4v3.2M509.78 84.8v3.2M509.78 91.2v3.2M509.78 97.6v3.2M509.78 104.0v3.2M509.78 110.4v3.2M509.78 116.8v3.2M509.78 123.2v3.2M511.01 60.2v3.2M511.01 66.6v3.2M511.01 73.0v3.2M511.01 79.4v3.2M511.01 85.7v3.2M511.01 92.1v3.2M511.01 98.5v3.2M511.01 104.9v3.2M511.01 111.3v3.2M511.01 117.6v3.2M512.25 61.4v3.2M512.25 67.8v3.2M512.25 74.1v3.2M512.25 80.5v3.2M512.25 86.8v3.2M512.25 93.2v3.2M512.25 99.5v3.2M512.25 105.9v3.2M512.25 112.2v3.2M512.25 118.6v3.2M513.48 49.6v3.2M513.48 56.0v3.2M513.48 62.3v3.2M513.48 68.6v3.2M513.48 75.0v3.2M513.48 81.3v3.2M513.48 87.6v3.2M513.48 93.9v3.2M513.48 100.3v3.2M513.48 106.6v3.2M513.48 112.9v3.2M513.48 119.3v3.2M514.72 60.7v3.2M514.72 67.0v3.2M514.72 73.3v3.2M514.72 79.6v3.2M514.72 85.9v3.2M514.72 92.2v3.2M514.72 98.5v3.2M514.72 104.8v3.2M514.72 111.1v3.2M514.72 117.4v3.2M515.95 65.4v3.1M515.95 71.7v3.1M515.95 78.0v3.1M515.95 84.2v3.1M515.95 90.5v3.1M515.95 96.8v3.1M515.95 103.1v3.1M515.95 109.4v3.1M515.95 115.6v3.1M517.19 57.4v3.1M517.19 63.6v3.1M517.19 69.9v3.1M517.19 76.1v3.1M517.19 82.4v3.1M517.19 88.6v3.1M517.19 94.9v3.1M517.19 101.1v3.1M517.19 107.4v3.1M517.19 113.7v3.1M517.19 119.9v3.1M518.42 68.2v3.1M518.42 74.4v3.1M518.42 80.6v3.1M518.42 86.9v3.1M518.42 93.1v3.1M518.42 99.3v3.1M518.42 105.6v3.1M518.42 111.8v3.1M518.42 118.0v3.1M519.65 60.4v3.1M519.65 66.7v3.1M519.65 72.9v3.1M519.65 79.1v3.1M519.65 85.3v3.1M519.65 91.5v3.1M519.65 97.7v3.1M519.65 103.9v3.1M519.65 110.1v3.1M519.65 116.3v3.1M519.65 122.5v3.1M520.89 61.8v3.1M520.89 68.0v3.1M520.89 74.1v3.1M520.89 80.3v3.1M520.89 86.5v3.1M520.89 92.7v3.1M520.89 98.9v3.1M520.89 105.1v3.1M520.89 111.2v3.1M520.89 117.4v3.1M520.89 123.6v3.1M522.12 75.2v3.1M522.12 81.3v3.1M522.12 87.5v3.1M522.12 93.6v3.1M522.12 99.8v3.1M522.12 105.9v3.1M522.12 112.1v3.1M522.12 118.3v3.1M522.12 124.4v3.1M523.36 69.8v3.1M523.36 76.0v3.1M523.36 82.1v3.1M523.36 88.2v3.1M523.36 94.4v3.1M523.36 100.5v3.1M523.36 106.6v3.1M523.36 112.8v3.1M523.36 118.9v3.1M523.36 125.0v3.1M524.60 71.0v3.1M524.60 77.1v3.1M524.60 83.2v3.1M524.60 89.3v3.1M524.60 95.4v3.1M524.60 101.5v3.1M524.60 107.6v3.1M524.60 113.7v3.1M524.60 119.8v3.1M524.60 125.9v3.1M525.83 69.5v3.0M525.83 75.5v3.0M525.83 81.6v3.0M525.83 87.7v3.0M525.83 93.8v3.0M525.83 99.9v3.0M525.83 106.0v3.0M525.83 112.0v3.0M525.83 118.1v3.0M525.83 124.2v3.0M527.07 67.8v3.0M527.07 73.9v3.0M527.07 80.0v3.0M527.07 86.0v3.0M527.07 92.1v3.0M527.07 98.1v3.0M527.07 104.2v3.0M527.07 110.3v3.0M527.07 116.3v3.0M527.07 122.4v3.0M528.30 72.2v3.0M528.30 78.3v3.0M528.30 84.3v3.0M528.30 90.3v3.0M528.30 96.4v3.0M528.30 102.4v3.0M528.30 108.4v3.0M528.30 114.5v3.0M528.30 120.5v3.0M529.54 73.3v3.0M529.54 79.3v3.0M529.54 85.3v3.0M529.54 91.3v3.0M529.54 97.3v3.0M529.54 103.3v3.0M529.54 109.3v3.0M529.54 115.3v3.0M529.54 121.3v3.0M530.77 68.4v3.0M530.77 74.4v3.0M530.77 80.4v3.0M530.77 86.3v3.0M530.77 92.3v3.0M530.77 98.3v3.0M530.77 104.3v3.0M530.77 110.3v3.0M530.77 116.2v3.0M530.77 122.2v3.0M532.00 63.4v3.0M532.00 69.4v3.0M532.00 75.3v3.0M532.00 81.3v3.0M532.00 87.2v3.0M532.00 93.1v3.0M532.00 99.1v3.0M532.00 105.0v3.0M532.00 111.0v3.0M532.00 116.9v3.0M533.24 64.5v3.0M533.24 70.5v3.0M533.24 76.4v3.0M533.24 82.3v3.0M533.24 88.2v3.0M533.24 94.1v3.0M533.24 100.0v3.0M533.24 105.9v3.0M533.24 111.8v3.0M533.24 117.7v3.0M534.48 68.6v2.9M534.48 74.5v2.9M534.48 80.4v2.9M534.48 86.3v2.9M534.48 92.1v2.9M534.48 98.0v2.9M534.48 103.9v2.9M534.48 109.8v2.9M534.48 115.6v2.9M535.71 61.0v2.9M535.71 66.8v2.9M535.71 72.7v2.9M535.71 78.5v2.9M535.71 84.4v2.9M535.71 90.2v2.9M535.71 96.0v2.9M535.71 101.9v2.9M535.71 107.7v2.9M535.71 113.6v2.9M536.95 59.4v2.9M536.95 65.2v2.9M536.95 71.0v2.9M536.95 76.8v2.9M536.95 82.6v2.9M536.95 88.4v2.9M536.95 94.2v2.9M536.95 100.1v2.9M536.95 105.9v2.9M536.95 111.7v2.9M536.95 117.5v2.9M538.18 69.5v2.9M538.18 75.2v2.9M538.18 81.0v2.9M538.18 86.8v2.9M538.18 92.5v2.9M538.18 98.3v2.9M538.18 104.1v2.9M538.18 109.8v2.9M538.18 115.6v2.9M539.42 62.1v2.9M539.42 67.8v2.9M539.42 73.5v2.9M539.42 79.3v2.9M539.42 85.0v2.9M539.42 90.7v2.9M539.42 96.5v2.9M539.42 102.2v2.9M539.42 107.9v2.9M539.42 113.7v2.9M540.65 57.2v2.8M540.65 62.9v2.8M540.65 68.6v2.8M540.65 74.3v2.8M540.65 80.0v2.8M540.65 85.7v2.8M540.65 91.4v2.8M540.65 97.1v2.8M540.65 102.8v2.8M540.65 108.5v2.8M540.65 114.2v2.8M541.88 52.6v2.8M541.88 58.3v2.8M541.88 63.9v2.8M541.88 69.6v2.8M541.88 75.3v2.8M541.88 80.9v2.8M541.88 86.6v2.8M541.88 92.3v2.8M541.88 97.9v2.8M541.88 103.6v2.8M541.88 109.3v2.8M541.88 114.9v2.8M543.12 59.0v2.8M543.12 64.7v2.8M543.12 70.3v2.8M543.12 75.9v2.8M543.12 81.6v2.8M543.12 87.2v2.8M543.12 92.8v2.8M543.12 98.5v2.8M543.12 104.1v2.8M543.12 109.7v2.8M543.12 115.3v2.8M544.36 54.3v2.8M544.36 59.9v2.8M544.36 65.5v2.8M544.36 71.1v2.8M544.36 76.7v2.8M544.36 82.3v2.8M544.36 87.9v2.8M544.36 93.5v2.8M544.36 99.1v2.8M544.36 104.7v2.8M544.36 110.3v2.8M544.36 115.9v2.8M545.59 52.8v2.8M545.59 58.4v2.8M545.59 63.9v2.8M545.59 69.5v2.8M545.59 75.1v2.8M545.59 80.6v2.8M545.59 86.2v2.8M545.59 91.7v2.8M545.59 97.3v2.8M545.59 102.9v2.8M545.59 108.4v2.8M545.59 114.0v2.8M546.83 51.2v2.8M546.83 56.7v2.8M546.83 62.2v2.8M546.83 67.7v2.8M546.83 73.3v2.8M546.83 78.8v2.8M546.83 84.3v2.8M546.83 89.9v2.8M546.83 95.4v2.8M546.83 100.9v2.8M546.83 106.4v2.8M546.83 112.0v2.8M548.06 60.6v2.7M548.06 66.1v2.7M548.06 71.6v2.7M548.06 77.0v2.7M548.06 82.5v2.7M548.06 88.0v2.7M548.06 93.5v2.7M548.06 99.0v2.7M548.06 104.5v2.7M548.06 110.0v2.7M549.30 53.6v2.7M549.30 59.1v2.7M549.30 64.5v2.7M549.30 70.0v2.7M549.30 75.4v2.7M549.30 80.9v2.7M549.30 86.3v2.7M549.30 91.8v2.7M549.30 97.3v2.7M549.30 102.7v2.7M549.30 108.2v2.7M549.30 113.6v2.7M550.53 46.6v2.7M550.53 52.1v2.7M550.53 57.5v2.7M550.53 62.9v2.7M550.53 68.3v2.7M550.53 73.7v2.7M550.53 79.2v2.7M550.53 84.6v2.7M550.53 90.0v2.7M550.53 95.4v2.7M550.53 100.9v2.7M550.53 106.3v2.7M550.53 111.7v2.7M551.76 53.3v2.7M551.76 58.6v2.7M551.76 64.0v2.7M551.76 69.4v2.7M551.76 74.8v2.7M551.76 80.2v2.7M551.76 85.6v2.7M551.76 91.0v2.7M551.76 96.4v2.7M551.76 101.7v2.7M551.76 107.1v2.7M551.76 112.5v2.7M553.00 43.5v2.7M553.00 48.9v2.7M553.00 54.2v2.7M553.00 59.6v2.7M553.00 64.9v2.7M553.00 70.3v2.7M553.00 75.6v2.7M553.00 81.0v2.7M553.00 86.3v2.7M553.00 91.7v2.7M553.00 97.0v2.7M553.00 102.4v2.7M553.00 107.7v2.7M554.24 50.0v2.7M554.24 55.3v2.7M554.24 60.6v2.7M554.24 65.9v2.7M554.24 71.2v2.7M554.24 76.5v2.7M554.24 81.9v2.7M554.24 87.2v2.7M554.24 92.5v2.7M554.24 97.8v2.7M554.24 103.1v2.7M554.24 108.4v2.7M555.47 48.2v2.6M555.47 53.5v2.6M555.47 58.8v2.6M555.47 64.0v2.6M555.47 69.3v2.6M555.47 74.6v2.6M555.47 79.9v2.6M555.47 85.2v2.6M555.47 90.5v2.6M555.47 95.7v2.6M555.47 101.0v2.6M555.47 106.3v2.6M555.47 111.6v2.6M556.71 46.6v2.6M556.71 51.9v2.6M556.71 57.1v2.6M556.71 62.4v2.6M556.71 67.6v2.6M556.71 72.9v2.6M556.71 78.1v2.6M556.71 83.4v2.6M556.71 88.6v2.6M556.71 93.9v2.6M556.71 99.1v2.6M556.71 104.4v2.6M556.71 109.6v2.6M557.94 39.8v2.6M557.94 45.0v2.6M557.94 50.2v2.6M557.94 55.4v2.6M557.94 60.6v2.6M557.94 65.8v2.6M557.94 71.0v2.6M557.94 76.3v2.6M557.94 81.5v2.6M557.94 86.7v2.6M557.94 91.9v2.6M557.94 97.1v2.6M557.94 102.3v2.6M557.94 107.5v2.6M559.18 40.6v2.6M559.18 45.8v2.6M559.18 51.0v2.6M559.18 56.1v2.6M559.18 61.3v2.6M559.18 66.5v2.6M559.18 71.7v2.6M559.18 76.8v2.6M559.18 82.0v2.6M559.18 87.2v2.6M559.18 92.4v2.6M559.18 97.6v2.6M559.18 102.7v2.6M559.18 107.9v2.6M560.41 46.8v2.6M560.41 51.9v2.6M560.41 57.1v2.6M560.41 62.2v2.6M560.41 67.4v2.6M560.41 72.5v2.6M560.41 77.6v2.6M560.41 82.8v2.6M560.41 87.9v2.6M560.41 93.1v2.6M560.41 98.2v2.6M560.41 103.4v2.6M560.41 108.5v2.6M561.64 37.5v2.6M561.64 42.6v2.6M561.64 47.7v2.6M561.64 52.8v2.6M561.64 57.9v2.6M561.64 63.0v2.6M561.64 68.1v2.6M561.64 73.2v2.6M561.64 78.4v2.6M561.64 83.5v2.6M561.64 88.6v2.6M561.64 93.7v2.6M561.64 98.8v2.6M561.64 103.9v2.6M561.64 109.0v2.6M562.88 38.4v2.5M562.88 43.5v2.5M562.88 48.6v2.5M562.88 53.7v2.5M562.88 58.7v2.5M562.88 63.8v2.5M562.88 68.9v2.5M562.88 73.9v2.5M562.88 79.0v2.5M562.88 84.1v2.5M562.88 89.2v2.5M562.88 94.2v2.5M562.88 99.3v2.5M562.88 104.4v2.5M564.12 42.1v2.5M564.12 47.2v2.5M564.12 52.2v2.5M564.12 57.2v2.5M564.12 62.3v2.5M564.12 67.3v2.5M564.12 72.3v2.5M564.12 77.4v2.5M564.12 82.4v2.5M564.12 87.5v2.5M564.12 92.5v2.5M564.12 97.5v2.5M564.12 102.6v2.5M564.12 107.6v2.5M565.35 35.3v2.5M565.35 40.4v2.5M565.35 45.4v2.5M565.35 50.4v2.5M565.35 55.4v2.5M565.35 60.4v2.5M565.35 65.4v2.5M565.35 70.4v2.5M565.35 75.4v2.5M565.35 80.4v2.5M565.35 85.4v2.5M565.35 90.4v2.5M565.35 95.4v2.5M565.35 100.4v2.5M565.35 105.4v2.5M566.59 43.8v2.5M566.59 48.7v2.5M566.59 53.7v2.5M566.59 58.7v2.5M566.59 63.6v2.5M566.59 68.6v2.5M566.59 73.6v2.5M566.59 78.6v2.5M566.59 83.5v2.5M566.59 88.5v2.5M566.59 93.5v2.5M566.59 98.4v2.5M566.59 103.4v2.5M567.82 32.1v2.5M567.82 37.1v2.5M567.82 42.0v2.5M567.82 46.9v2.5M567.82 51.9v2.5M567.82 56.8v2.5M567.82 61.8v2.5M567.82 66.7v2.5M567.82 71.6v2.5M567.82 76.6v2.5M567.82 81.5v2.5M567.82 86.4v2.5M567.82 91.4v2.5M567.82 96.3v2.5M567.82 101.2v2.5M567.82 106.2v2.5M569.06 43.1v2.4M569.06 48.0v2.4M569.06 52.9v2.4M569.06 57.8v2.4M569.06 62.7v2.4M569.06 67.6v2.4M569.06 72.5v2.4M569.06 77.4v2.4M569.06 82.3v2.4M569.06 87.2v2.4M569.06 92.1v2.4M569.06 97.0v2.4M569.06 101.9v2.4M569.06 106.8v2.4M570.29 39.1v2.4M570.29 44.0v2.4M570.29 48.8v2.4M570.29 53.7v2.4M570.29 58.6v2.4M570.29 63.4v2.4M570.29 68.3v2.4M570.29 73.2v2.4M570.29 78.0v2.4M570.29 82.9v2.4M570.29 87.7v2.4M570.29 92.6v2.4M570.29 97.5v2.4M570.29 102.3v2.4M571.53 35.1v2.4M571.53 40.0v2.4M571.53 44.8v2.4M571.53 49.6v2.4M571.53 54.5v2.4M571.53 59.3v2.4M571.53 64.1v2.4M571.53 69.0v2.4M571.53 73.8v2.4M571.53 78.6v2.4M571.53 83.4v2.4M571.53 88.3v2.4M571.53 93.1v2.4M571.53 97.9v2.4M571.53 102.8v2.4M572.76 31.3v2.4M572.76 36.1v2.4M572.76 40.8v2.4M572.76 45.6v2.4M572.76 50.4v2.4M572.76 55.2v2.4M572.76 60.0v2.4M572.76 64.8v2.4M572.76 69.6v2.4M572.76 74.4v2.4M572.76 79.2v2.4M572.76 84.0v2.4M572.76 88.8v2.4M572.76 93.6v2.4M572.76 98.4v2.4M572.76 103.2v2.4M574.00 41.7v2.4M574.00 46.5v2.4M574.00 51.2v2.4M574.00 56.0v2.4M574.00 60.7v2.4M574.00 65.5v2.4M574.00 70.3v2.4M574.00 75.0v2.4M574.00 79.8v2.4M574.00 84.5v2.4M574.00 89.3v2.4M574.00 94.1v2.4M574.00 98.8v2.4M574.00 103.6v2.4M575.23 30.6v2.4M575.23 35.3v2.4M575.23 40.1v2.4M575.23 44.8v2.4M575.23 49.5v2.4M575.23 54.2v2.4M575.23 59.0v2.4M575.23 63.7v2.4M575.23 68.4v2.4M575.23 73.1v2.4M575.23 77.9v2.4M575.23 82.6v2.4M575.23 87.3v2.4M575.23 92.0v2.4M575.23 96.8v2.4M575.23 101.5v2.4M576.47 33.8v2.3M576.47 38.5v2.3M576.47 43.2v2.3M576.47 47.9v2.3M576.47 52.6v2.3M576.47 57.3v2.3M576.47 62.0v2.3M576.47 66.7v2.3M576.47 71.3v2.3M576.47 76.0v2.3M576.47 80.7v2.3M576.47 85.4v2.3M576.47 90.1v2.3M576.47 94.8v2.3M576.47 99.5v2.3M576.47 104.2v2.3M577.70 32.1v2.3M577.70 36.7v2.3M577.70 41.4v2.3M577.70 46.1v2.3M577.70 50.7v2.3M577.70 55.4v2.3M577.70 60.0v2.3M577.70 64.7v2.3M577.70 69.3v2.3M577.70 74.0v2.3M577.70 78.6v2.3M577.70 83.3v2.3M577.70 88.0v2.3M577.70 92.6v2.3M577.70 97.3v2.3M577.70 101.9v2.3M578.94 42.4v2.3M578.94 47.0v2.3M578.94 51.6v2.3M578.94 56.3v2.3M578.94 60.9v2.3M578.94 65.5v2.3M578.94 70.1v2.3M578.94 74.7v2.3M578.94 79.4v2.3M578.94 84.0v2.3M578.94 88.6v2.3M578.94 93.2v2.3M578.94 97.8v2.3M578.94 102.5v2.3M580.17 34.4v2.3M580.17 39.0v2.3M580.17 43.6v2.3M580.17 48.2v2.3M580.17 52.8v2.3M580.17 57.4v2.3M580.17 61.9v2.3M580.17 66.5v2.3M580.17 71.1v2.3M580.17 75.7v2.3M580.17 80.3v2.3M580.17 84.9v2.3M580.17 89.5v2.3M580.17 94.0v2.3M580.17 98.6v2.3M580.17 103.2v2.3M581.40 35.3v2.3M581.40 39.9v2.3M581.40 44.4v2.3M581.40 49.0v2.3M581.40 53.5v2.3M581.40 58.1v2.3M581.40 62.6v2.3M581.40 67.2v2.3M581.40 71.7v2.3M581.40 76.3v2.3M581.40 80.8v2.3M581.40 85.4v2.3M581.40 90.0v2.3M581.40 94.5v2.3M581.40 99.1v2.3M581.40 103.6v2.3M582.64 29.4v2.3M582.64 38.4v2.3M582.64 42.9v2.3M582.64 47.4v2.3M582.64 51.9v2.3M582.64 56.5v2.3M582.64 61.0v2.3M582.64 65.5v2.3M582.64 70.0v2.3M582.64 74.5v2.3M582.64 79.0v2.3M582.64 83.6v2.3M582.64 88.1v2.3M582.64 92.6v2.3M582.64 97.1v2.3M582.64 101.6v2.3M583.88 36.7v2.2M583.88 41.2v2.2M583.88 45.7v2.2M583.88 50.2v2.2M583.88 54.6v2.2M583.88 59.1v2.2M583.88 63.6v2.2M583.88 68.1v2.2M583.88 72.6v2.2M583.88 77.1v2.2M583.88 81.5v2.2M583.88 86.0v2.2M583.88 90.5v2.2M583.88 95.0v2.2M583.88 99.5v2.2M585.11 35.3v2.2M585.11 39.7v2.2M585.11 44.2v2.2M585.11 48.6v2.2M585.11 53.1v2.2M585.11 57.5v2.2M585.11 62.0v2.2M585.11 66.4v2.2M585.11 70.9v2.2M585.11 75.3v2.2M585.11 79.8v2.2M585.11 84.2v2.2M585.11 88.7v2.2M585.11 93.1v2.2M585.11 97.6v2.2M585.11 102.0v2.2M586.35 33.8v2.2M586.35 38.2v2.2M586.35 42.7v2.2M586.35 47.1v2.2M586.35 51.6v2.2M586.35 56.0v2.2M586.35 60.4v2.2M586.35 64.9v2.2M586.35 69.3v2.2M586.35 73.7v2.2M586.35 78.2v2.2M586.35 82.6v2.2M586.35 87.1v2.2M586.35 91.5v2.2M586.35 95.9v2.2M586.35 100.4v2.2M587.58 27.9v2.2M587.58 36.7v2.2M587.58 41.2v2.2M587.58 45.6v2.2M587.58 50.0v2.2M587.58 54.4v2.2M587.58 58.9v2.2M587.58 63.3v2.2M587.58 67.7v2.2M587.58 72.1v2.2M587.58 76.6v2.2M587.58 81.0v2.2M587.58 85.4v2.2M587.58 89.8v2.2M587.58 94.3v2.2M587.58 98.7v2.2M588.82 29.0v2.2M588.82 37.8v2.2M588.82 42.3v2.2M588.82 46.7v2.2M588.82 51.1v2.2M588.82 55.5v2.2M588.82 59.9v2.2M588.82 64.3v2.2M588.82 68.7v2.2M588.82 73.1v2.2M588.82 77.5v2.2M588.82 82.0v2.2M588.82 86.4v2.2M588.82 90.8v2.2M588.82 95.2v2.2M588.82 99.6v2.2M590.05 34.7v2.2M590.05 39.1v2.2M590.05 43.5v2.2M590.05 47.9v2.2M590.05 52.3v2.2M590.05 56.7v2.2M590.05 61.1v2.2M590.05 65.5v2.2M590.05 69.9v2.2M590.05 74.3v2.2M590.05 78.7v2.2M590.05 83.1v2.2M590.05 87.5v2.2M590.05 91.9v2.2M590.05 96.3v2.2M590.05 100.7v2.2M591.29 31.3v2.2M591.29 35.7v2.2M591.29 40.1v2.2M591.29 44.5v2.2M591.29 48.9v2.2M591.29 53.3v2.2M591.29 57.7v2.2M591.29 62.1v2.2M591.29 66.4v2.2M591.29 70.8v2.2M591.29 75.2v2.2M591.29 79.6v2.2M591.29 84.0v2.2M591.29 88.4v2.2M591.29 92.8v2.2M591.29 97.1v2.2M592.52 32.4v2.2M592.52 36.8v2.2M592.52 41.2v2.2M592.52 45.6v2.2M592.52 49.9v2.2M592.52 54.3v2.2M592.52 58.7v2.2M592.52 63.1v2.2M592.52 67.4v2.2M592.52 71.8v2.2M592.52 76.2v2.2M592.52 80.6v2.2M592.52 84.9v2.2M592.52 89.3v2.2M592.52 93.7v2.2M592.52 98.1v2.2M593.75 29.1v2.2M593.75 33.5v2.2M593.75 37.9v2.2M593.75 42.2v2.2M593.75 46.6v2.2M593.75 51.0v2.2M593.75 55.3v2.2M593.75 59.7v2.2M593.75 64.0v2.2M593.75 68.4v2.2M593.75 72.8v2.2M593.75 77.1v2.2M593.75 81.5v2.2M593.75 85.8v2.2M593.75 90.2v2.2M593.75 94.6v2.2M593.75 98.9v2.2M594.99 27.8v2.2M594.99 32.2v2.2M594.99 36.5v2.2M594.99 40.9v2.2M594.99 45.2v2.2M594.99 49.6v2.2M594.99 53.9v2.2M594.99 58.3v2.2M594.99 62.6v2.2M594.99 67.0v2.2M594.99 71.3v2.2M594.99 75.7v2.2M594.99 80.0v2.2M594.99 84.4v2.2M594.99 88.7v2.2M594.99 93.1v2.2M594.99 97.4v2.2M596.23 26.3v2.2M596.23 30.6v2.2M596.23 35.0v2.2M596.23 39.3v2.2M596.23 43.6v2.2M596.23 48.0v2.2M596.23 52.3v2.2M596.23 56.6v2.2M596.23 61.0v2.2M596.23 65.3v2.2M596.23 69.7v2.2M596.23 74.0v2.2M596.23 78.3v2.2M596.23 82.7v2.2M596.23 87.0v2.2M596.23 91.3v2.2M596.23 95.7v2.2M597.46 29.1v2.2M597.46 33.5v2.2M597.46 37.8v2.2M597.46 42.1v2.2M597.46 46.4v2.2M597.46 50.8v2.2M597.46 55.1v2.2M597.46 59.4v2.2M597.46 63.7v2.2M597.46 68.1v2.2M597.46 72.4v2.2M597.46 76.7v2.2M597.46 81.0v2.2M597.46 85.4v2.2M597.46 89.7v2.2M597.46 94.0v2.2M597.46 98.3v2.2M598.70 27.5v2.2M598.70 31.8v2.2M598.70 36.1v2.2M598.70 40.4v2.2M598.70 44.7v2.2M598.70 49.0v2.2M598.70 53.4v2.2M598.70 57.7v2.2M598.70 62.0v2.2M598.70 66.3v2.2M598.70 70.6v2.2M598.70 74.9v2.2M598.70 79.2v2.2M598.70 83.6v2.2M598.70 87.9v2.2M598.70 92.2v2.2M598.70 96.5v2.2M599.93 24.5v2.2M599.93 28.8v2.2M599.93 33.1v2.2M599.93 37.4v2.2M599.93 41.7v2.2M599.93 46.0v2.2M599.93 50.3v2.2M599.93 54.6v2.2M599.93 58.9v2.2M599.93 63.2v2.2M599.93 67.5v2.2M599.93 71.8v2.2M599.93 76.1v2.2M599.93 80.4v2.2M599.93 84.7v2.2M599.93 89.0v2.2M599.93 93.3v2.2M599.93 97.6v2.2M601.17 21.7v2.1M601.17 26.0v2.1M601.17 30.3v2.1M601.17 34.5v2.1M601.17 38.8v2.1M601.17 43.1v2.1M601.17 47.4v2.1M601.17 51.7v2.1M601.17 56.0v2.1M601.17 60.3v2.1M601.17 64.6v2.1M601.17 68.9v2.1M601.17 73.1v2.1M601.17 77.4v2.1M601.17 81.7v2.1M601.17 86.0v2.1M601.17 90.3v2.1M601.17 94.6v2.1M602.40 31.3v2.1M602.40 35.6v2.1M602.40 39.8v2.1M602.40 44.1v2.1M602.40 48.4v2.1M602.40 52.7v2.1M602.40 56.9v2.1M602.40 61.2v2.1M602.40 65.5v2.1M602.40 69.8v2.1M602.40 74.0v2.1M602.40 78.3v2.1M602.40 82.6v2.1M602.40 86.9v2.1M602.40 91.1v2.1M602.40 95.4v2.1M603.63 24.0v2.1M603.63 28.2v2.1M603.63 32.5v2.1M603.63 36.8v2.1M603.63 41.0v2.1M603.63 45.3v2.1M603.63 49.5v2.1M603.63 53.8v2.1M603.63 58.1v2.1M603.63 62.3v2.1M603.63 66.6v2.1M603.63 70.9v2.1M603.63 75.1v2.1M603.63 79.4v2.1M603.63 83.7v2.1M603.63 87.9v2.1M603.63 92.2v2.1M603.63 96.4v2.1M604.87 31.0v2.1M604.87 35.3v2.1M604.87 39.5v2.1M604.87 43.8v2.1M604.87 48.0v2.1M604.87 52.3v2.1M604.87 56.5v2.1M604.87 60.8v2.1M604.87 65.0v2.1M604.87 69.3v2.1M604.87 73.5v2.1M604.87 77.8v2.1M604.87 82.0v2.1M604.87 86.3v2.1M604.87 90.5v2.1M604.87 94.8v2.1M606.11 33.6v2.1M606.11 37.9v2.1M606.11 42.1v2.1M606.11 46.3v2.1M606.11 50.6v2.1M606.11 54.8v2.1M606.11 59.1v2.1M606.11 63.3v2.1M606.11 67.5v2.1M606.11 71.8v2.1M606.11 76.0v2.1M606.11 80.2v2.1M606.11 84.5v2.1M606.11 88.7v2.1M606.11 93.0v2.1M606.11 97.2v2.1M607.34 28.1v2.1M607.34 32.4v2.1M607.34 36.6v2.1M607.34 40.8v2.1M607.34 45.0v2.1M607.34 49.3v2.1M607.34 53.5v2.1M607.34 57.7v2.1M607.34 62.0v2.1M607.34 66.2v2.1M607.34 70.4v2.1M607.34 74.6v2.1M607.34 78.9v2.1M607.34 83.1v2.1M607.34 87.3v2.1M607.34 91.5v2.1M607.34 95.8v2.1M608.58 31.1v2.1M608.58 35.3v2.1M608.58 39.6v2.1M608.58 43.8v2.1M608.58 48.0v2.1M608.58 52.2v2.1M608.58 56.4v2.1M608.58 60.6v2.1M608.58 64.8v2.1M608.58 69.1v2.1M608.58 73.3v2.1M608.58 77.5v2.1M608.58 81.7v2.1M608.58 85.9v2.1M608.58 90.1v2.1M608.58 94.3v2.1M609.81 23.9v2.1M609.81 28.1v2.1M609.81 32.3v2.1M609.81 36.5v2.1M609.81 40.7v2.1M609.81 44.9v2.1M609.81 49.1v2.1M609.81 53.3v2.1M609.81 57.5v2.1M609.81 61.7v2.1M609.81 65.9v2.1M609.81 70.1v2.1M609.81 74.3v2.1M609.81 78.5v2.1M609.81 82.7v2.1M609.81 86.9v2.1M609.81 91.1v2.1M609.81 95.3v2.1M611.05 33.4v2.1M611.05 37.6v2.1M611.05 41.8v2.1M611.05 46.0v2.1M611.05 50.2v2.1M611.05 54.4v2.1M611.05 58.5v2.1M611.05 62.7v2.1M611.05 66.9v2.1M611.05 71.1v2.1M611.05 75.3v2.1M611.05 79.5v2.1M611.05 83.7v2.1M611.05 87.9v2.1M611.05 92.1v2.1M611.05 96.2v2.1M612.28 26.2v2.1M612.28 30.4v2.1M612.28 34.6v2.1M612.28 38.7v2.1M612.28 42.9v2.1M612.28 47.1v2.1M612.28 51.3v2.1M612.28 55.4v2.1M612.28 59.6v2.1M612.28 63.8v2.1M612.28 68.0v2.1M612.28 72.1v2.1M612.28 76.3v2.1M612.28 80.5v2.1M612.28 84.7v2.1M612.28 88.9v2.1M612.28 93.0v2.1M612.28 97.2v2.1M613.51 24.6v2.1M613.51 32.9v2.1M613.51 37.0v2.1M613.51 41.2v2.1M613.51 45.4v2.1M613.51 49.5v2.1M613.51 53.7v2.1M613.51 57.9v2.1M613.51 62.0v2.1M613.51 66.2v2.1M613.51 70.4v2.1M613.51 74.5v2.1M613.51 78.7v2.1M613.51 82.9v2.1M613.51 87.0v2.1M613.51 91.2v2.1M613.51 95.4v2.1M614.75 27.1v2.1M614.75 31.3v2.1M614.75 35.4v2.1M614.75 39.6v2.1M614.75 43.7v2.1M614.75 47.9v2.1M614.75 52.0v2.1M614.75 56.2v2.1M614.75 60.3v2.1M614.75 64.5v2.1M614.75 68.6v2.1M614.75 72.8v2.1M614.75 77.0v2.1M614.75 81.1v2.1M614.75 85.3v2.1M614.75 89.4v2.1M614.75 93.6v2.1M615.99 25.5v2.1M615.99 29.7v2.1M615.99 33.8v2.1M615.99 38.0v2.1M615.99 42.1v2.1M615.99 46.2v2.1M615.99 50.4v2.1M615.99 54.5v2.1M615.99 58.7v2.1M615.99 62.8v2.1M615.99 66.9v2.1M615.99 71.1v2.1M615.99 75.2v2.1M615.99 79.4v2.1M615.99 83.5v2.1M615.99 87.6v2.1M615.99 91.8v2.1M615.99 95.9v2.1M617.22 24.3v2.1M617.22 28.4v2.1M617.22 32.5v2.1M617.22 36.7v2.1M617.22 40.8v2.1M617.22 44.9v2.1M617.22 49.0v2.1M617.22 53.2v2.1M617.22 57.3v2.1M617.22 61.4v2.1M617.22 65.5v2.1M617.22 69.7v2.1M617.22 73.8v2.1M617.22 77.9v2.1M617.22 82.1v2.1M617.22 86.2v2.1M617.22 90.3v2.1M617.22 94.4v2.1M618.46 30.8v2.1M618.46 34.9v2.1M618.46 39.1v2.1M618.46 43.2v2.1M618.46 47.3v2.1M618.46 51.4v2.1M618.46 55.5v2.1M618.46 59.6v2.1M618.46 63.8v2.1M618.46 67.9v2.1M618.46 72.0v2.1M618.46 76.1v2.1M618.46 80.2v2.1M618.46 84.3v2.1M618.46 88.4v2.1M618.46 92.6v2.1M618.46 96.7v2.1M619.69 31.9v2.1M619.69 36.0v2.1M619.69 40.1v2.1M619.69 44.2v2.1M619.69 48.3v2.1M619.69 52.4v2.1M619.69 56.5v2.1M619.69 60.7v2.1M619.69 64.8v2.1M619.69 68.9v2.1M619.69 73.0v2.1M619.69 77.1v2.1M619.69 81.2v2.1M619.69 85.3v2.1M619.69 89.4v2.1M619.69 93.5v2.1M619.69 97.6v2.1M620.93 33.4v2.0M620.93 37.5v2.0M620.93 41.6v2.0M620.93 45.7v2.0M620.93 49.8v2.0M620.93 53.8v2.0M620.93 57.9v2.0M620.93 62.0v2.0M620.93 66.1v2.0M620.93 70.2v2.0M620.93 74.3v2.0M620.93 78.4v2.0M620.93 82.5v2.0M620.93 86.6v2.0M620.93 90.7v2.0M620.93 94.8v2.0M622.16 38.5v2.0M622.16 42.6v2.0M622.16 46.7v2.0M622.16 50.8v2.0M622.16 54.9v2.0M622.16 58.9v2.0M622.16 63.0v2.0M622.16 67.1v2.0M622.16 71.2v2.0M622.16 75.3v2.0M622.16 79.3v2.0M622.16 83.4v2.0M622.16 87.5v2.0M622.16 91.6v2.0M622.16 95.6v2.0M623.39 48.1v2.0M623.39 52.2v2.0M623.39 56.3v2.0M623.39 60.3v2.0M623.39 64.4v2.0M623.39 68.5v2.0M623.39 72.5v2.0M623.39 76.6v2.0M623.39 80.7v2.0M623.39 84.7v2.0M623.39 88.8v2.0M623.39 92.9v2.0M623.39 96.9v2.0M624.63 49.3v2.0M624.63 53.3v2.0M624.63 57.4v2.0M624.63 61.5v2.0M624.63 65.5v2.0M624.63 69.6v2.0M624.63 73.6v2.0M624.63 77.7v2.0M624.63 81.7v2.0M624.63 85.8v2.0M624.63 89.8v2.0M624.63 93.9v2.0M624.63 97.9v2.0M625.87 43.5v2.0M625.87 47.5v2.0M625.87 51.6v2.0M625.87 55.6v2.0M625.87 59.7v2.0M625.87 63.7v2.0M625.87 67.8v2.0M625.87 71.8v2.0M625.87 75.8v2.0M625.87 79.9v2.0M625.87 83.9v2.0M625.87 88.0v2.0M625.87 92.0v2.0M625.87 96.0v2.0" stroke="#00bfff" stroke-width="1.3" fill="none"/>
<path d="M512.67 112.7V118.7M517.61 111.5V119.8M531.20 111.7V121.4M532.43 113.6V120.1M533.67 114.5V118.9M536.14 112.0V117.1M538.61 108.5V116.2M543.55 109.5V114.3M544.78 110.9V113.9M546.02 109.4V113.4M547.25 104.6V113.0M549.72 107.4V112.1M550.96 104.3V111.7M553.43 104.1V110.8M554.66 106.3V110.3M557.13 103.4V109.4M562.07 98.0V107.6M563.31 97.9V107.2M564.54 103.7V106.7M565.78 96.3V106.3M570.72 99.4V104.6M575.66 93.8V103.7M578.13 99.7V103.2M579.36 96.4V103.0M581.83 92.6V102.2M584.30 92.9V101.3M585.54 92.2V100.9M586.77 93.8V100.4M595.42 92.1V97.7M596.65 92.1V97.4M597.89 93.0V97.1M600.36 89.9V96.5M601.59 86.9V96.4M602.83 82.9V96.2M605.30 91.1V96.0M609.00 83.8V95.7M610.24 81.8V95.6M613.94 86.9V95.6M617.65 89.0V95.6M618.88 85.9V95.6M620.12 86.7V95.6" stroke="#00bfff" stroke-width="1.2" fill="none"/>
<path d="M626.3 61.62888855633035V92.89766924217568" stroke="#00bfff" stroke-width="1.4" stroke-dasharray="2.4 1.9" fill="none"/>
<path d="M626.3 92.89766924217568V144.3499994040472" stroke="#00bfff" stroke-width="1.4" fill="none"/>
<path d="M626.3 144.3499994040472V164.7910047205745" stroke="#00bfff" stroke-width="1.4" stroke-dasharray="2.4 1.9" fill="none"/>
<path d="M627.6 75.43793388040542V94.07854301953428" stroke="#00bfff" stroke-width="1.4" stroke-dasharray="2.4 1.9" fill="none"/>
<path d="M627.6 94.07854301953428V143.12456239637592" stroke="#00bfff" stroke-width="1.4" fill="none"/>
<path d="M627.6 143.12456239637592V165.0508415347001" stroke="#00bfff" stroke-width="1.4" stroke-dasharray="2.4 1.9" fill="none"/>
<path d="M628.9 58.06997387342654V89.71046691632108" stroke="#00bfff" stroke-width="1.4" stroke-dasharray="2.4 1.9" fill="none"/>
<path d="M628.9 89.71046691632108V143.85362497182123" stroke="#00bfff" stroke-width="1.4" fill="none"/>
<path d="M628.9 143.85362497182123V160.69264763183313" stroke="#00bfff" stroke-width="1.4" stroke-dasharray="2.4 1.9" fill="none"/>
<path d="M630.2 63.10955976153083V88.32694951399554" stroke="#00bfff" stroke-width="1.4" stroke-dasharray="2.4 1.9" fill="none"/>
<path d="M630.2 88.32694951399554V138.4233541665119" stroke="#00bfff" stroke-width="1.4" fill="none"/>
<path d="M630.2 138.4233541665119V169.97561208869317" stroke="#00bfff" stroke-width="1.4" stroke-dasharray="2.4 1.9" fill="none"/>
<path d="M631.5 77.25086946002334V92.15890088989141" stroke="#00bfff" stroke-width="1.4" stroke-dasharray="2.4 1.9" fill="none"/>
<path d="M631.5 92.15890088989141V138.34070059334977" stroke="#00bfff" stroke-width="1.4" fill="none"/>
<path d="M631.5 138.34070059334977V163.28929346353928" stroke="#00bfff" stroke-width="1.4" stroke-dasharray="2.4 1.9" fill="none"/>
<path d="M632.8 60.54781583155659V95.51964117124011" stroke="#00bfff" stroke-width="1.4" stroke-dasharray="2.4 1.9" fill="none"/>
<path d="M632.8 141.68446640843334V161.54813056744797" stroke="#00bfff" stroke-width="1.4" stroke-dasharray="2.4 1.9" fill="none"/>
<path d="M634.1 60.74729622743639V95.27943863120299" stroke="#00bfff" stroke-width="1.4" stroke-dasharray="2.4 1.9" fill="none"/>
<path d="M634.1 95.27943863120299V142.53127594002325" stroke="#00bfff" stroke-width="1.4" fill="none"/>
<path d="M634.1 142.53127594002325V165.5200287497385" stroke="#00bfff" stroke-width="1.4" stroke-dasharray="2.4 1.9" fill="none"/>
<path d="M635.4 68.66348005327691V87.86908764132173" stroke="#00bfff" stroke-width="1.4" stroke-dasharray="2.4 1.9" fill="none"/>
<path d="M635.4 87.86908764132173V138.3713955335276" stroke="#00bfff" stroke-width="1.4" fill="none"/>
<path d="M635.4 138.3713955335276V168.65885584206464" stroke="#00bfff" stroke-width="1.4" stroke-dasharray="2.4 1.9" fill="none"/>
<path d="M637.8 53.8V141.7" stroke="#00bfff" stroke-width="1.4" fill="none"/>
<path d="M637.8 141.7V165" stroke="#00bfff" stroke-width="1.4" stroke-dasharray="2.4 1.9" fill="none"/>
<path d="M639.3 60V142" stroke="#00bfff" stroke-width="1.4" fill="none"/>
<path d="M642.2 35.5V45" stroke="#00bfff" stroke-width="1.4" stroke-dasharray="2.4 1.9" fill="none"/>
<path d="M642.2 45V145" stroke="#00bfff" stroke-width="1.4" fill="none"/>
<path d="M640.9 90V141" stroke="#00bfff" stroke-width="1.4" fill="none"/>
<path d="M644.2 39.3V143" stroke="#00bfff" stroke-width="1.4" fill="none"/>
<path d="M645.6 36.4V100" stroke="#00bfff" stroke-width="1.4" stroke-dasharray="2.4 1.9" fill="none"/>
<path d="M645.6 100V145" stroke="#00bfff" stroke-width="1.4" fill="none"/>
<path d="M645.6 145V165.7" stroke="#00bfff" stroke-width="1.4" stroke-dasharray="2.4 1.9" fill="none"/>
<path d="M647.6 104V143" stroke="#00bfff" stroke-width="1.4" fill="none"/>
<path d="M654.8 43.2V74.1" stroke="#00bfff" stroke-width="1.4" stroke-dasharray="2.4 1.9" fill="none"/>
<path d="M654.8 74.1V154.3" stroke="#00bfff" stroke-width="1.4" fill="none"/>
<path d="M655.9 74.1V154.3" stroke="#00bfff" stroke-width="1.4" fill="none"/>
<path d="M658.8 38.2v2.4M670.3 76.0v2.4M650.1 91.1v2.4M651.5 122.8v2.4M661.6 125.1v2.4M656.5 134.2v2.4M640.5 140.4v2.4M663.9 141.6v2.4M669.2 154.9v2.4" stroke="#3060c0" stroke-width="1.3" fill="none"/><text transform="translate(1.90,11.80) scale(1,1.0)" font-size="13.4" text-anchor="start" fill="#1a1a1a" >A</text>
<text transform="translate(241.10,11.80) scale(1,1.08)" font-size="12.6" text-anchor="start" fill="#1a1a1a" >B</text>
<text transform="translate(473.90,11.60) scale(1,1.12)" font-size="12.0" text-anchor="start" fill="#1a1a1a" >C</text>
<text transform="translate(2.10,226.90) scale(1,1.0)" font-size="13.0" text-anchor="start" fill="#1a1a1a" >D</text>
<text transform="translate(241.00,227.60) scale(1,1.06)" font-size="12.8" text-anchor="start" fill="#1a1a1a" >E</text>
<text transform="translate(471.90,225.90) scale(1,1.06)" font-size="12.2" text-anchor="start" fill="#1a1a1a" >F</text>
<path d="M35.7 20.8h0M54.1 30.8h0M64.7 39.7h0M72.4 43.0h0M78.6 48.8h0M83.5 51.9h0M87.5 52.6h0M90.8 58.1h0M94.1 61.5h0M97.2 58.1h0M99.9 61.5h0M102.4 63.9h0M104.3 67.7h0M106.3 70.4h0M108.8 71.0h0M109.6 73.9h0M111.0 77.5h0M112.5 68.8h0M114.6 70.3h0M113.9 73.2h0M116.8 76.8h0M118.3 77.5h0M119.7 81.9h0M121.2 79.1h0M122.4 80.3h0M124.2 83.3h0M126.0 85.1h0M127.2 84.5h0M130.3 82.1h0M133.9 79.1h0M129.1 88.1h0M132.1 87.5h0M135.7 86.3h0M134.5 91.7h0M132.1 94.2h0M136.9 95.4h0M138.7 93.6h0M142.9 94.8h0M138.1 98.4h0M139.9 99.0h0M141.7 99.0h0M145.4 99.0h0M144.2 101.4h0M146.0 102.6h0M148.4 103.2h0M151.4 102.0h0M139.9 102.6h0M141.7 104.4h0M138.7 106.8h0M144.2 106.2h0M146.6 106.2h0M149.0 105.6h0M153.2 105.6h0M154.4 106.8h0M143.6 109.3h0M146.0 108.6h0M150.2 108.6h0M152.6 108.6h0M147.2 116.5h0M151.4 111.7h0M153.8 112.3h0M156.2 111.7h0M158.6 111.1h0M150.2 113.5h0M153.2 115.3h0M156.2 114.7h0M156.8 117.1h0M149.0 117.7h0M145.8 99.0h0M149.2 102.8h0M151.8 101.5h0M153.9 104.1h0M154.3 107.0h0M148.4 106.2h0M150.1 107.0h0M146.7 108.3h0M159.8 110.4h0M150.9 112.1h0M153.5 112.1h0M156.0 112.1h0M158.1 113.4h0M164.0 114.2h0M147.5 116.3h0M154.3 115.0h0M156.8 116.3h0M161.5 116.3h0M164.4 117.2h0M167.0 116.3h0M168.7 116.7h0M176.3 118.9h0M151.3 121.4h0M156.0 121.4h0M158.5 121.8h0M161.9 121.4h0M167.0 121.4h0M170.4 121.4h0M172.9 121.4h0M169.2 169.4h0M172.0 169.4h0M172.9 169.4h0M173.8 169.4h0M174.7 169.4h0M175.6 169.4h0M176.5 169.4h0M177.4 169.4h0M178.3 169.4h0M179.2 169.4h0M180.1 169.4h0M181.0 169.4h0M181.9 169.4h0M182.8 169.4h0M183.7 169.4h0M184.6 169.4h0M185.5 169.4h0M186.4 169.4h0M187.3 169.4h0M188.2 169.4h0M189.1 169.4h0M190.0 169.4h0M190.9 169.4h0M191.8 169.4h0M192.7 169.4h0M193.6 169.4h0M194.5 169.4h0M195.4 169.4h0M196.3 169.4h0M197.2 169.4h0M198.1 169.4h0M199.0 169.4h0M199.9 169.4h0M200.8 169.4h0M201.7 169.4h0M202.6 169.4h0M164.9 153.4h0M165.8 153.4h0M166.7 153.4h0M167.6 153.4h0M168.5 153.4h0M169.4 153.4h0M170.3 153.4h0M171.2 153.4h0M172.1 153.4h0M173.0 153.4h0M173.9 153.4h0M174.8 153.4h0M175.7 153.4h0M176.6 153.4h0M177.5 153.4h0M178.4 153.4h0M179.3 153.4h0M180.2 153.4h0M181.1 153.4h0M182.0 153.4h0M182.9 153.4h0M183.8 153.4h0M184.7 153.4h0M185.6 153.4h0M186.5 153.4h0M187.4 153.4h0M188.3 153.4h0M189.2 153.4h0M190.1 153.4h0M191.0 153.4h0M191.9 153.4h0M192.8 153.4h0M193.7 153.4h0M194.6 153.4h0M195.5 153.4h0M196.4 153.4h0M197.3 153.4h0M198.2 153.4h0M162.6 144.1h0M167.3 144.1h0M168.2 144.1h0M169.1 144.1h0M170.0 144.1h0M170.9 144.1h0M171.8 144.1h0M172.7 144.1h0M173.6 144.1h0M174.5 144.1h0M175.4 144.1h0M176.3 144.1h0M177.2 144.1h0M178.1 144.1h0M179.0 144.1h0M179.9 144.1h0M180.8 144.1h0M181.7 144.1h0M182.6 144.1h0M183.5 144.1h0M184.4 144.1h0M185.3 144.1h0M186.2 144.1h0M187.1 144.1h0M188.0 144.1h0M188.9 144.1h0M192.4 144.1h0M158.6 137.5h0M159.5 137.5h0M160.4 137.5h0M161.3 137.5h0M162.2 137.5h0M163.1 137.5h0M164.0 137.5h0M164.9 137.5h0M165.8 137.5h0M166.7 137.5h0M167.6 137.5h0M168.5 137.5h0M169.4 137.5h0M170.3 137.5h0M171.2 137.5h0M174.3 137.5h0M175.2 137.5h0M176.1 137.5h0M177.0 137.5h0M177.9 137.5h0M178.8 137.5h0M179.7 137.5h0M180.6 137.5h0M181.5 137.5h0M182.4 137.5h0M183.3 137.5h0M188.5 137.5h0M190.8 137.5h0M159.4 132.4h0M164.9 132.4h0M165.8 132.4h0M166.7 132.4h0M167.6 132.4h0M168.5 132.4h0M169.4 132.4h0M170.3 132.4h0M171.2 132.4h0M172.1 132.4h0M173.0 132.4h0M173.9 132.4h0M174.8 132.4h0M175.7 132.4h0M180.6 132.4h0M185.3 132.4h0M187.7 132.4h0M155.5 128.2h0M160.2 128.2h0M168.8 128.2h0M175.9 128.2h0M152.4 124.6h0M153.3 124.6h0M154.2 124.6h0M155.1 124.6h0M156.0 124.6h0M159.4 124.6h0M163.3 124.6h0M164.2 124.6h0M165.1 124.6h0M166.0 124.6h0M166.9 124.6h0M167.8 124.6h0M168.7 124.6h0M169.6 124.6h0M173.5 124.6h0M150.8 121.5h0M151.7 121.5h0M152.6 121.5h0M174.3 121.5h0" stroke="#00bfff" stroke-width="2.6" stroke-linecap="round" fill="none"/>
<line x1="58.9" y1="15" x2="204.8" y2="175.2" stroke="#00bfff" stroke-width="1.1"/>
<rect x="29.05" y="15.05" width="180.45" height="160.25" fill="none" stroke="#1a1a1a" stroke-width="1.25"/>
<line x1="25.50" y1="63.40" x2="29.00" y2="63.40" stroke="#1a1a1a" stroke-width="1" />
<text transform="translate(21.00,63.40) rotate(-90)" font-size="6.5" text-anchor="middle" fill="#1a1a1a">100</text>
<line x1="25.50" y1="116.40" x2="29.00" y2="116.40" stroke="#1a1a1a" stroke-width="1" />
<text transform="translate(21.00,116.40) rotate(-90)" font-size="6.5" text-anchor="middle" fill="#1a1a1a">10</text>
<line x1="25.50" y1="169.40" x2="29.00" y2="169.40" stroke="#1a1a1a" stroke-width="1" />
<text transform="translate(21.00,169.40) rotate(-90)" font-size="6.5" text-anchor="middle" fill="#1a1a1a">1</text>
<line x1="35.60" y1="175.20" x2="35.60" y2="178.70" stroke="#1a1a1a" stroke-width="1" />
<text transform="translate(35.60,187.20) scale(1,1.03)" font-size="6.5" text-anchor="middle" fill="#1a1a1a" >1</text>
<line x1="96.95" y1="175.20" x2="96.95" y2="178.70" stroke="#1a1a1a" stroke-width="1" />
<text transform="translate(96.95,187.20) scale(1,1.03)" font-size="6.5" text-anchor="middle" fill="#1a1a1a" >10</text>
<line x1="158.30" y1="175.20" x2="158.30" y2="178.70" stroke="#1a1a1a" stroke-width="1" />
<text transform="translate(158.30,187.20) scale(1,1.03)" font-size="6.5" text-anchor="middle" fill="#1a1a1a" >100</text>
<line x1="195.24" y1="175.20" x2="195.24" y2="178.70" stroke="#1a1a1a" stroke-width="1" />
<text transform="translate(195.24,187.20) scale(1,1.03)" font-size="6.5" text-anchor="middle" fill="#1a1a1a" >400</text>
<text transform="translate(120.40,200.10) scale(1,1.03)" font-size="8.8" text-anchor="middle" fill="#1a1a1a" >Degree of genes</text>
<text transform="translate(9.00,79.60) rotate(-90)" font-size="8.75" text-anchor="middle" fill="#1a1a1a">Number of genes</text>
<text transform="translate(161.80,41.20) scale(1,1.03)" font-size="7.3" text-anchor="start" fill="#1a1a1a" >R</text>
<text transform="translate(166.90,38.00) scale(1,1.03)" font-size="4.6" text-anchor="start" fill="#1a1a1a"  style="stroke-width:0.22px">2</text>
<text transform="translate(171.00,41.20) scale(1,1.03)" font-size="6.9" text-anchor="start" fill="#1a1a1a" >= 0.91</text>
<text transform="translate(161.80,57.60) scale(1,1.03)" font-size="7.5" text-anchor="start" fill="#1a1a1a" >Y=X</text>
<text transform="translate(178.30,52.70) scale(1,1.03)" font-size="5.4" text-anchor="start" fill="#1a1a1a"  style="stroke-width:0.22px">-1.60</text>
<rect x="264.60" y="14.50" width="179.90" height="160.75" fill="none" stroke="#1a1a1a" stroke-width="1.15"/>
<line x1="261.50" y1="150.50" x2="265.00" y2="150.50" stroke="#1a1a1a" stroke-width="1" />
<text transform="translate(258.10,150.50) rotate(-90)" font-size="4.5" text-anchor="middle" fill="#1a1a1a" style="stroke-width:0.22px">0.40</text>
<line x1="261.50" y1="120.40" x2="265.00" y2="120.40" stroke="#1a1a1a" stroke-width="1" />
<text transform="translate(258.10,120.40) rotate(-90)" font-size="4.5" text-anchor="middle" fill="#1a1a1a" style="stroke-width:0.22px">0.45</text>
<line x1="261.50" y1="90.30" x2="265.00" y2="90.30" stroke="#1a1a1a" stroke-width="1" />
<text transform="translate(258.10,90.30) rotate(-90)" font-size="4.5" text-anchor="middle" fill="#1a1a1a" style="stroke-width:0.22px">0.50</text>
<line x1="261.50" y1="60.20" x2="265.00" y2="60.20" stroke="#1a1a1a" stroke-width="1" />
<text transform="translate(258.10,60.20) rotate(-90)" font-size="4.5" text-anchor="middle" fill="#1a1a1a" style="stroke-width:0.22px">0.55</text>
<line x1="261.50" y1="30.10" x2="265.00" y2="30.10" stroke="#1a1a1a" stroke-width="1" />
<text transform="translate(258.10,30.10) rotate(-90)" font-size="4.5" text-anchor="middle" fill="#1a1a1a" style="stroke-width:0.22px">0.60</text>
<line x1="271.70" y1="175.30" x2="271.70" y2="178.80" stroke="#1a1a1a" stroke-width="1" />
<text transform="translate(271.70,186.60) scale(1,1.03)" font-size="7.3" text-anchor="middle" fill="#1a1a1a" >1</text>
<line x1="310.66" y1="175.30" x2="310.66" y2="178.80" stroke="#1a1a1a" stroke-width="1" />
<text transform="translate(310.66,186.60) scale(1,1.03)" font-size="7.3" text-anchor="middle" fill="#1a1a1a" >100</text>
<line x1="350.01" y1="175.30" x2="350.01" y2="178.80" stroke="#1a1a1a" stroke-width="1" />
<text transform="translate(350.01,186.60) scale(1,1.03)" font-size="7.3" text-anchor="middle" fill="#1a1a1a" >200</text>
<line x1="389.36" y1="175.30" x2="389.36" y2="178.80" stroke="#1a1a1a" stroke-width="1" />
<text transform="translate(389.36,186.60) scale(1,1.03)" font-size="7.3" text-anchor="middle" fill="#1a1a1a" >300</text>
<line x1="428.71" y1="175.30" x2="428.71" y2="178.80" stroke="#1a1a1a" stroke-width="1" />
<text transform="translate(428.71,186.60) scale(1,1.03)" font-size="7.3" text-anchor="middle" fill="#1a1a1a" >400</text>
<text transform="translate(355.40,200.20) scale(1,1.03)" font-size="8.8" text-anchor="middle" fill="#1a1a1a" >Degree of genes</text>
<text transform="translate(248.40,93.40) rotate(-90)" font-size="8.75" text-anchor="middle" fill="#1a1a1a">Pearson correlation coefficient</text>
<text transform="translate(392.70,39.70) scale(1,1.03)" font-size="7.2" text-anchor="start" fill="#1a1a1a" >P=0.001</text>
<line x1="265" y1="98.1" x2="444.5" y2="72.4" stroke="#00bfff" stroke-width="1.1"/>
<rect x="497.05" y="15.25" width="179.45" height="160.50" fill="none" stroke="#1a1a1a" stroke-width="1.15"/>
<line x1="493.20" y1="159.60" x2="496.70" y2="159.60" stroke="#1a1a1a" stroke-width="1" />
<text transform="translate(489.20,159.60) rotate(-90)" font-size="7.2" text-anchor="middle" fill="#1a1a1a">0.4</text>
<line x1="493.20" y1="127.55" x2="496.70" y2="127.55" stroke="#1a1a1a" stroke-width="1" />
<text transform="translate(489.20,127.55) rotate(-90)" font-size="7.2" text-anchor="middle" fill="#1a1a1a">0.5</text>
<line x1="493.20" y1="95.50" x2="496.70" y2="95.50" stroke="#1a1a1a" stroke-width="1" />
<text transform="translate(489.20,95.50) rotate(-90)" font-size="7.2" text-anchor="middle" fill="#1a1a1a">0.6</text>
<line x1="493.20" y1="63.45" x2="496.70" y2="63.45" stroke="#1a1a1a" stroke-width="1" />
<text transform="translate(489.20,63.45) rotate(-90)" font-size="7.2" text-anchor="middle" fill="#1a1a1a">0.7</text>
<line x1="493.20" y1="31.40" x2="496.70" y2="31.40" stroke="#1a1a1a" stroke-width="1" />
<text transform="translate(489.20,31.40) rotate(-90)" font-size="7.2" text-anchor="middle" fill="#1a1a1a">0.8</text>
<line x1="504.84" y1="175.50" x2="504.84" y2="179.40" stroke="#1a1a1a" stroke-width="1" />
<text transform="translate(504.84,188.60) scale(1,1.03)" font-size="7.2" text-anchor="middle" fill="#1a1a1a" >1</text>
<line x1="528.30" y1="175.50" x2="528.30" y2="179.40" stroke="#1a1a1a" stroke-width="1" />
<text transform="translate(528.30,188.60) scale(1,1.03)" font-size="7.2" text-anchor="middle" fill="#1a1a1a" >20</text>
<line x1="553.00" y1="175.50" x2="553.00" y2="179.40" stroke="#1a1a1a" stroke-width="1" />
<text transform="translate(553.00,188.60) scale(1,1.03)" font-size="7.2" text-anchor="middle" fill="#1a1a1a" >40</text>
<line x1="577.70" y1="175.50" x2="577.70" y2="179.40" stroke="#1a1a1a" stroke-width="1" />
<text transform="translate(577.70,188.60) scale(1,1.03)" font-size="7.2" text-anchor="middle" fill="#1a1a1a" >60</text>
<line x1="602.40" y1="175.50" x2="602.40" y2="179.40" stroke="#1a1a1a" stroke-width="1" />
<text transform="translate(602.40,188.60) scale(1,1.03)" font-size="7.2" text-anchor="middle" fill="#1a1a1a" >80</text>
<line x1="627.10" y1="175.50" x2="627.10" y2="179.40" stroke="#1a1a1a" stroke-width="1" />
<text transform="translate(627.10,188.60) scale(1,1.03)" font-size="7.2" text-anchor="middle" fill="#1a1a1a" >100</text>
<line x1="651.80" y1="175.50" x2="651.80" y2="179.40" stroke="#1a1a1a" stroke-width="1" />
<text transform="translate(651.80,188.60) scale(1,1.03)" font-size="7.2" text-anchor="middle" fill="#1a1a1a" >120</text>
<line x1="676.50" y1="175.50" x2="676.50" y2="179.40" stroke="#1a1a1a" stroke-width="1" />
<text transform="translate(676.50,188.60) scale(1,1.03)" font-size="7.2" text-anchor="middle" fill="#1a1a1a" >140</text>
<text transform="translate(586.90,200.20) scale(1,1.03)" font-size="8.85" text-anchor="middle" fill="#1a1a1a" >Number of common miRNAs</text>
<text transform="translate(477.80,97.75) rotate(-90)" font-size="8.75" text-anchor="middle" fill="#1a1a1a">Pearson correlation coefficient</text>
<text transform="translate(628.50,31.10) scale(1,1.03)" font-size="7.3" text-anchor="start" fill="#1a1a1a" >P=8.01e-5</text>
<rect x="28.65" y="226.90" width="180.85" height="161.40" fill="none" stroke="#1a1a1a" stroke-width="1.15"/>
<line x1="25.10" y1="371.60" x2="28.60" y2="371.60" stroke="#1a1a1a" stroke-width="1" />
<text transform="translate(21.00,371.60) rotate(-90)" font-size="6.7" text-anchor="middle" fill="#1a1a1a">0.4</text>
<line x1="25.10" y1="337.75" x2="28.60" y2="337.75" stroke="#1a1a1a" stroke-width="1" />
<text transform="translate(21.00,337.75) rotate(-90)" font-size="6.7" text-anchor="middle" fill="#1a1a1a">0.5</text>
<line x1="25.10" y1="303.90" x2="28.60" y2="303.90" stroke="#1a1a1a" stroke-width="1" />
<text transform="translate(21.00,303.90) rotate(-90)" font-size="6.7" text-anchor="middle" fill="#1a1a1a">0.6</text>
<line x1="25.10" y1="270.05" x2="28.60" y2="270.05" stroke="#1a1a1a" stroke-width="1" />
<text transform="translate(21.00,270.05) rotate(-90)" font-size="6.7" text-anchor="middle" fill="#1a1a1a">0.7</text>
<line x1="25.10" y1="236.20" x2="28.60" y2="236.20" stroke="#1a1a1a" stroke-width="1" />
<text transform="translate(21.00,236.20) rotate(-90)" font-size="6.7" text-anchor="middle" fill="#1a1a1a">0.8</text>
<line x1="77.40" y1="388.30" x2="77.40" y2="391.80" stroke="#1a1a1a" stroke-width="1" />
<line x1="160.80" y1="388.30" x2="160.80" y2="391.80" stroke="#1a1a1a" stroke-width="1" />
<text transform="translate(49.90,407.70) scale(1,1.03)" font-size="8.75" text-anchor="start" fill="#1a1a1a" >high degree pairs</text>
<text transform="translate(131.80,407.70) scale(1,1.03)" font-size="8.75" text-anchor="start" fill="#1a1a1a" >low degree pairs</text>
<text transform="translate(10.20,303.60) rotate(-90)" font-size="8.75" text-anchor="middle" fill="#1a1a1a">Pearson correlation coefficient</text>
<line x1="77.50" y1="232.50" x2="77.50" y2="309.60" stroke="#1a1a1a" stroke-width="1.05" stroke-dasharray="3.7 4.3"/>
<line x1="77.50" y1="382.30" x2="77.50" y2="360.00" stroke="#1a1a1a" stroke-width="1.05" stroke-dasharray="3.7 4.3"/>
<line x1="74.70" y1="232.50" x2="80.30" y2="232.50" stroke="#1a1a1a" stroke-width="1.05" />
<line x1="74.70" y1="382.30" x2="80.30" y2="382.30" stroke="#1a1a1a" stroke-width="1.05" />
<rect x="68.80" y="309.60" width="17.10" height="50.40" fill="#00bfff" stroke="#1a1a1a" stroke-width="1.05"/>
<line x1="68.80" y1="337.70" x2="85.90" y2="337.70" stroke="#1a1a1a" stroke-width="2.6" />
<line x1="160.60" y1="311.50" x2="160.60" y2="348.90" stroke="#1a1a1a" stroke-width="1.05" stroke-dasharray="3.7 4.3"/>
<line x1="160.60" y1="382.30" x2="160.60" y2="375.50" stroke="#1a1a1a" stroke-width="1.05" stroke-dasharray="3.7 4.3"/>
<line x1="157.80" y1="311.50" x2="163.40" y2="311.50" stroke="#1a1a1a" stroke-width="1.05" />
<line x1="157.80" y1="382.30" x2="163.40" y2="382.30" stroke="#1a1a1a" stroke-width="1.05" />
<rect x="152.00" y="348.90" width="17.50" height="26.60" fill="#ff8c00" stroke="#1a1a1a" stroke-width="1.05"/>
<line x1="152.00" y1="364.10" x2="169.50" y2="364.10" stroke="#1a1a1a" stroke-width="2.6" />
<path d="M83.1 290.1V283.9H154.2V290.1" fill="none" stroke="#1a1a1a" stroke-width="1.3"/>
<text transform="translate(111.60,273.10) scale(1,1.03)" font-size="7.5" text-anchor="start" fill="#1a1a1a" >P &lt; 1e-32</text>
<line x1="269.50" y1="384.10" x2="269.50" y2="247.35" stroke="#1a1a1a" stroke-width="1" />
<line x1="266.00" y1="384.10" x2="269.50" y2="384.10" stroke="#1a1a1a" stroke-width="1" />
<text transform="translate(260.90,384.10) rotate(-90)" font-size="7.0" text-anchor="middle" fill="#1a1a1a">0</text>
<line x1="266.00" y1="356.75" x2="269.50" y2="356.75" stroke="#1a1a1a" stroke-width="1" />
<text transform="translate(260.90,356.75) rotate(-90)" font-size="7.0" text-anchor="middle" fill="#1a1a1a">5</text>
<line x1="266.00" y1="329.40" x2="269.50" y2="329.40" stroke="#1a1a1a" stroke-width="1" />
<text transform="translate(260.90,329.40) rotate(-90)" font-size="7.0" text-anchor="middle" fill="#1a1a1a">10</text>
<line x1="266.00" y1="302.05" x2="269.50" y2="302.05" stroke="#1a1a1a" stroke-width="1" />
<text transform="translate(260.90,302.05) rotate(-90)" font-size="7.0" text-anchor="middle" fill="#1a1a1a">15</text>
<line x1="266.00" y1="274.70" x2="269.50" y2="274.70" stroke="#1a1a1a" stroke-width="1" />
<text transform="translate(260.90,274.70) rotate(-90)" font-size="7.0" text-anchor="middle" fill="#1a1a1a">20</text>
<line x1="266.00" y1="247.35" x2="269.50" y2="247.35" stroke="#1a1a1a" stroke-width="1" />
<text transform="translate(260.90,247.35) rotate(-90)" font-size="7.0" text-anchor="middle" fill="#1a1a1a">25</text>
<rect x="275.30" y="241.88" width="11.30" height="142.22" fill="#00bfff" stroke="#1a1a1a" stroke-width="1"/>
<text transform="translate(280.95,395.40) scale(1,1.03)" font-size="7.2" text-anchor="middle" fill="#1a1a1a" >3</text>
<rect x="297.30" y="345.81" width="11.30" height="38.29" fill="#00bfff" stroke="#1a1a1a" stroke-width="1"/>
<text transform="translate(302.95,395.40) scale(1,1.03)" font-size="7.2" text-anchor="middle" fill="#1a1a1a" >4</text>
<rect x="319.30" y="378.63" width="11.30" height="5.47" fill="#00bfff" stroke="#1a1a1a" stroke-width="1"/>
<text transform="translate(324.95,395.40) scale(1,1.03)" font-size="7.2" text-anchor="middle" fill="#1a1a1a" >5</text>
<rect x="341.30" y="373.16" width="11.30" height="10.94" fill="#00bfff" stroke="#1a1a1a" stroke-width="1"/>
<text transform="translate(346.95,395.40) scale(1,1.03)" font-size="7.2" text-anchor="middle" fill="#1a1a1a" >6</text>
<rect x="363.30" y="378.63" width="11.30" height="5.47" fill="#00bfff" stroke="#1a1a1a" stroke-width="1"/>
<text transform="translate(368.95,395.40) scale(1,1.03)" font-size="7.2" text-anchor="middle" fill="#1a1a1a" >18</text>
<rect x="385.30" y="378.63" width="11.30" height="5.47" fill="#00bfff" stroke="#1a1a1a" stroke-width="1"/>
<text transform="translate(390.95,395.40) scale(1,1.03)" font-size="7.2" text-anchor="middle" fill="#1a1a1a" >22</text>
<rect x="407.30" y="378.63" width="11.30" height="5.47" fill="#00bfff" stroke="#1a1a1a" stroke-width="1"/>
<text transform="translate(412.95,395.40) scale(1,1.03)" font-size="7.2" text-anchor="middle" fill="#1a1a1a" >91</text>
<rect x="429.30" y="378.63" width="11.30" height="5.47" fill="#00bfff" stroke="#1a1a1a" stroke-width="1"/>
<text transform="translate(434.95,395.40) scale(1,1.03)" font-size="7.2" text-anchor="middle" fill="#1a1a1a" >191</text>
<text transform="translate(371.70,410.00) scale(1,1.03)" font-size="8.75" text-anchor="middle" fill="#1a1a1a" >Community size</text>
<text transform="translate(250.60,308.00) rotate(-90)" font-size="8.75" text-anchor="middle" fill="#1a1a1a">number of community</text>
<rect x="499.50" y="230.50" width="178.00" height="158.70" fill="none" stroke="#1a1a1a" stroke-width="1.15"/>
<line x1="496.10" y1="383.40" x2="499.60" y2="383.40" stroke="#1a1a1a" stroke-width="1" />
<text transform="translate(491.20,383.40) rotate(-90)" font-size="6.7" text-anchor="middle" fill="#1a1a1a">0.0</text>
<line x1="496.10" y1="362.45" x2="499.60" y2="362.45" stroke="#1a1a1a" stroke-width="1" />
<text transform="translate(491.20,362.45) rotate(-90)" font-size="6.7" text-anchor="middle" fill="#1a1a1a">0.5</text>
<line x1="496.10" y1="341.50" x2="499.60" y2="341.50" stroke="#1a1a1a" stroke-width="1" />
<text transform="translate(491.20,341.50) rotate(-90)" font-size="6.7" text-anchor="middle" fill="#1a1a1a">1.0</text>
<line x1="496.10" y1="320.55" x2="499.60" y2="320.55" stroke="#1a1a1a" stroke-width="1" />
<text transform="translate(491.20,320.55) rotate(-90)" font-size="6.7" text-anchor="middle" fill="#1a1a1a">1.5</text>
<line x1="496.10" y1="299.60" x2="499.60" y2="299.60" stroke="#1a1a1a" stroke-width="1" />
<text transform="translate(491.20,299.60) rotate(-90)" font-size="6.7" text-anchor="middle" fill="#1a1a1a">2.0</text>
<line x1="496.10" y1="278.65" x2="499.60" y2="278.65" stroke="#1a1a1a" stroke-width="1" />
<text transform="translate(491.20,278.65) rotate(-90)" font-size="6.7" text-anchor="middle" fill="#1a1a1a">2.5</text>
<line x1="496.10" y1="257.70" x2="499.60" y2="257.70" stroke="#1a1a1a" stroke-width="1" />
<text transform="translate(491.20,257.70) rotate(-90)" font-size="6.7" text-anchor="middle" fill="#1a1a1a">3.0</text>
<line x1="496.10" y1="236.75" x2="499.60" y2="236.75" stroke="#1a1a1a" stroke-width="1" />
<text transform="translate(491.20,236.75) rotate(-90)" font-size="6.7" text-anchor="middle" fill="#1a1a1a">3.5</text>
<line x1="512.10" y1="388.80" x2="512.10" y2="392.50" stroke="#1a1a1a" stroke-width="1" />
<text transform="translate(512.10,401.80) scale(1,1.03)" font-size="7.5" text-anchor="middle" fill="#1a1a1a" >&#8722;0.5</text>
<line x1="566.10" y1="388.80" x2="566.10" y2="392.50" stroke="#1a1a1a" stroke-width="1" />
<text transform="translate(566.10,401.80) scale(1,1.03)" font-size="7.5" text-anchor="middle" fill="#1a1a1a" >0.0</text>
<line x1="620.10" y1="388.80" x2="620.10" y2="392.50" stroke="#1a1a1a" stroke-width="1" />
<text transform="translate(620.10,401.80) scale(1,1.03)" font-size="7.5" text-anchor="middle" fill="#1a1a1a" >0.5</text>
<line x1="674.10" y1="388.80" x2="674.10" y2="392.50" stroke="#1a1a1a" stroke-width="1" />
<text transform="translate(674.10,401.80) scale(1,1.03)" font-size="7.5" text-anchor="middle" fill="#1a1a1a" >1.0</text>
<text transform="translate(596.60,409.60) scale(1,1.03)" font-size="8.75" text-anchor="middle" fill="#1a1a1a" >Pearson correlation coeficient</text>
<text transform="translate(479.40,305.90) rotate(-90)" font-size="8.75" text-anchor="middle" fill="#1a1a1a">Density</text>
<text transform="translate(637.80,371.70) scale(1,1.03)" font-size="7.5" text-anchor="start" fill="#1a1a1a" >P &lt; 1e-32</text>
<line x1="499.50" y1="383.40" x2="677.50" y2="383.40" stroke="#d8d8d8" stroke-width="0.7" />
<path d="M505.30 383.40C510.55 383.27 530.43 383.13 536.80 382.60C543.17 382.07 540.40 381.62 543.50 380.20C546.60 378.78 551.73 377.37 555.40 374.10C559.07 370.83 562.40 365.12 565.50 360.60C568.60 356.08 571.47 351.52 574.00 347.00C576.53 342.48 578.60 338.00 580.70 333.50C582.80 329.00 584.27 325.02 586.60 320.00C588.93 314.98 592.47 306.98 594.70 303.40C596.93 299.82 598.07 299.52 600.00 298.50C601.93 297.48 604.43 297.12 606.30 297.30C608.17 297.48 609.42 296.83 611.20 299.60C612.98 302.37 615.08 309.58 617.00 313.90C618.92 318.22 620.93 321.32 622.70 325.50C624.47 329.68 625.82 333.85 627.60 339.00C629.38 344.15 631.32 350.92 633.40 356.40C635.48 361.88 637.53 367.70 640.10 371.90C642.67 376.10 646.05 379.57 648.80 381.60C651.55 383.63 653.53 383.63 656.60 384.10C659.67 384.57 665.43 384.35 667.20 384.40" fill="none" stroke="#00bfff" stroke-width="2.2" stroke-dasharray="5.5 4.3"/>
<path d="M510.30 383.50C513.58 383.42 523.05 383.48 530.00 383.00C536.95 382.52 546.37 381.23 552.00 380.60C557.63 379.97 560.42 379.87 563.80 379.20C567.18 378.53 569.77 377.73 572.30 376.60C574.83 375.47 576.75 374.37 579.00 372.40C581.25 370.43 583.68 367.47 585.80 364.80C587.92 362.13 590.00 359.63 591.70 356.40C593.40 353.17 594.73 349.22 596.00 345.40C597.27 341.58 598.07 337.12 599.30 333.50C600.53 329.88 601.90 327.58 603.40 323.70C604.90 319.82 606.85 314.38 608.30 310.20C609.75 306.02 610.50 302.47 612.10 298.60C613.70 294.73 616.35 289.57 617.90 287.00C619.45 284.43 619.95 283.52 621.40 283.20C622.85 282.88 624.93 283.33 626.60 285.10C628.27 286.87 630.12 291.07 631.40 293.80C632.68 296.53 632.85 296.87 634.30 301.50C635.75 306.13 638.32 315.67 640.10 321.60C641.88 327.53 643.55 332.10 645.00 337.10C646.45 342.10 647.52 347.25 648.80 351.60C650.08 355.95 651.40 359.50 652.70 363.20C654.00 366.90 655.15 370.90 656.60 373.80C658.05 376.70 659.63 379.05 661.40 380.60C663.17 382.15 665.10 382.65 667.20 383.10C669.30 383.55 672.87 383.27 674.00 383.30" fill="none" stroke="#ff8c00" stroke-width="2.3"/>
<rect x="616.50" y="239.00" width="54.50" height="21.90" fill="white" stroke="#222" stroke-width="1.15"/>
<line x1="622.40" y1="246.10" x2="627.70" y2="246.10" stroke="#00bfff" stroke-width="2.3" stroke-linecap="round"/>
<line x1="622.40" y1="253.80" x2="628.80" y2="253.80" stroke="#ff8c00" stroke-width="2.3" stroke-linecap="round"/>
<text transform="translate(639.00,248.80) scale(1,1.03)" font-size="6.0" text-anchor="start" fill="#1a1a1a" >Dicer&#8722;high</text>
<text transform="translate(639.00,256.20) scale(1,1.03)" font-size="6.0" text-anchor="start" fill="#1a1a1a" >Dicer&#8722;low</text></svg>
</body></html>
